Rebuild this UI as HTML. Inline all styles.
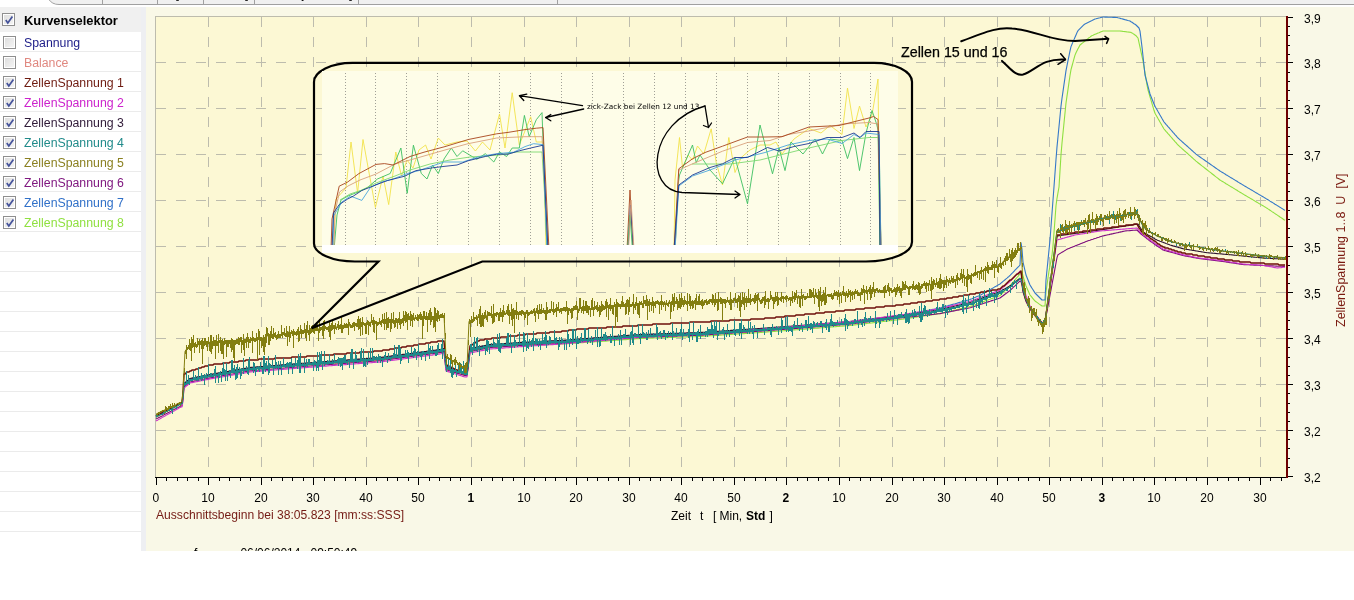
<!DOCTYPE html>
<html><head><meta charset="utf-8"><style>
*{margin:0;padding:0;box-sizing:border-box}
html,body{width:1354px;height:600px;overflow:hidden;background:#fff}
body{position:relative;font-family:"Liberation Sans",Arial,sans-serif;}
.abs{position:absolute}
#tabs{position:absolute;left:0;top:0;width:1354px;height:5px;overflow:hidden}
#tabbg{position:absolute;left:50px;top:0;right:0;height:4px;background:#f0f0f0;border-bottom:1px solid #a0a0a0}
.tsep{position:absolute;top:0;width:1px;height:4px;background:#a0a0a0}
.frag{position:absolute;top:-13px;font-size:13px;line-height:14px;color:#000}
#left{position:absolute;left:0;top:7px;width:141px;height:544px;background:#fff;overflow:hidden}
#hdr{position:absolute;left:0;top:0;width:141px;height:25px;background:#f0f0f0}
#hdr span{position:absolute;left:24px;top:5.5px;font-weight:bold;font-size:12.9px;line-height:15px;color:#000}
#gap{position:absolute;left:141px;top:7px;width:5px;height:544px;background:#eeeff2}
#right{position:absolute;left:146px;top:7px;width:1208px;height:544px;background:#f9f8e7}
.row{position:absolute;left:0;width:141px;height:20px;border-bottom:1px solid #ebebeb;margin-top:-7px}
.row span{position:absolute;left:24px;top:3.5px;font-size:12.3px;line-height:15px;white-space:nowrap}
.cb{position:absolute;left:3px;top:4px;width:13px;height:13px;border:1px solid #8f8f8f;background:linear-gradient(135deg,#dcdcdc,#f6f6f6);box-shadow:inset 0 0 0 1px #fff}
.ck{position:absolute;left:1px;top:1px}
#hdr .cb{left:2px;top:6px}
.xl{position:absolute;top:491px;width:40px;text-align:center;font-size:12px;line-height:14px;color:#000}
.yl{position:absolute;left:1304px;font-size:12px;line-height:15px;color:#000}
#zeit{position:absolute;left:671px;top:509px;font-size:12px;line-height:14px;white-space:pre;color:#000}
#zeit span{position:absolute;top:0}
#aus{position:absolute;left:156px;top:508px;font-size:12.1px;line-height:14px;color:#741a14;white-space:nowrap}
#ytitle{position:absolute;left:1335px;top:327px;transform-origin:0 0;transform:rotate(-90deg);font-size:12.5px;line-height:12px;color:#7a1a10;white-space:pre}
#foot{position:absolute;left:146px;top:540px;width:700px;height:11px;overflow:hidden}
#foot span{position:absolute;top:6px;font-size:12px;line-height:14px;color:#000;white-space:pre}
</style></head><body>
<div id="tabs"><svg class="abs" style="left:0;top:0" width="1354" height="6"><path d="M48.5,-1 Q52,4 59,4 L1354,4 L1354,-1 Z" fill="#f0f0f0"/><path d="M48.5,-1 Q52,4.5 59,4.5 L1354,4.5" fill="none" stroke="#a0a0a0" stroke-width="1"/></svg>
<div class="tsep" style="left:102px"></div><div class="tsep" style="left:157px"></div><div class="tsep" style="left:203px"></div>
<div class="tsep" style="left:254px"></div><div class="tsep" style="left:358px"></div><div class="tsep" style="left:557px"></div>
<span class="frag" style="left:176px">]</span><span class="frag" style="left:245px">]</span><span class="frag" style="left:302px">j</span><span class="frag" style="left:349px">]</span>
</div>
<div id="left"><div id="hdr"><div class="cb"><svg class="ck" width="11" height="11" viewBox="0 0 11 11"><path d="M1.8 5.0 L3.8 7.9 L8.4 1.5" fill="none" stroke="#44529a" stroke-width="1.7"/></svg></div><span>Kurvenselektor</span></div>
<div class="row" style="top:32px"><div class="cb"></div><span style="color:#1c1c88">Spannung</span></div><div class="row" style="top:52px"><div class="cb"></div><span style="color:#e08880">Balance</span></div><div class="row" style="top:72px"><div class="cb"><svg class="ck" width="11" height="11" viewBox="0 0 11 11"><path d="M1.8 5.0 L3.8 7.9 L8.4 1.5" fill="none" stroke="#44529a" stroke-width="1.7"/></svg></div><span style="color:#6e1a10">ZellenSpannung 1</span></div><div class="row" style="top:92px"><div class="cb"><svg class="ck" width="11" height="11" viewBox="0 0 11 11"><path d="M1.8 5.0 L3.8 7.9 L8.4 1.5" fill="none" stroke="#44529a" stroke-width="1.7"/></svg></div><span style="color:#cc22cc">ZellenSpannung 2</span></div><div class="row" style="top:112px"><div class="cb"><svg class="ck" width="11" height="11" viewBox="0 0 11 11"><path d="M1.8 5.0 L3.8 7.9 L8.4 1.5" fill="none" stroke="#44529a" stroke-width="1.7"/></svg></div><span style="color:#301a38">ZellenSpannung 3</span></div><div class="row" style="top:132px"><div class="cb"><svg class="ck" width="11" height="11" viewBox="0 0 11 11"><path d="M1.8 5.0 L3.8 7.9 L8.4 1.5" fill="none" stroke="#44529a" stroke-width="1.7"/></svg></div><span style="color:#208a8a">ZellenSpannung 4</span></div><div class="row" style="top:152px"><div class="cb"><svg class="ck" width="11" height="11" viewBox="0 0 11 11"><path d="M1.8 5.0 L3.8 7.9 L8.4 1.5" fill="none" stroke="#44529a" stroke-width="1.7"/></svg></div><span style="color:#8a8020">ZellenSpannung 5</span></div><div class="row" style="top:172px"><div class="cb"><svg class="ck" width="11" height="11" viewBox="0 0 11 11"><path d="M1.8 5.0 L3.8 7.9 L8.4 1.5" fill="none" stroke="#44529a" stroke-width="1.7"/></svg></div><span style="color:#801880">ZellenSpannung 6</span></div><div class="row" style="top:192px"><div class="cb"><svg class="ck" width="11" height="11" viewBox="0 0 11 11"><path d="M1.8 5.0 L3.8 7.9 L8.4 1.5" fill="none" stroke="#44529a" stroke-width="1.7"/></svg></div><span style="color:#3070c8">ZellenSpannung 7</span></div><div class="row" style="top:212px"><div class="cb"><svg class="ck" width="11" height="11" viewBox="0 0 11 11"><path d="M1.8 5.0 L3.8 7.9 L8.4 1.5" fill="none" stroke="#44529a" stroke-width="1.7"/></svg></div><span style="color:#90e040">ZellenSpannung 8</span></div><div class="row" style="top:232px"></div><div class="row" style="top:252px"></div><div class="row" style="top:272px"></div><div class="row" style="top:292px"></div><div class="row" style="top:312px"></div><div class="row" style="top:332px"></div><div class="row" style="top:352px"></div><div class="row" style="top:372px"></div><div class="row" style="top:392px"></div><div class="row" style="top:412px"></div><div class="row" style="top:432px"></div><div class="row" style="top:452px"></div><div class="row" style="top:472px"></div><div class="row" style="top:492px"></div><div class="row" style="top:512px"></div><div class="row" style="top:532px"></div>
</div>
<div id="gap"></div>
<div id="right"></div>
<svg width="1354" height="600" viewBox="0 0 1354 600" style="position:absolute;left:0;top:0" shape-rendering="crispEdges"><rect x="155" y="16" width="1131" height="461" fill="#fcf8d4"/><line x1="208.5" y1="17" x2="208.5" y2="477" stroke="#bdbcad" stroke-dasharray="10 10"/><line x1="261.5" y1="17" x2="261.5" y2="477" stroke="#bdbcad" stroke-dasharray="10 10"/><line x1="313.5" y1="17" x2="313.5" y2="477" stroke="#bdbcad" stroke-dasharray="10 10"/><line x1="366.5" y1="17" x2="366.5" y2="477" stroke="#bdbcad" stroke-dasharray="10 10"/><line x1="418.5" y1="17" x2="418.5" y2="477" stroke="#bdbcad" stroke-dasharray="10 10"/><line x1="471.5" y1="17" x2="471.5" y2="477" stroke="#bdbcad" stroke-dasharray="10 10"/><line x1="524.5" y1="17" x2="524.5" y2="477" stroke="#bdbcad" stroke-dasharray="10 10"/><line x1="576.5" y1="17" x2="576.5" y2="477" stroke="#bdbcad" stroke-dasharray="10 10"/><line x1="629.5" y1="17" x2="629.5" y2="477" stroke="#bdbcad" stroke-dasharray="10 10"/><line x1="681.5" y1="17" x2="681.5" y2="477" stroke="#bdbcad" stroke-dasharray="10 10"/><line x1="734.5" y1="17" x2="734.5" y2="477" stroke="#bdbcad" stroke-dasharray="10 10"/><line x1="786.5" y1="17" x2="786.5" y2="477" stroke="#bdbcad" stroke-dasharray="10 10"/><line x1="839.5" y1="17" x2="839.5" y2="477" stroke="#bdbcad" stroke-dasharray="10 10"/><line x1="892.5" y1="17" x2="892.5" y2="477" stroke="#bdbcad" stroke-dasharray="10 10"/><line x1="944.5" y1="17" x2="944.5" y2="477" stroke="#bdbcad" stroke-dasharray="10 10"/><line x1="997.5" y1="17" x2="997.5" y2="477" stroke="#bdbcad" stroke-dasharray="10 10"/><line x1="1049.5" y1="17" x2="1049.5" y2="477" stroke="#bdbcad" stroke-dasharray="10 10"/><line x1="1102.5" y1="17" x2="1102.5" y2="477" stroke="#bdbcad" stroke-dasharray="10 10"/><line x1="1154.5" y1="17" x2="1154.5" y2="477" stroke="#bdbcad" stroke-dasharray="10 10"/><line x1="1207.5" y1="17" x2="1207.5" y2="477" stroke="#bdbcad" stroke-dasharray="10 10"/><line x1="1260.5" y1="17" x2="1260.5" y2="477" stroke="#bdbcad" stroke-dasharray="10 10"/><line x1="156" y1="62.5" x2="1286" y2="62.5" stroke="#bdbcad" stroke-dasharray="10 10"/><line x1="156" y1="108.5" x2="1286" y2="108.5" stroke="#bdbcad" stroke-dasharray="10 10"/><line x1="156" y1="154.5" x2="1286" y2="154.5" stroke="#bdbcad" stroke-dasharray="10 10"/><line x1="156" y1="200.5" x2="1286" y2="200.5" stroke="#bdbcad" stroke-dasharray="10 10"/><line x1="156" y1="246.5" x2="1286" y2="246.5" stroke="#bdbcad" stroke-dasharray="10 10"/><line x1="156" y1="292.5" x2="1286" y2="292.5" stroke="#bdbcad" stroke-dasharray="10 10"/><line x1="156" y1="338.5" x2="1286" y2="338.5" stroke="#bdbcad" stroke-dasharray="10 10"/><line x1="156" y1="384.5" x2="1286" y2="384.5" stroke="#bdbcad" stroke-dasharray="10 10"/><line x1="156" y1="430.5" x2="1286" y2="430.5" stroke="#bdbcad" stroke-dasharray="10 10"/><line x1="155" y1="16.5" x2="1286" y2="16.5" stroke="#bdbcad"/><line x1="155.5" y1="16" x2="155.5" y2="477" stroke="#bdbcad"/></svg>
<svg width="1354" height="600" viewBox="0 0 1354 600" style="position:absolute;left:0;top:0" shape-rendering="crispEdges"><line x1="155" y1="477.5" x2="1288" y2="477.5" stroke="#000"/><line x1="156.5" y1="478" x2="156.5" y2="485" stroke="#000"/><line x1="166.5" y1="478" x2="166.5" y2="481" stroke="#000"/><line x1="177.5" y1="478" x2="177.5" y2="481" stroke="#000"/><line x1="187.5" y1="478" x2="187.5" y2="481" stroke="#000"/><line x1="198.5" y1="478" x2="198.5" y2="481" stroke="#000"/><line x1="208.5" y1="478" x2="208.5" y2="485" stroke="#000"/><line x1="219.5" y1="478" x2="219.5" y2="481" stroke="#000"/><line x1="229.5" y1="478" x2="229.5" y2="481" stroke="#000"/><line x1="240.5" y1="478" x2="240.5" y2="481" stroke="#000"/><line x1="250.5" y1="478" x2="250.5" y2="481" stroke="#000"/><line x1="261.5" y1="478" x2="261.5" y2="485" stroke="#000"/><line x1="271.5" y1="478" x2="271.5" y2="481" stroke="#000"/><line x1="282.5" y1="478" x2="282.5" y2="481" stroke="#000"/><line x1="292.5" y1="478" x2="292.5" y2="481" stroke="#000"/><line x1="303.5" y1="478" x2="303.5" y2="481" stroke="#000"/><line x1="313.5" y1="478" x2="313.5" y2="485" stroke="#000"/><line x1="324.5" y1="478" x2="324.5" y2="481" stroke="#000"/><line x1="334.5" y1="478" x2="334.5" y2="481" stroke="#000"/><line x1="345.5" y1="478" x2="345.5" y2="481" stroke="#000"/><line x1="355.5" y1="478" x2="355.5" y2="481" stroke="#000"/><line x1="366.5" y1="478" x2="366.5" y2="485" stroke="#000"/><line x1="376.5" y1="478" x2="376.5" y2="481" stroke="#000"/><line x1="387.5" y1="478" x2="387.5" y2="481" stroke="#000"/><line x1="397.5" y1="478" x2="397.5" y2="481" stroke="#000"/><line x1="408.5" y1="478" x2="408.5" y2="481" stroke="#000"/><line x1="418.5" y1="478" x2="418.5" y2="485" stroke="#000"/><line x1="429.5" y1="478" x2="429.5" y2="481" stroke="#000"/><line x1="439.5" y1="478" x2="439.5" y2="481" stroke="#000"/><line x1="450.5" y1="478" x2="450.5" y2="481" stroke="#000"/><line x1="460.5" y1="478" x2="460.5" y2="481" stroke="#000"/><line x1="471.5" y1="478" x2="471.5" y2="485" stroke="#000"/><line x1="481.5" y1="478" x2="481.5" y2="481" stroke="#000"/><line x1="492.5" y1="478" x2="492.5" y2="481" stroke="#000"/><line x1="502.5" y1="478" x2="502.5" y2="481" stroke="#000"/><line x1="513.5" y1="478" x2="513.5" y2="481" stroke="#000"/><line x1="524.5" y1="478" x2="524.5" y2="485" stroke="#000"/><line x1="534.5" y1="478" x2="534.5" y2="481" stroke="#000"/><line x1="545.5" y1="478" x2="545.5" y2="481" stroke="#000"/><line x1="555.5" y1="478" x2="555.5" y2="481" stroke="#000"/><line x1="566.5" y1="478" x2="566.5" y2="481" stroke="#000"/><line x1="576.5" y1="478" x2="576.5" y2="485" stroke="#000"/><line x1="587.5" y1="478" x2="587.5" y2="481" stroke="#000"/><line x1="597.5" y1="478" x2="597.5" y2="481" stroke="#000"/><line x1="608.5" y1="478" x2="608.5" y2="481" stroke="#000"/><line x1="618.5" y1="478" x2="618.5" y2="481" stroke="#000"/><line x1="629.5" y1="478" x2="629.5" y2="485" stroke="#000"/><line x1="639.5" y1="478" x2="639.5" y2="481" stroke="#000"/><line x1="650.5" y1="478" x2="650.5" y2="481" stroke="#000"/><line x1="660.5" y1="478" x2="660.5" y2="481" stroke="#000"/><line x1="671.5" y1="478" x2="671.5" y2="481" stroke="#000"/><line x1="681.5" y1="478" x2="681.5" y2="485" stroke="#000"/><line x1="692.5" y1="478" x2="692.5" y2="481" stroke="#000"/><line x1="702.5" y1="478" x2="702.5" y2="481" stroke="#000"/><line x1="713.5" y1="478" x2="713.5" y2="481" stroke="#000"/><line x1="723.5" y1="478" x2="723.5" y2="481" stroke="#000"/><line x1="734.5" y1="478" x2="734.5" y2="485" stroke="#000"/><line x1="744.5" y1="478" x2="744.5" y2="481" stroke="#000"/><line x1="755.5" y1="478" x2="755.5" y2="481" stroke="#000"/><line x1="765.5" y1="478" x2="765.5" y2="481" stroke="#000"/><line x1="776.5" y1="478" x2="776.5" y2="481" stroke="#000"/><line x1="786.5" y1="478" x2="786.5" y2="485" stroke="#000"/><line x1="797.5" y1="478" x2="797.5" y2="481" stroke="#000"/><line x1="807.5" y1="478" x2="807.5" y2="481" stroke="#000"/><line x1="818.5" y1="478" x2="818.5" y2="481" stroke="#000"/><line x1="828.5" y1="478" x2="828.5" y2="481" stroke="#000"/><line x1="839.5" y1="478" x2="839.5" y2="485" stroke="#000"/><line x1="849.5" y1="478" x2="849.5" y2="481" stroke="#000"/><line x1="860.5" y1="478" x2="860.5" y2="481" stroke="#000"/><line x1="870.5" y1="478" x2="870.5" y2="481" stroke="#000"/><line x1="881.5" y1="478" x2="881.5" y2="481" stroke="#000"/><line x1="892.5" y1="478" x2="892.5" y2="485" stroke="#000"/><line x1="902.5" y1="478" x2="902.5" y2="481" stroke="#000"/><line x1="913.5" y1="478" x2="913.5" y2="481" stroke="#000"/><line x1="923.5" y1="478" x2="923.5" y2="481" stroke="#000"/><line x1="934.5" y1="478" x2="934.5" y2="481" stroke="#000"/><line x1="944.5" y1="478" x2="944.5" y2="485" stroke="#000"/><line x1="955.5" y1="478" x2="955.5" y2="481" stroke="#000"/><line x1="965.5" y1="478" x2="965.5" y2="481" stroke="#000"/><line x1="976.5" y1="478" x2="976.5" y2="481" stroke="#000"/><line x1="986.5" y1="478" x2="986.5" y2="481" stroke="#000"/><line x1="997.5" y1="478" x2="997.5" y2="485" stroke="#000"/><line x1="1007.5" y1="478" x2="1007.5" y2="481" stroke="#000"/><line x1="1018.5" y1="478" x2="1018.5" y2="481" stroke="#000"/><line x1="1028.5" y1="478" x2="1028.5" y2="481" stroke="#000"/><line x1="1039.5" y1="478" x2="1039.5" y2="481" stroke="#000"/><line x1="1049.5" y1="478" x2="1049.5" y2="485" stroke="#000"/><line x1="1060.5" y1="478" x2="1060.5" y2="481" stroke="#000"/><line x1="1070.5" y1="478" x2="1070.5" y2="481" stroke="#000"/><line x1="1081.5" y1="478" x2="1081.5" y2="481" stroke="#000"/><line x1="1091.5" y1="478" x2="1091.5" y2="481" stroke="#000"/><line x1="1102.5" y1="478" x2="1102.5" y2="485" stroke="#000"/><line x1="1112.5" y1="478" x2="1112.5" y2="481" stroke="#000"/><line x1="1123.5" y1="478" x2="1123.5" y2="481" stroke="#000"/><line x1="1133.5" y1="478" x2="1133.5" y2="481" stroke="#000"/><line x1="1144.5" y1="478" x2="1144.5" y2="481" stroke="#000"/><line x1="1154.5" y1="478" x2="1154.5" y2="485" stroke="#000"/><line x1="1165.5" y1="478" x2="1165.5" y2="481" stroke="#000"/><line x1="1175.5" y1="478" x2="1175.5" y2="481" stroke="#000"/><line x1="1186.5" y1="478" x2="1186.5" y2="481" stroke="#000"/><line x1="1196.5" y1="478" x2="1196.5" y2="481" stroke="#000"/><line x1="1207.5" y1="478" x2="1207.5" y2="485" stroke="#000"/><line x1="1217.5" y1="478" x2="1217.5" y2="481" stroke="#000"/><line x1="1228.5" y1="478" x2="1228.5" y2="481" stroke="#000"/><line x1="1238.5" y1="478" x2="1238.5" y2="481" stroke="#000"/><line x1="1249.5" y1="478" x2="1249.5" y2="481" stroke="#000"/><line x1="1260.5" y1="478" x2="1260.5" y2="485" stroke="#000"/><line x1="1270.5" y1="478" x2="1270.5" y2="481" stroke="#000"/><line x1="1281.5" y1="478" x2="1281.5" y2="481" stroke="#000"/><rect x="1286" y="16" width="2" height="462" fill="#6e0000"/><line x1="1288" y1="17.5" x2="1293" y2="17.5" stroke="#000"/><line x1="1288" y1="26.5" x2="1290" y2="26.5" stroke="#000"/><line x1="1288" y1="35.5" x2="1290" y2="35.5" stroke="#000"/><line x1="1288" y1="45.5" x2="1290" y2="45.5" stroke="#000"/><line x1="1288" y1="54.5" x2="1290" y2="54.5" stroke="#000"/><line x1="1288" y1="62.5" x2="1293" y2="62.5" stroke="#000"/><line x1="1288" y1="72.5" x2="1290" y2="72.5" stroke="#000"/><line x1="1288" y1="81.5" x2="1290" y2="81.5" stroke="#000"/><line x1="1288" y1="90.5" x2="1290" y2="90.5" stroke="#000"/><line x1="1288" y1="100.5" x2="1290" y2="100.5" stroke="#000"/><line x1="1288" y1="108.5" x2="1293" y2="108.5" stroke="#000"/><line x1="1288" y1="118.5" x2="1290" y2="118.5" stroke="#000"/><line x1="1288" y1="127.5" x2="1290" y2="127.5" stroke="#000"/><line x1="1288" y1="136.5" x2="1290" y2="136.5" stroke="#000"/><line x1="1288" y1="146.5" x2="1290" y2="146.5" stroke="#000"/><line x1="1288" y1="154.5" x2="1293" y2="154.5" stroke="#000"/><line x1="1288" y1="164.5" x2="1290" y2="164.5" stroke="#000"/><line x1="1288" y1="173.5" x2="1290" y2="173.5" stroke="#000"/><line x1="1288" y1="182.5" x2="1290" y2="182.5" stroke="#000"/><line x1="1288" y1="191.5" x2="1290" y2="191.5" stroke="#000"/><line x1="1288" y1="200.5" x2="1293" y2="200.5" stroke="#000"/><line x1="1288" y1="210.5" x2="1290" y2="210.5" stroke="#000"/><line x1="1288" y1="219.5" x2="1290" y2="219.5" stroke="#000"/><line x1="1288" y1="228.5" x2="1290" y2="228.5" stroke="#000"/><line x1="1288" y1="237.5" x2="1290" y2="237.5" stroke="#000"/><line x1="1288" y1="246.5" x2="1293" y2="246.5" stroke="#000"/><line x1="1288" y1="256.5" x2="1290" y2="256.5" stroke="#000"/><line x1="1288" y1="265.5" x2="1290" y2="265.5" stroke="#000"/><line x1="1288" y1="274.5" x2="1290" y2="274.5" stroke="#000"/><line x1="1288" y1="283.5" x2="1290" y2="283.5" stroke="#000"/><line x1="1288" y1="292.5" x2="1293" y2="292.5" stroke="#000"/><line x1="1288" y1="302.5" x2="1290" y2="302.5" stroke="#000"/><line x1="1288" y1="311.5" x2="1290" y2="311.5" stroke="#000"/><line x1="1288" y1="320.5" x2="1290" y2="320.5" stroke="#000"/><line x1="1288" y1="329.5" x2="1290" y2="329.5" stroke="#000"/><line x1="1288" y1="338.5" x2="1293" y2="338.5" stroke="#000"/><line x1="1288" y1="347.5" x2="1290" y2="347.5" stroke="#000"/><line x1="1288" y1="357.5" x2="1290" y2="357.5" stroke="#000"/><line x1="1288" y1="366.5" x2="1290" y2="366.5" stroke="#000"/><line x1="1288" y1="375.5" x2="1290" y2="375.5" stroke="#000"/><line x1="1288" y1="384.5" x2="1293" y2="384.5" stroke="#000"/><line x1="1288" y1="393.5" x2="1290" y2="393.5" stroke="#000"/><line x1="1288" y1="403.5" x2="1290" y2="403.5" stroke="#000"/><line x1="1288" y1="412.5" x2="1290" y2="412.5" stroke="#000"/><line x1="1288" y1="421.5" x2="1290" y2="421.5" stroke="#000"/><line x1="1288" y1="430.5" x2="1293" y2="430.5" stroke="#000"/><line x1="1288" y1="439.5" x2="1290" y2="439.5" stroke="#000"/><line x1="1288" y1="448.5" x2="1290" y2="448.5" stroke="#000"/><line x1="1288" y1="458.5" x2="1290" y2="458.5" stroke="#000"/><line x1="1288" y1="467.5" x2="1290" y2="467.5" stroke="#000"/><line x1="1288" y1="476.5" x2="1293" y2="476.5" stroke="#000"/></svg>
<div class="xl" style="left:135.9px;">0</div><div class="xl" style="left:187.9px;">10</div><div class="xl" style="left:240.9px;">20</div><div class="xl" style="left:292.9px;">30</div><div class="xl" style="left:345.9px;">40</div><div class="xl" style="left:397.9px;">50</div><div class="xl" style="left:450.9px; font-weight:bold;">1</div><div class="xl" style="left:503.9px;">10</div><div class="xl" style="left:555.9px;">20</div><div class="xl" style="left:608.9px;">30</div><div class="xl" style="left:660.9px;">40</div><div class="xl" style="left:713.9px;">50</div><div class="xl" style="left:765.9px; font-weight:bold;">2</div><div class="xl" style="left:818.9px;">10</div><div class="xl" style="left:871.9px;">20</div><div class="xl" style="left:923.9px;">30</div><div class="xl" style="left:976.9px;">40</div><div class="xl" style="left:1028.9px;">50</div><div class="xl" style="left:1081.9px; font-weight:bold;">3</div><div class="xl" style="left:1133.9px;">10</div><div class="xl" style="left:1186.9px;">20</div><div class="xl" style="left:1239.9px;">30</div><div class="yl" style="top:11.5px">3,9</div><div class="yl" style="top:56.5px">3,8</div><div class="yl" style="top:102.5px">3,7</div><div class="yl" style="top:148.5px">3,7</div><div class="yl" style="top:194.5px">3,6</div><div class="yl" style="top:240.5px">3,5</div><div class="yl" style="top:286.5px">3,5</div><div class="yl" style="top:332.5px">3,4</div><div class="yl" style="top:378.5px">3,3</div><div class="yl" style="top:424.5px">3,2</div><div class="yl" style="top:470.5px">3,2</div>
<div id="aus">Ausschnittsbeginn bei 38:05.823 [mm:ss:SSS]</div>
<div id="zeit"><span style="left:0">Zeit</span><span style="left:29px">t</span><span style="left:42px">[</span><span style="left:48.5px">Min,</span><span style="left:75px;font-weight:bold">Std</span><span style="left:98.5px">]</span></div>
<div id="ytitle">ZellenSpannung 1..8  U  [V]</div>
<div id="foot"><span style="left:48px">f</span><span style="left:94.4px">06/06/2014</span><span style="left:164.5px">09:50:49</span></div>
<svg width="1354" height="600" viewBox="0 0 1354 600" style="position:absolute;left:0;top:0"><g fill="none" stroke-linejoin="round" stroke-width="1.1"><polyline points="156.0,417.0 157.0,416.5 158.0,416.0 159.0,415.5 160.0,414.9 161.0,414.4 162.0,413.9 163.0,413.4 164.0,412.9 165.0,412.4 166.0,411.8 167.0,411.3 168.0,410.8 169.0,410.3 170.0,409.8 171.0,409.3 172.0,408.7 173.0,408.2 174.0,407.7 175.0,407.2 176.0,406.7 177.0,406.2 178.0,405.7 179.0,405.1 180.0,404.6 181.0,404.1 182.0,404.1 183.0,397.8 184.0,385.1 185.0,384.3 186.0,383.5 187.0,382.6 188.0,381.8 189.0,381.0 190.0,380.1 191.0,380.0 192.0,379.8 193.0,379.6 194.0,379.4 195.0,379.2 196.0,379.0 197.0,378.8 198.0,378.6 199.0,378.4 200.0,378.2 201.0,378.0 202.0,377.8 203.0,377.6 204.0,377.4 205.0,377.2 206.0,377.0 207.0,376.8 208.0,376.6 209.0,376.4 210.0,376.2 211.0,376.1 212.0,375.9 213.0,375.7 214.0,375.6 215.0,375.4 216.0,375.2 217.0,375.0 218.0,374.9 219.0,374.7 220.0,374.5 221.0,374.4 222.0,374.2 223.0,374.0 224.0,373.8 225.0,373.7 226.0,373.5 227.0,373.3 228.0,373.2 229.0,373.0 230.0,372.8 231.0,372.7 232.0,372.5 233.0,372.3 234.0,372.1 235.0,372.0 236.0,371.8 237.0,371.6 238.0,371.5 239.0,371.3 240.0,371.1 241.0,370.9 242.0,370.8 243.0,370.6 244.0,370.4 245.0,370.3 246.0,370.1 247.0,369.9 248.0,369.8 249.0,369.6 250.0,369.4 251.0,369.3 252.0,369.3 253.0,369.2 254.0,369.1 255.0,369.0 256.0,369.0 257.0,368.9 258.0,368.8 259.0,368.7 260.0,368.7 261.0,368.6 262.0,368.5 263.0,368.4 264.0,368.4 265.0,368.3 266.0,368.2 267.0,368.1 268.0,368.0 269.0,368.0 270.0,367.9 271.0,367.8 272.0,367.7 273.0,367.7 274.0,367.6 275.0,367.5 276.0,367.4 277.0,367.4 278.0,367.3 279.0,367.2 280.0,367.1 281.0,367.1 282.0,367.0 283.0,366.9 284.0,366.8 285.0,366.8 286.0,366.7 287.0,366.6 288.0,366.5 289.0,366.5 290.0,366.4 291.0,366.3 292.0,366.2 293.0,366.2 294.0,366.1 295.0,366.0 296.0,365.9 297.0,365.9 298.0,365.8 299.0,365.7 300.0,365.6 301.0,365.6 302.0,365.5 303.0,365.4 304.0,365.3 305.0,365.3 306.0,365.2 307.0,365.1 308.0,365.1 309.0,365.0 310.0,364.9 311.0,364.9 312.0,364.8 313.0,364.7 314.0,364.6 315.0,364.6 316.0,364.5 317.0,364.4 318.0,364.4 319.0,364.3 320.0,364.2 321.0,364.1 322.0,364.1 323.0,364.0 324.0,363.9 325.0,363.9 326.0,363.8 327.0,363.7 328.0,363.6 329.0,363.6 330.0,363.5 331.0,363.4 332.0,363.4 333.0,363.3 334.0,363.2 335.0,363.2 336.0,363.1 337.0,363.0 338.0,362.9 339.0,362.9 340.0,362.8 341.0,362.7 342.0,362.7 343.0,362.6 344.0,362.5 345.0,362.4 346.0,362.4 347.0,362.3 348.0,362.2 349.0,362.2 350.0,362.1 351.0,362.0 352.0,362.0 353.0,361.9 354.0,361.8 355.0,361.7 356.0,361.7 357.0,361.6 358.0,361.5 359.0,361.5 360.0,361.4 361.0,361.3 362.0,361.2 363.0,361.2 364.0,361.1 365.0,361.0 366.0,361.0 367.0,360.9 368.0,360.8 369.0,360.8 370.0,360.7 371.0,360.6 372.0,360.5 373.0,360.5 374.0,360.4 375.0,360.3 376.0,360.3 377.0,360.2 378.0,360.1 379.0,360.0 380.0,360.0 381.0,359.8 382.0,359.7 383.0,359.6 384.0,359.5 385.0,359.3 386.0,359.2 387.0,359.1 388.0,358.9 389.0,358.8 390.0,358.7 391.0,358.6 392.0,358.4 393.0,358.3 394.0,358.2 395.0,358.0 396.0,357.9 397.0,357.8 398.0,357.7 399.0,357.5 400.0,357.4 401.0,357.3 402.0,357.1 403.0,357.0 404.0,356.9 405.0,356.8 406.0,356.6 407.0,356.5 408.0,356.4 409.0,356.2 410.0,356.1 411.0,356.0 412.0,355.8 413.0,355.7 414.0,355.6 415.0,355.5 416.0,355.3 417.0,355.2 418.0,355.1 419.0,354.9 420.0,354.8 421.0,354.7 422.0,354.6 423.0,354.4 424.0,354.3 425.0,354.2 426.0,354.0 427.0,353.9 428.0,353.8 429.0,353.7 430.0,353.5 431.0,353.4 432.0,353.3 433.0,353.1 434.0,353.0 435.0,352.9 436.0,352.8 437.0,352.6 438.0,352.5 439.0,352.4 440.0,352.2 441.0,352.0 442.0,351.7 443.0,351.5 444.0,351.3 445.0,360.3 446.0,369.3 447.0,369.6 448.0,369.9 449.0,370.2 450.0,370.5 451.0,370.9 452.0,371.2 453.0,371.5 454.0,371.8 455.0,372.1 456.0,372.5 457.0,372.8 458.0,373.1 459.0,373.4 460.0,373.7 461.0,374.1 462.0,374.4 463.0,374.7 464.0,375.0 465.0,375.3 466.0,375.4 467.0,375.4 468.0,367.4 469.0,359.4 470.0,351.4 471.0,351.2 472.0,351.0 473.0,350.8 474.0,350.6 475.0,350.4 476.0,350.2 477.0,350.0 478.0,349.8 479.0,349.6 480.0,349.4 481.0,349.2 482.0,349.0 483.0,348.8 484.0,348.6 485.0,348.4 486.0,348.2 487.0,348.0 488.0,347.8 489.0,347.7 490.0,347.5 491.0,347.4 492.0,347.3 493.0,347.3 494.0,347.2 495.0,347.1 496.0,347.1 497.0,347.0 498.0,347.0 499.0,346.9 500.0,346.8 501.0,346.8 502.0,346.7 503.0,346.7 504.0,346.6 505.0,346.6 506.0,346.5 507.0,346.4 508.0,346.4 509.0,346.3 510.0,346.3 511.0,346.2 512.0,346.2 513.0,346.1 514.0,346.0 515.0,346.0 516.0,345.9 517.0,345.9 518.0,345.8 519.0,345.8 520.0,345.7 521.0,345.7 522.0,345.6 523.0,345.6 524.0,345.5 525.0,345.5 526.0,345.5 527.0,345.4 528.0,345.4 529.0,345.3 530.0,345.3 531.0,345.3 532.0,345.2 533.0,345.2 534.0,345.1 535.0,345.1 536.0,345.1 537.0,345.0 538.0,345.0 539.0,344.9 540.0,344.9 541.0,344.9 542.0,344.8 543.0,344.8 544.0,344.7 545.0,344.7 546.0,344.7 547.0,344.6 548.0,344.6 549.0,344.5 550.0,344.5 551.0,344.5 552.0,344.4 553.0,344.4 554.0,344.3 555.0,344.3 556.0,344.3 557.0,344.2 558.0,344.2 559.0,344.1 560.0,344.1 561.0,344.0 562.0,344.0 563.0,343.9 564.0,343.8 565.0,343.8 566.0,343.7 567.0,343.6 568.0,343.6 569.0,343.5 570.0,343.4 571.0,343.4 572.0,343.3 573.0,343.3 574.0,343.2 575.0,343.1 576.0,343.1 577.0,343.0 578.0,342.9 579.0,342.9 580.0,342.8 581.0,342.7 582.0,342.7 583.0,342.6 584.0,342.5 585.0,342.5 586.0,342.4 587.0,342.3 588.0,342.3 589.0,342.2 590.0,342.1 591.0,342.1 592.0,342.0 593.0,342.0 594.0,341.9 595.0,341.8 596.0,341.8 597.0,341.7 598.0,341.6 599.0,341.6 600.0,341.5 601.0,341.4 602.0,341.4 603.0,341.3 604.0,341.2 605.0,341.1 606.0,341.1 607.0,341.0 608.0,340.9 609.0,340.8 610.0,340.8 611.0,340.7 612.0,340.6 613.0,340.5 614.0,340.4 615.0,340.4 616.0,340.3 617.0,340.2 618.0,340.1 619.0,340.1 620.0,340.0 621.0,339.9 622.0,339.9 623.0,339.8 624.0,339.7 625.0,339.6 626.0,339.6 627.0,339.5 628.0,339.4 629.0,339.3 630.0,339.2 631.0,339.2 632.0,339.1 633.0,339.0 634.0,338.9 635.0,338.9 636.0,338.8 637.0,338.7 638.0,338.6 639.0,338.6 640.0,338.5 641.0,338.5 642.0,338.4 643.0,338.4 644.0,338.4 645.0,338.3 646.0,338.3 647.0,338.3 648.0,338.2 649.0,338.2 650.0,338.2 651.0,338.1 652.0,338.1 653.0,338.1 654.0,338.0 655.0,338.0 656.0,338.0 657.0,337.9 658.0,337.9 659.0,337.9 660.0,337.8 661.0,337.8 662.0,337.8 663.0,337.7 664.0,337.7 665.0,337.7 666.0,337.6 667.0,337.6 668.0,337.6 669.0,337.5 670.0,337.5 671.0,337.5 672.0,337.4 673.0,337.4 674.0,337.4 675.0,337.3 676.0,337.3 677.0,337.3 678.0,337.2 679.0,337.2 680.0,337.2 681.0,337.1 682.0,337.1 683.0,337.1 684.0,337.0 685.0,337.0 686.0,337.0 687.0,336.9 688.0,336.9 689.0,336.9 690.0,336.8 691.0,336.8 692.0,336.8 693.0,336.7 694.0,336.7 695.0,336.7 696.0,336.6 697.0,336.6 698.0,336.6 699.0,336.5 700.0,336.5 701.0,336.4 702.0,336.4 703.0,336.3 704.0,336.2 705.0,336.2 706.0,336.1 707.0,336.0 708.0,336.0 709.0,335.9 710.0,335.8 711.0,335.8 712.0,335.7 713.0,335.6 714.0,335.6 715.0,335.5 716.0,335.4 717.0,335.4 718.0,335.3 719.0,335.2 720.0,335.2 721.0,335.1 722.0,335.0 723.0,335.0 724.0,334.9 725.0,334.8 726.0,334.8 727.0,334.7 728.0,334.6 729.0,334.6 730.0,334.5 731.0,334.4 732.0,334.4 733.0,334.3 734.0,334.2 735.0,334.2 736.0,334.1 737.0,334.0 738.0,334.0 739.0,333.9 740.0,333.8 741.0,333.8 742.0,333.7 743.0,333.6 744.0,333.6 745.0,333.5 746.0,333.4 747.0,333.4 748.0,333.3 749.0,333.2 750.0,333.2 751.0,333.1 752.0,333.0 753.0,333.0 754.0,332.9 755.0,332.8 756.0,332.8 757.0,332.7 758.0,332.6 759.0,332.6 760.0,332.5 761.0,332.4 762.0,332.4 763.0,332.3 764.0,332.2 765.0,332.1 766.0,332.1 767.0,332.0 768.0,331.9 769.0,331.8 770.0,331.8 771.0,331.7 772.0,331.6 773.0,331.5 774.0,331.4 775.0,331.4 776.0,331.3 777.0,331.2 778.0,331.1 779.0,331.1 780.0,331.0 781.0,330.9 782.0,330.9 783.0,330.8 784.0,330.7 785.0,330.6 786.0,330.6 787.0,330.5 788.0,330.4 789.0,330.3 790.0,330.2 791.0,330.2 792.0,330.1 793.0,330.0 794.0,329.9 795.0,329.9 796.0,329.8 797.0,329.7 798.0,329.6 799.0,329.6 800.0,329.5 801.0,329.4 802.0,329.3 803.0,329.3 804.0,329.2 805.0,329.1 806.0,329.0 807.0,328.9 808.0,328.9 809.0,328.8 810.0,328.7 811.0,328.6 812.0,328.5 813.0,328.5 814.0,328.4 815.0,328.3 816.0,328.2 817.0,328.1 818.0,328.1 819.0,328.0 820.0,327.9 821.0,327.8 822.0,327.7 823.0,327.7 824.0,327.6 825.0,327.5 826.0,327.4 827.0,327.3 828.0,327.3 829.0,327.2 830.0,327.1 831.0,327.0 832.0,326.9 833.0,326.9 834.0,326.8 835.0,326.7 836.0,326.6 837.0,326.5 838.0,326.5 839.0,326.4 840.0,326.3 841.0,326.2 842.0,326.1 843.0,326.1 844.0,326.0 845.0,325.9 846.0,325.8 847.0,325.7 848.0,325.7 849.0,325.6 850.0,325.5 851.0,325.4 852.0,325.3 853.0,325.1 854.0,325.0 855.0,324.9 856.0,324.8 857.0,324.7 858.0,324.5 859.0,324.4 860.0,324.3 861.0,324.2 862.0,324.1 863.0,323.9 864.0,323.8 865.0,323.7 866.0,323.6 867.0,323.5 868.0,323.3 869.0,323.2 870.0,323.1 871.0,323.0 872.0,322.9 873.0,322.7 874.0,322.6 875.0,322.5 876.0,322.4 877.0,322.3 878.0,322.1 879.0,322.0 880.0,321.9 881.0,321.8 882.0,321.7 883.0,321.5 884.0,321.4 885.0,321.3 886.0,321.2 887.0,321.1 888.0,320.9 889.0,320.8 890.0,320.7 891.0,320.6 892.0,320.5 893.0,320.3 894.0,320.2 895.0,320.1 896.0,320.0 897.0,319.9 898.0,319.7 899.0,319.6 900.0,319.5 901.0,319.4 902.0,319.2 903.0,319.1 904.0,318.9 905.0,318.8 906.0,318.6 907.0,318.4 908.0,318.3 909.0,318.1 910.0,318.0 911.0,317.9 912.0,317.7 913.0,317.6 914.0,317.4 915.0,317.2 916.0,317.1 917.0,316.9 918.0,316.8 919.0,316.6 920.0,316.5 921.0,316.4 922.0,316.2 923.0,316.1 924.0,315.9 925.0,315.8 926.0,315.6 927.0,315.4 928.0,315.3 929.0,315.1 930.0,315.0 931.0,314.9 932.0,314.7 933.0,314.6 934.0,314.4 935.0,314.2 936.0,314.1 937.0,313.9 938.0,313.8 939.0,313.6 940.0,313.5 941.0,313.3 942.0,313.0 943.0,312.8 944.0,312.6 945.0,312.3 946.0,312.1 947.0,311.9 948.0,311.6 949.0,311.4 950.0,311.2 951.0,310.9 952.0,310.7 953.0,310.5 954.0,310.2 955.0,310.0 956.0,309.8 957.0,309.5 958.0,309.3 959.0,309.1 960.0,308.8 961.0,308.6 962.0,308.4 963.0,308.1 964.0,307.9 965.0,307.7 966.0,307.4 967.0,307.2 968.0,307.0 969.0,306.7 970.0,306.5 971.0,306.1 972.0,305.8 973.0,305.4 974.0,305.0 975.0,304.7 976.0,304.3 977.0,303.9 978.0,303.6 979.0,303.2 980.0,302.8 981.0,302.5 982.0,302.1 983.0,301.7 984.0,301.4 985.0,301.0 986.0,300.6 987.0,300.3 988.0,299.9 989.0,299.5 990.0,299.2 991.0,298.8 992.0,298.4 993.0,298.1 994.0,297.7 995.0,297.3 996.0,297.0 997.0,296.6 998.0,296.2 999.0,295.9 1000.0,295.5 1001.0,294.5 1002.0,293.6 1003.0,292.6 1004.0,291.6 1005.0,290.6 1006.0,289.6 1007.0,288.7 1008.0,287.7 1009.0,286.7 1010.0,285.8 1011.0,284.6 1012.0,283.4 1013.0,282.2 1014.0,281.1 1015.0,279.9 1016.0,278.7 1017.0,277.5 1018.0,276.4 1019.0,275.2 1020.0,274.0 1021.0,271.3 1022.0,272.0 1023.0,276.0 1024.0,279.3 1025.0,282.7 1026.0,286.0 1027.0,288.2 1028.0,290.5 1029.0,292.8 1030.0,295.0 1031.0,296.2 1032.0,297.4 1033.0,298.6 1034.0,299.8 1035.0,301.0 1036.0,301.7 1037.0,302.4 1038.0,303.1 1039.0,303.9 1040.0,304.6 1041.0,305.3 1042.0,306.0 1043.0,306.0 1044.0,306.0 1045.0,306.0 1046.0,291.9 1047.0,284.8 1048.0,277.8 1049.0,271.2 1050.0,265.8 1051.0,260.5 1052.0,255.2 1053.0,245.8 1054.0,232.5 1055.0,219.2 1056.0,205.8 1057.0,198.3 1058.0,192.6 1059.0,187.0 1060.0,170.9 1061.0,154.8 1062.0,143.0 1063.0,133.0 1064.0,123.0 1065.0,113.0 1066.0,103.0 1067.0,96.1 1068.0,89.3 1069.0,82.4 1070.0,75.5 1071.0,69.6 1072.0,66.0 1073.0,62.4 1074.0,58.7 1075.0,55.1 1076.0,52.7 1077.0,50.7 1078.0,48.8 1079.0,46.9 1080.0,45.0 1081.0,44.2 1082.0,43.4 1083.0,42.6 1084.0,41.8 1085.0,41.0 1086.0,40.2 1087.0,39.4 1088.0,38.6 1089.0,37.8 1090.0,37.1 1091.0,36.3 1092.0,35.6 1093.0,35.2 1094.0,34.7 1095.0,34.3 1096.0,33.9 1097.0,33.5 1098.0,33.1 1099.0,32.7 1100.0,32.2 1101.0,31.8 1102.0,31.4 1103.0,31.0 1104.0,31.0 1105.0,31.0 1106.0,31.0 1107.0,31.0 1108.0,31.0 1109.0,31.0 1110.0,31.0 1111.0,31.0 1112.0,31.0 1113.0,31.0 1114.0,31.0 1115.0,31.0 1116.0,31.0 1117.0,31.0 1118.0,31.0 1119.0,31.0 1120.0,31.0 1121.0,31.1 1122.0,31.2 1123.0,31.4 1124.0,31.5 1125.0,31.6 1126.0,31.7 1127.0,31.9 1128.0,32.0 1129.0,32.1 1130.0,32.2 1131.0,32.4 1132.0,32.9 1133.0,33.6 1134.0,34.3 1135.0,35.0 1136.0,35.7 1137.0,36.9 1138.0,38.0 1139.0,42.6 1140.0,47.2 1141.0,51.8 1142.0,56.4 1143.0,61.0 1144.0,67.0 1145.0,72.9 1146.0,78.9 1147.0,84.8 1148.0,90.0 1149.0,93.4 1150.0,96.8 1151.0,100.2 1152.0,103.6 1153.0,106.9 1154.0,110.3 1155.0,113.2 1156.0,115.0 1157.0,116.7 1158.0,118.5 1159.0,120.2 1160.0,122.0 1161.0,123.7 1162.0,125.5 1163.0,127.2 1164.0,129.0 1165.0,130.1 1166.0,131.3 1167.0,132.4 1168.0,133.6 1169.0,134.7 1170.0,135.9 1171.0,137.0 1172.0,138.1 1173.0,139.3 1174.0,140.4 1175.0,141.6 1176.0,142.7 1177.0,143.9 1178.0,145.0 1179.0,145.9 1180.0,146.8 1181.0,147.7 1182.0,148.6 1183.0,149.5 1184.0,150.4 1185.0,151.3 1186.0,152.1 1187.0,153.0 1188.0,153.9 1189.0,154.8 1190.0,155.7 1191.0,156.6 1192.0,157.5 1193.0,158.4 1194.0,159.3 1195.0,160.2 1196.0,161.1 1197.0,161.9 1198.0,162.7 1199.0,163.5 1200.0,164.3 1201.0,165.1 1202.0,165.9 1203.0,166.6 1204.0,167.4 1205.0,168.2 1206.0,169.0 1207.0,169.8 1208.0,170.6 1209.0,171.4 1210.0,172.1 1211.0,172.9 1212.0,173.7 1213.0,174.5 1214.0,175.3 1215.0,176.1 1216.0,176.9 1217.0,177.6 1218.0,178.4 1219.0,179.2 1220.0,180.0 1221.0,180.6 1222.0,181.2 1223.0,181.8 1224.0,182.4 1225.0,183.0 1226.0,183.7 1227.0,184.3 1228.0,184.9 1229.0,185.5 1230.0,186.1 1231.0,186.7 1232.0,187.3 1233.0,187.9 1234.0,188.5 1235.0,189.1 1236.0,189.7 1237.0,190.3 1238.0,191.0 1239.0,191.6 1240.0,192.2 1241.0,192.8 1242.0,193.4 1243.0,194.0 1244.0,194.6 1245.0,195.2 1246.0,195.8 1247.0,196.4 1248.0,197.0 1249.0,197.5 1250.0,198.1 1251.0,198.7 1252.0,199.3 1253.0,199.9 1254.0,200.5 1255.0,201.1 1256.0,201.7 1257.0,202.3 1258.0,202.9 1259.0,203.5 1260.0,204.0 1261.0,204.6 1262.0,205.2 1263.0,205.8 1264.0,206.4 1265.0,207.0 1266.0,207.6 1267.0,208.2 1268.0,208.9 1269.0,209.5 1270.0,210.2 1271.0,210.9 1272.0,211.6 1273.0,212.2 1274.0,212.9 1275.0,213.6 1276.0,214.3 1277.0,214.9 1278.0,215.6 1279.0,216.3 1280.0,217.0 1281.0,217.6 1282.0,218.3 1283.0,219.0 1284.0,219.7 1285.0,220.3" stroke="#8ee040"/><polyline points="156.0,416.0 157.0,415.5 158.0,415.0 159.0,414.4 160.0,413.9 161.0,413.4 162.0,412.9 163.0,412.4 164.0,411.8 165.0,411.3 166.0,410.8 167.0,410.3 168.0,409.8 169.0,409.2 170.0,408.7 171.0,408.2 172.0,407.7 173.0,407.2 174.0,406.6 175.0,406.1 176.0,405.6 177.0,405.1 178.0,404.6 179.0,404.0 180.0,403.5 181.0,403.0 182.0,403.0 183.0,396.7 184.0,384.0 185.0,383.2 186.0,382.3 187.0,381.5 188.0,380.7 189.0,379.8 190.0,379.0 191.0,378.8 192.0,378.6 193.0,378.4 194.0,378.2 195.0,378.0 196.0,377.8 197.0,377.6 198.0,377.4 199.0,377.2 200.0,377.0 201.0,376.8 202.0,376.6 203.0,376.4 204.0,376.2 205.0,376.0 206.0,375.8 207.0,375.6 208.0,375.4 209.0,375.2 210.0,375.0 211.0,374.8 212.0,374.6 213.0,374.5 214.0,374.3 215.0,374.1 216.0,373.9 217.0,373.8 218.0,373.6 219.0,373.4 220.0,373.2 221.0,373.1 222.0,372.9 223.0,372.7 224.0,372.6 225.0,372.4 226.0,372.2 227.0,372.0 228.0,371.9 229.0,371.7 230.0,371.5 231.0,371.3 232.0,371.1 233.0,371.0 234.0,370.8 235.0,370.6 236.0,370.4 237.0,370.3 238.0,370.1 239.0,369.9 240.0,369.8 241.0,369.6 242.0,369.4 243.0,369.2 244.0,369.1 245.0,368.9 246.0,368.7 247.0,368.5 248.0,368.4 249.0,368.2 250.0,368.0 251.0,367.9 252.0,367.8 253.0,367.8 254.0,367.7 255.0,367.6 256.0,367.5 257.0,367.4 258.0,367.4 259.0,367.3 260.0,367.2 261.0,367.1 262.0,367.0 263.0,367.0 264.0,366.9 265.0,366.8 266.0,366.7 267.0,366.6 268.0,366.6 269.0,366.5 270.0,366.4 271.0,366.3 272.0,366.2 273.0,366.2 274.0,366.1 275.0,366.0 276.0,365.9 277.0,365.8 278.0,365.8 279.0,365.7 280.0,365.6 281.0,365.5 282.0,365.4 283.0,365.4 284.0,365.3 285.0,365.2 286.0,365.1 287.0,365.0 288.0,365.0 289.0,364.9 290.0,364.8 291.0,364.7 292.0,364.6 293.0,364.6 294.0,364.5 295.0,364.4 296.0,364.3 297.0,364.2 298.0,364.2 299.0,364.1 300.0,364.0 301.0,363.9 302.0,363.9 303.0,363.8 304.0,363.7 305.0,363.6 306.0,363.6 307.0,363.5 308.0,363.4 309.0,363.3 310.0,363.2 311.0,363.2 312.0,363.1 313.0,363.0 314.0,362.9 315.0,362.9 316.0,362.8 317.0,362.7 318.0,362.6 319.0,362.6 320.0,362.5 321.0,362.4 322.0,362.4 323.0,362.3 324.0,362.2 325.0,362.1 326.0,362.1 327.0,362.0 328.0,361.9 329.0,361.8 330.0,361.8 331.0,361.7 332.0,361.6 333.0,361.5 334.0,361.4 335.0,361.4 336.0,361.3 337.0,361.2 338.0,361.1 339.0,361.1 340.0,361.0 341.0,360.9 342.0,360.9 343.0,360.8 344.0,360.7 345.0,360.6 346.0,360.6 347.0,360.5 348.0,360.4 349.0,360.3 350.0,360.2 351.0,360.2 352.0,360.1 353.0,360.0 354.0,359.9 355.0,359.9 356.0,359.8 357.0,359.7 358.0,359.6 359.0,359.6 360.0,359.5 361.0,359.4 362.0,359.4 363.0,359.3 364.0,359.2 365.0,359.1 366.0,359.1 367.0,359.0 368.0,358.9 369.0,358.8 370.0,358.8 371.0,358.7 372.0,358.6 373.0,358.5 374.0,358.4 375.0,358.4 376.0,358.3 377.0,358.2 378.0,358.1 379.0,358.1 380.0,358.0 381.0,357.9 382.0,357.7 383.0,357.6 384.0,357.5 385.0,357.3 386.0,357.2 387.0,357.1 388.0,356.9 389.0,356.8 390.0,356.7 391.0,356.5 392.0,356.4 393.0,356.3 394.0,356.1 395.0,356.0 396.0,355.9 397.0,355.7 398.0,355.6 399.0,355.5 400.0,355.3 401.0,355.2 402.0,355.1 403.0,354.9 404.0,354.8 405.0,354.7 406.0,354.5 407.0,354.4 408.0,354.3 409.0,354.1 410.0,354.0 411.0,353.9 412.0,353.7 413.0,353.6 414.0,353.5 415.0,353.3 416.0,353.2 417.0,353.1 418.0,352.9 419.0,352.8 420.0,352.7 421.0,352.5 422.0,352.4 423.0,352.3 424.0,352.1 425.0,352.0 426.0,351.9 427.0,351.7 428.0,351.6 429.0,351.5 430.0,351.3 431.0,351.2 432.0,351.1 433.0,350.9 434.0,350.8 435.0,350.7 436.0,350.5 437.0,350.4 438.0,350.3 439.0,350.1 440.0,350.0 441.0,349.8 442.0,349.5 443.0,349.2 444.0,349.0 445.0,358.0 446.0,367.0 447.0,367.3 448.0,367.6 449.0,367.9 450.0,368.3 451.0,368.6 452.0,368.9 453.0,369.2 454.0,369.5 455.0,369.8 456.0,370.2 457.0,370.5 458.0,370.8 459.0,371.1 460.0,371.4 461.0,371.7 462.0,372.1 463.0,372.4 464.0,372.7 465.0,373.0 466.0,373.0 467.0,373.0 468.0,365.0 469.0,357.0 470.0,349.0 471.0,348.8 472.0,348.6 473.0,348.4 474.0,348.2 475.0,348.0 476.0,347.8 477.0,347.6 478.0,347.4 479.0,347.2 480.0,347.0 481.0,346.8 482.0,346.6 483.0,346.4 484.0,346.2 485.0,346.0 486.0,345.8 487.0,345.6 488.0,345.4 489.0,345.2 490.0,345.0 491.0,344.9 492.0,344.9 493.0,344.8 494.0,344.7 495.0,344.7 496.0,344.6 497.0,344.5 498.0,344.5 499.0,344.4 500.0,344.3 501.0,344.3 502.0,344.2 503.0,344.1 504.0,344.1 505.0,344.0 506.0,343.9 507.0,343.9 508.0,343.8 509.0,343.7 510.0,343.7 511.0,343.6 512.0,343.5 513.0,343.5 514.0,343.4 515.0,343.3 516.0,343.3 517.0,343.2 518.0,343.1 519.0,343.1 520.0,343.0 521.0,342.9 522.0,342.9 523.0,342.9 524.0,342.8 525.0,342.8 526.0,342.7 527.0,342.6 528.0,342.6 529.0,342.6 530.0,342.5 531.0,342.4 532.0,342.4 533.0,342.4 534.0,342.3 535.0,342.2 536.0,342.2 537.0,342.1 538.0,342.1 539.0,342.1 540.0,342.0 541.0,341.9 542.0,341.9 543.0,341.9 544.0,341.8 545.0,341.8 546.0,341.7 547.0,341.6 548.0,341.6 549.0,341.6 550.0,341.5 551.0,341.4 552.0,341.4 553.0,341.4 554.0,341.3 555.0,341.2 556.0,341.2 557.0,341.1 558.0,341.1 559.0,341.1 560.0,341.0 561.0,340.9 562.0,340.9 563.0,340.8 564.0,340.7 565.0,340.6 566.0,340.6 567.0,340.5 568.0,340.4 569.0,340.3 570.0,340.2 571.0,340.2 572.0,340.1 573.0,340.0 574.0,339.9 575.0,339.9 576.0,339.8 577.0,339.7 578.0,339.6 579.0,339.6 580.0,339.5 581.0,339.4 582.0,339.4 583.0,339.3 584.0,339.2 585.0,339.1 586.0,339.1 587.0,339.0 588.0,338.9 589.0,338.8 590.0,338.8 591.0,338.7 592.0,338.6 593.0,338.5 594.0,338.4 595.0,338.4 596.0,338.3 597.0,338.2 598.0,338.1 599.0,338.1 600.0,338.0 601.0,337.9 602.0,337.9 603.0,337.8 604.0,337.7 605.0,337.6 606.0,337.6 607.0,337.5 608.0,337.4 609.0,337.3 610.0,337.2 611.0,337.2 612.0,337.1 613.0,337.0 614.0,336.9 615.0,336.9 616.0,336.8 617.0,336.7 618.0,336.6 619.0,336.6 620.0,336.5 621.0,336.4 622.0,336.4 623.0,336.3 624.0,336.2 625.0,336.1 626.0,336.1 627.0,336.0 628.0,335.9 629.0,335.8 630.0,335.8 631.0,335.7 632.0,335.6 633.0,335.5 634.0,335.4 635.0,335.4 636.0,335.3 637.0,335.2 638.0,335.1 639.0,335.1 640.0,335.0 641.0,335.0 642.0,334.9 643.0,334.9 644.0,334.9 645.0,334.8 646.0,334.8 647.0,334.8 648.0,334.7 649.0,334.7 650.0,334.7 651.0,334.6 652.0,334.6 653.0,334.6 654.0,334.5 655.0,334.5 656.0,334.5 657.0,334.4 658.0,334.4 659.0,334.4 660.0,334.3 661.0,334.3 662.0,334.3 663.0,334.2 664.0,334.2 665.0,334.2 666.0,334.1 667.0,334.1 668.0,334.1 669.0,334.0 670.0,334.0 671.0,334.0 672.0,333.9 673.0,333.9 674.0,333.9 675.0,333.8 676.0,333.8 677.0,333.8 678.0,333.7 679.0,333.7 680.0,333.7 681.0,333.6 682.0,333.6 683.0,333.6 684.0,333.5 685.0,333.5 686.0,333.5 687.0,333.4 688.0,333.4 689.0,333.4 690.0,333.3 691.0,333.3 692.0,333.3 693.0,333.2 694.0,333.2 695.0,333.2 696.0,333.1 697.0,333.1 698.0,333.1 699.0,333.0 700.0,333.0 701.0,332.9 702.0,332.9 703.0,332.8 704.0,332.7 705.0,332.7 706.0,332.6 707.0,332.5 708.0,332.5 709.0,332.4 710.0,332.3 711.0,332.3 712.0,332.2 713.0,332.1 714.0,332.1 715.0,332.0 716.0,331.9 717.0,331.9 718.0,331.8 719.0,331.7 720.0,331.7 721.0,331.6 722.0,331.5 723.0,331.5 724.0,331.4 725.0,331.3 726.0,331.3 727.0,331.2 728.0,331.1 729.0,331.1 730.0,331.0 731.0,330.9 732.0,330.9 733.0,330.8 734.0,330.7 735.0,330.7 736.0,330.6 737.0,330.5 738.0,330.5 739.0,330.4 740.0,330.3 741.0,330.3 742.0,330.2 743.0,330.1 744.0,330.1 745.0,330.0 746.0,329.9 747.0,329.9 748.0,329.8 749.0,329.7 750.0,329.7 751.0,329.6 752.0,329.5 753.0,329.5 754.0,329.4 755.0,329.3 756.0,329.3 757.0,329.2 758.0,329.1 759.0,329.1 760.0,329.0 761.0,328.9 762.0,328.9 763.0,328.8 764.0,328.7 765.0,328.6 766.0,328.6 767.0,328.5 768.0,328.4 769.0,328.3 770.0,328.2 771.0,328.2 772.0,328.1 773.0,328.0 774.0,327.9 775.0,327.9 776.0,327.8 777.0,327.7 778.0,327.6 779.0,327.6 780.0,327.5 781.0,327.4 782.0,327.4 783.0,327.3 784.0,327.2 785.0,327.1 786.0,327.1 787.0,327.0 788.0,326.9 789.0,326.8 790.0,326.8 791.0,326.7 792.0,326.6 793.0,326.5 794.0,326.4 795.0,326.4 796.0,326.3 797.0,326.2 798.0,326.1 799.0,326.1 800.0,326.0 801.0,325.9 802.0,325.8 803.0,325.8 804.0,325.7 805.0,325.6 806.0,325.5 807.0,325.4 808.0,325.4 809.0,325.3 810.0,325.2 811.0,325.1 812.0,325.0 813.0,325.0 814.0,324.9 815.0,324.8 816.0,324.7 817.0,324.6 818.0,324.6 819.0,324.5 820.0,324.4 821.0,324.3 822.0,324.2 823.0,324.2 824.0,324.1 825.0,324.0 826.0,323.9 827.0,323.8 828.0,323.8 829.0,323.7 830.0,323.6 831.0,323.5 832.0,323.4 833.0,323.4 834.0,323.3 835.0,323.2 836.0,323.1 837.0,323.0 838.0,323.0 839.0,322.9 840.0,322.8 841.0,322.7 842.0,322.6 843.0,322.6 844.0,322.5 845.0,322.4 846.0,322.3 847.0,322.2 848.0,322.2 849.0,322.1 850.0,322.0 851.0,321.9 852.0,321.8 853.0,321.6 854.0,321.5 855.0,321.4 856.0,321.3 857.0,321.2 858.0,321.0 859.0,320.9 860.0,320.8 861.0,320.7 862.0,320.6 863.0,320.4 864.0,320.3 865.0,320.2 866.0,320.1 867.0,320.0 868.0,319.8 869.0,319.7 870.0,319.6 871.0,319.5 872.0,319.4 873.0,319.2 874.0,319.1 875.0,319.0 876.0,318.9 877.0,318.8 878.0,318.6 879.0,318.5 880.0,318.4 881.0,318.3 882.0,318.2 883.0,318.0 884.0,317.9 885.0,317.8 886.0,317.7 887.0,317.6 888.0,317.4 889.0,317.3 890.0,317.2 891.0,317.1 892.0,317.0 893.0,316.8 894.0,316.7 895.0,316.6 896.0,316.5 897.0,316.4 898.0,316.2 899.0,316.1 900.0,316.0 901.0,315.8 902.0,315.6 903.0,315.4 904.0,315.2 905.0,315.0 906.0,314.8 907.0,314.6 908.0,314.4 909.0,314.2 910.0,314.0 911.0,313.8 912.0,313.6 913.0,313.4 914.0,313.2 915.0,313.0 916.0,312.8 917.0,312.6 918.0,312.4 919.0,312.2 920.0,312.0 921.0,311.8 922.0,311.6 923.0,311.4 924.0,311.2 925.0,311.0 926.0,310.8 927.0,310.6 928.0,310.4 929.0,310.2 930.0,310.0 931.0,309.8 932.0,309.6 933.0,309.4 934.0,309.2 935.0,309.0 936.0,308.8 937.0,308.6 938.0,308.4 939.0,308.2 940.0,308.0 941.0,307.7 942.0,307.4 943.0,307.2 944.0,306.9 945.0,306.6 946.0,306.3 947.0,306.0 948.0,305.7 949.0,305.4 950.0,305.2 951.0,304.9 952.0,304.6 953.0,304.3 954.0,304.0 955.0,303.8 956.0,303.5 957.0,303.2 958.0,302.9 959.0,302.6 960.0,302.3 961.0,302.1 962.0,301.8 963.0,301.5 964.0,301.2 965.0,300.9 966.0,300.6 967.0,300.3 968.0,300.1 969.0,299.8 970.0,299.5 971.0,299.1 972.0,298.7 973.0,298.2 974.0,297.8 975.0,297.4 976.0,297.0 977.0,296.6 978.0,296.2 979.0,295.8 980.0,295.3 981.0,294.8 982.0,294.2 983.0,293.6 984.0,293.1 985.0,292.5 986.0,291.9 987.0,291.4 988.0,290.8 989.0,290.2 990.0,289.7 991.0,289.1 992.0,288.5 993.0,288.0 994.0,287.4 995.0,286.8 996.0,286.3 997.0,285.7 998.0,285.1 999.0,284.6 1000.0,284.0 1001.0,283.1 1002.0,282.3 1003.0,281.4 1004.0,280.6 1005.0,279.8 1006.0,278.9 1007.0,278.1 1008.0,277.2 1009.0,276.4 1010.0,275.5 1011.0,274.4 1012.0,273.4 1013.0,272.4 1014.0,271.3 1015.0,270.2 1016.0,269.2 1017.0,268.1 1018.0,267.1 1019.0,266.1 1020.0,265.0 1021.0,242.7 1022.0,249.3 1023.0,262.0 1024.0,266.3 1025.0,270.7 1026.0,275.0 1027.0,277.5 1028.0,280.0 1029.0,282.5 1030.0,285.0 1031.0,286.6 1032.0,288.2 1033.0,289.8 1034.0,291.4 1035.0,293.0 1036.0,294.0 1037.0,295.0 1038.0,296.0 1039.0,297.0 1040.0,298.0 1041.0,299.0 1042.0,300.0 1043.0,300.0 1044.0,300.0 1045.0,300.0 1046.0,280.0 1047.0,270.0 1048.0,260.0 1049.0,250.0 1050.0,240.0 1051.0,226.7 1052.0,213.3 1053.0,200.0 1054.0,186.6 1055.0,173.1 1056.0,159.5 1057.0,146.9 1058.0,136.7 1059.0,126.5 1060.0,116.3 1061.0,106.1 1062.0,98.2 1063.0,91.3 1064.0,84.4 1065.0,77.6 1066.0,70.7 1067.0,65.7 1068.0,60.7 1069.0,55.8 1070.0,50.8 1071.0,46.6 1072.0,44.3 1073.0,41.9 1074.0,39.6 1075.0,37.3 1076.0,35.0 1077.0,32.6 1078.0,30.7 1079.0,29.7 1080.0,28.7 1081.0,27.7 1082.0,26.7 1083.0,25.7 1084.0,24.7 1085.0,23.9 1086.0,23.4 1087.0,22.9 1088.0,22.4 1089.0,21.9 1090.0,21.4 1091.0,20.9 1092.0,20.5 1093.0,20.0 1094.0,19.5 1095.0,19.0 1096.0,18.8 1097.0,18.5 1098.0,18.2 1099.0,18.0 1100.0,17.8 1101.0,17.5 1102.0,17.2 1103.0,17.0 1104.0,17.0 1105.0,17.1 1106.0,17.1 1107.0,17.1 1108.0,17.2 1109.0,17.2 1110.0,17.2 1111.0,17.3 1112.0,17.3 1113.0,17.4 1114.0,17.4 1115.0,17.4 1116.0,17.5 1117.0,17.5 1118.0,17.8 1119.0,18.0 1120.0,18.3 1121.0,18.6 1122.0,18.8 1123.0,19.1 1124.0,19.4 1125.0,19.7 1126.0,19.9 1127.0,20.2 1128.0,20.5 1129.0,20.7 1130.0,21.0 1131.0,21.7 1132.0,22.3 1133.0,23.0 1134.0,23.7 1135.0,24.3 1136.0,25.0 1137.0,26.0 1138.0,27.0 1139.0,28.0 1140.0,31.1 1141.0,39.0 1142.0,47.0 1143.0,56.3 1144.0,65.7 1145.0,75.0 1146.0,78.8 1147.0,82.6 1148.0,86.4 1149.0,90.2 1150.0,94.0 1151.0,96.5 1152.0,99.0 1153.0,101.5 1154.0,104.0 1155.0,106.2 1156.0,108.0 1157.0,109.7 1158.0,111.5 1159.0,113.2 1160.0,115.0 1161.0,116.7 1162.0,118.5 1163.0,120.2 1164.0,122.0 1165.0,123.1 1166.0,124.3 1167.0,125.4 1168.0,126.6 1169.0,127.7 1170.0,128.9 1171.0,130.0 1172.0,131.1 1173.0,132.3 1174.0,133.4 1175.0,134.6 1176.0,135.7 1177.0,136.9 1178.0,138.0 1179.0,138.9 1180.0,139.8 1181.0,140.7 1182.0,141.6 1183.0,142.5 1184.0,143.4 1185.0,144.3 1186.0,145.1 1187.0,146.0 1188.0,146.9 1189.0,147.8 1190.0,148.7 1191.0,149.6 1192.0,150.5 1193.0,151.4 1194.0,152.3 1195.0,153.2 1196.0,154.1 1197.0,154.9 1198.0,155.6 1199.0,156.3 1200.0,157.0 1201.0,157.7 1202.0,158.4 1203.0,159.1 1204.0,159.8 1205.0,160.5 1206.0,161.2 1207.0,161.9 1208.0,162.6 1209.0,163.3 1210.0,164.0 1211.0,164.7 1212.0,165.4 1213.0,166.1 1214.0,166.8 1215.0,167.5 1216.0,168.2 1217.0,168.9 1218.0,169.6 1219.0,170.3 1220.0,171.0 1221.0,171.6 1222.0,172.2 1223.0,172.8 1224.0,173.4 1225.0,174.0 1226.0,174.7 1227.0,175.3 1228.0,175.9 1229.0,176.5 1230.0,177.1 1231.0,177.7 1232.0,178.3 1233.0,178.9 1234.0,179.5 1235.0,180.1 1236.0,180.7 1237.0,181.3 1238.0,182.0 1239.0,182.6 1240.0,183.2 1241.0,183.8 1242.0,184.4 1243.0,185.0 1244.0,185.6 1245.0,186.2 1246.0,186.8 1247.0,187.4 1248.0,188.0 1249.0,188.5 1250.0,189.1 1251.0,189.7 1252.0,190.3 1253.0,190.9 1254.0,191.5 1255.0,192.1 1256.0,192.7 1257.0,193.3 1258.0,193.9 1259.0,194.5 1260.0,195.0 1261.0,195.6 1262.0,196.2 1263.0,196.8 1264.0,197.4 1265.0,198.0 1266.0,198.6 1267.0,199.2 1268.0,199.8 1269.0,200.4 1270.0,201.1 1271.0,201.7 1272.0,202.3 1273.0,202.9 1274.0,203.5 1275.0,204.2 1276.0,204.8 1277.0,205.4 1278.0,206.0 1279.0,206.6 1280.0,207.3 1281.0,207.9 1282.0,208.5 1283.0,209.1 1284.0,209.8 1285.0,210.4" stroke="#3478c8"/><polyline points="156.0,419.0 157.0,418.5 158.0,418.0 159.0,417.4 160.0,416.9 161.0,416.4 162.0,415.9 163.0,415.4 164.0,414.8 165.0,414.3 166.0,413.8 167.0,413.3 168.0,412.7 169.0,412.2 170.0,411.7 171.0,411.2 172.0,410.7 173.0,410.1 174.0,409.6 175.0,409.1 176.0,408.6 177.0,408.1 178.0,407.5 179.0,407.0 180.0,406.5 181.0,406.0 182.0,406.0 183.0,399.6 184.0,387.0 185.0,386.1 186.0,385.3 187.0,384.5 188.0,383.6 189.0,382.8 190.0,382.0 191.0,381.8 192.0,381.6 193.0,381.4 194.0,381.1 195.0,380.9 196.0,380.7 197.0,380.5 198.0,380.3 199.0,380.1 200.0,379.9 201.0,379.7 202.0,379.5 203.0,379.3 204.0,379.1 205.0,378.9 206.0,378.7 207.0,378.5 208.0,378.3 209.0,378.1 210.0,377.9 211.0,377.8 212.0,377.6 213.0,377.4 214.0,377.2 215.0,377.0 216.0,376.9 217.0,376.7 218.0,376.5 219.0,376.3 220.0,376.2 221.0,376.0 222.0,375.8 223.0,375.6 224.0,375.5 225.0,375.3 226.0,375.1 227.0,374.9 228.0,374.8 229.0,374.6 230.0,374.4 231.0,374.2 232.0,374.0 233.0,373.9 234.0,373.7 235.0,373.5 236.0,373.3 237.0,373.2 238.0,373.0 239.0,372.8 240.0,372.6 241.0,372.5 242.0,372.3 243.0,372.1 244.0,371.9 245.0,371.8 246.0,371.6 247.0,371.4 248.0,371.2 249.0,371.1 250.0,370.9 251.0,370.8 252.0,370.7 253.0,370.6 254.0,370.5 255.0,370.5 256.0,370.4 257.0,370.3 258.0,370.2 259.0,370.1 260.0,370.1 261.0,370.0 262.0,369.9 263.0,369.8 264.0,369.7 265.0,369.7 266.0,369.6 267.0,369.5 268.0,369.4 269.0,369.3 270.0,369.2 271.0,369.2 272.0,369.1 273.0,369.0 274.0,368.9 275.0,368.8 276.0,368.8 277.0,368.7 278.0,368.6 279.0,368.5 280.0,368.4 281.0,368.4 282.0,368.3 283.0,368.2 284.0,368.1 285.0,368.0 286.0,367.9 287.0,367.9 288.0,367.8 289.0,367.7 290.0,367.6 291.0,367.5 292.0,367.5 293.0,367.4 294.0,367.3 295.0,367.2 296.0,367.1 297.0,367.1 298.0,367.0 299.0,366.9 300.0,366.8 301.0,366.7 302.0,366.7 303.0,366.6 304.0,366.5 305.0,366.4 306.0,366.3 307.0,366.3 308.0,366.2 309.0,366.1 310.0,366.0 311.0,366.0 312.0,365.9 313.0,365.8 314.0,365.7 315.0,365.7 316.0,365.6 317.0,365.5 318.0,365.4 319.0,365.4 320.0,365.3 321.0,365.2 322.0,365.1 323.0,365.1 324.0,365.0 325.0,364.9 326.0,364.8 327.0,364.7 328.0,364.7 329.0,364.6 330.0,364.5 331.0,364.4 332.0,364.4 333.0,364.3 334.0,364.2 335.0,364.1 336.0,364.1 337.0,364.0 338.0,363.9 339.0,363.8 340.0,363.8 341.0,363.7 342.0,363.6 343.0,363.5 344.0,363.4 345.0,363.4 346.0,363.3 347.0,363.2 348.0,363.1 349.0,363.1 350.0,363.0 351.0,362.9 352.0,362.8 353.0,362.8 354.0,362.7 355.0,362.6 356.0,362.5 357.0,362.5 358.0,362.4 359.0,362.3 360.0,362.2 361.0,362.1 362.0,362.1 363.0,362.0 364.0,361.9 365.0,361.8 366.0,361.8 367.0,361.7 368.0,361.6 369.0,361.5 370.0,361.5 371.0,361.4 372.0,361.3 373.0,361.2 374.0,361.2 375.0,361.1 376.0,361.0 377.0,360.9 378.0,360.9 379.0,360.8 380.0,360.7 381.0,360.6 382.0,360.4 383.0,360.3 384.0,360.2 385.0,360.0 386.0,359.9 387.0,359.8 388.0,359.6 389.0,359.5 390.0,359.4 391.0,359.2 392.0,359.1 393.0,358.9 394.0,358.8 395.0,358.7 396.0,358.5 397.0,358.4 398.0,358.3 399.0,358.1 400.0,358.0 401.0,357.9 402.0,357.7 403.0,357.6 404.0,357.5 405.0,357.3 406.0,357.2 407.0,357.1 408.0,356.9 409.0,356.8 410.0,356.7 411.0,356.5 412.0,356.4 413.0,356.3 414.0,356.1 415.0,356.0 416.0,355.9 417.0,355.7 418.0,355.6 419.0,355.4 420.0,355.3 421.0,355.2 422.0,355.0 423.0,354.9 424.0,354.8 425.0,354.6 426.0,354.5 427.0,354.4 428.0,354.2 429.0,354.1 430.0,354.0 431.0,353.8 432.0,353.7 433.0,353.6 434.0,353.4 435.0,353.3 436.0,353.2 437.0,353.0 438.0,352.9 439.0,352.8 440.0,352.6 441.0,352.4 442.0,352.1 443.0,351.9 444.0,351.6 445.0,360.6 446.0,369.6 447.0,369.9 448.0,370.2 449.0,370.6 450.0,370.9 451.0,371.2 452.0,371.5 453.0,371.8 454.0,372.1 455.0,372.4 456.0,372.8 457.0,373.1 458.0,373.4 459.0,373.7 460.0,374.0 461.0,374.3 462.0,374.6 463.0,375.0 464.0,375.3 465.0,375.6 466.0,375.6 467.0,375.6 468.0,367.6 469.0,359.6 470.0,351.6 471.0,351.4 472.0,351.2 473.0,351.0 474.0,350.8 475.0,350.6 476.0,350.4 477.0,350.2 478.0,350.0 479.0,349.8 480.0,349.6 481.0,349.4 482.0,349.2 483.0,349.0 484.0,348.8 485.0,348.6 486.0,348.4 487.0,348.2 488.0,348.0 489.0,347.8 490.0,347.6 491.0,347.5 492.0,347.4 493.0,347.3 494.0,347.3 495.0,347.2 496.0,347.1 497.0,347.1 498.0,347.0 499.0,346.9 500.0,346.9 501.0,346.8 502.0,346.7 503.0,346.7 504.0,346.6 505.0,346.5 506.0,346.5 507.0,346.4 508.0,346.3 509.0,346.3 510.0,346.2 511.0,346.1 512.0,346.1 513.0,346.0 514.0,345.9 515.0,345.9 516.0,345.8 517.0,345.7 518.0,345.6 519.0,345.6 520.0,345.5 521.0,345.5 522.0,345.4 523.0,345.4 524.0,345.3 525.0,345.3 526.0,345.2 527.0,345.2 528.0,345.1 529.0,345.0 530.0,345.0 531.0,344.9 532.0,344.9 533.0,344.8 534.0,344.8 535.0,344.7 536.0,344.7 537.0,344.6 538.0,344.6 539.0,344.5 540.0,344.5 541.0,344.4 542.0,344.4 543.0,344.3 544.0,344.3 545.0,344.2 546.0,344.2 547.0,344.1 548.0,344.1 549.0,344.0 550.0,344.0 551.0,343.9 552.0,343.9 553.0,343.8 554.0,343.8 555.0,343.7 556.0,343.7 557.0,343.6 558.0,343.6 559.0,343.5 560.0,343.5 561.0,343.4 562.0,343.3 563.0,343.2 564.0,343.2 565.0,343.1 566.0,343.0 567.0,342.9 568.0,342.8 569.0,342.8 570.0,342.7 571.0,342.6 572.0,342.5 573.0,342.5 574.0,342.4 575.0,342.3 576.0,342.2 577.0,342.2 578.0,342.1 579.0,342.0 580.0,341.9 581.0,341.9 582.0,341.8 583.0,341.7 584.0,341.6 585.0,341.5 586.0,341.5 587.0,341.4 588.0,341.3 589.0,341.2 590.0,341.2 591.0,341.1 592.0,341.0 593.0,340.9 594.0,340.9 595.0,340.8 596.0,340.7 597.0,340.6 598.0,340.6 599.0,340.5 600.0,340.4 601.0,340.3 602.0,340.3 603.0,340.2 604.0,340.1 605.0,340.0 606.0,339.9 607.0,339.9 608.0,339.8 609.0,339.7 610.0,339.6 611.0,339.6 612.0,339.5 613.0,339.4 614.0,339.3 615.0,339.3 616.0,339.2 617.0,339.1 618.0,339.0 619.0,339.0 620.0,338.9 621.0,338.8 622.0,338.7 623.0,338.6 624.0,338.6 625.0,338.5 626.0,338.4 627.0,338.3 628.0,338.3 629.0,338.2 630.0,338.1 631.0,338.0 632.0,338.0 633.0,337.9 634.0,337.8 635.0,337.7 636.0,337.7 637.0,337.6 638.0,337.5 639.0,337.4 640.0,337.3 641.0,337.3 642.0,337.3 643.0,337.2 644.0,337.2 645.0,337.2 646.0,337.1 647.0,337.1 648.0,337.1 649.0,337.0 650.0,337.0 651.0,337.0 652.0,336.9 653.0,336.9 654.0,336.9 655.0,336.8 656.0,336.8 657.0,336.8 658.0,336.7 659.0,336.7 660.0,336.7 661.0,336.6 662.0,336.6 663.0,336.6 664.0,336.5 665.0,336.5 666.0,336.4 667.0,336.4 668.0,336.4 669.0,336.3 670.0,336.3 671.0,336.3 672.0,336.2 673.0,336.2 674.0,336.2 675.0,336.1 676.0,336.1 677.0,336.1 678.0,336.0 679.0,336.0 680.0,336.0 681.0,335.9 682.0,335.9 683.0,335.9 684.0,335.8 685.0,335.8 686.0,335.8 687.0,335.7 688.0,335.7 689.0,335.7 690.0,335.6 691.0,335.6 692.0,335.5 693.0,335.5 694.0,335.5 695.0,335.4 696.0,335.4 697.0,335.4 698.0,335.3 699.0,335.3 700.0,335.3 701.0,335.2 702.0,335.1 703.0,335.1 704.0,335.0 705.0,334.9 706.0,334.9 707.0,334.8 708.0,334.7 709.0,334.7 710.0,334.6 711.0,334.5 712.0,334.5 713.0,334.4 714.0,334.3 715.0,334.2 716.0,334.2 717.0,334.1 718.0,334.0 719.0,334.0 720.0,333.9 721.0,333.8 722.0,333.8 723.0,333.7 724.0,333.6 725.0,333.6 726.0,333.5 727.0,333.4 728.0,333.4 729.0,333.3 730.0,333.2 731.0,333.2 732.0,333.1 733.0,333.0 734.0,333.0 735.0,332.9 736.0,332.8 737.0,332.8 738.0,332.7 739.0,332.6 740.0,332.5 741.0,332.5 742.0,332.4 743.0,332.3 744.0,332.3 745.0,332.2 746.0,332.1 747.0,332.1 748.0,332.0 749.0,331.9 750.0,331.9 751.0,331.8 752.0,331.7 753.0,331.7 754.0,331.6 755.0,331.5 756.0,331.5 757.0,331.4 758.0,331.3 759.0,331.3 760.0,331.2 761.0,331.1 762.0,331.0 763.0,331.0 764.0,330.9 765.0,330.8 766.0,330.7 767.0,330.7 768.0,330.6 769.0,330.5 770.0,330.4 771.0,330.3 772.0,330.3 773.0,330.2 774.0,330.1 775.0,330.0 776.0,330.0 777.0,329.9 778.0,329.8 779.0,329.7 780.0,329.7 781.0,329.6 782.0,329.5 783.0,329.4 784.0,329.4 785.0,329.3 786.0,329.2 787.0,329.1 788.0,329.1 789.0,329.0 790.0,328.9 791.0,328.8 792.0,328.7 793.0,328.7 794.0,328.6 795.0,328.5 796.0,328.4 797.0,328.4 798.0,328.3 799.0,328.2 800.0,328.1 801.0,328.1 802.0,328.0 803.0,327.9 804.0,327.8 805.0,327.7 806.0,327.6 807.0,327.6 808.0,327.5 809.0,327.4 810.0,327.3 811.0,327.2 812.0,327.2 813.0,327.1 814.0,327.0 815.0,326.9 816.0,326.8 817.0,326.8 818.0,326.7 819.0,326.6 820.0,326.5 821.0,326.4 822.0,326.3 823.0,326.3 824.0,326.2 825.0,326.1 826.0,326.0 827.0,325.9 828.0,325.9 829.0,325.8 830.0,325.7 831.0,325.6 832.0,325.5 833.0,325.5 834.0,325.4 835.0,325.3 836.0,325.2 837.0,325.1 838.0,325.0 839.0,325.0 840.0,324.9 841.0,324.8 842.0,324.7 843.0,324.6 844.0,324.6 845.0,324.5 846.0,324.4 847.0,324.3 848.0,324.2 849.0,324.1 850.0,324.1 851.0,323.9 852.0,323.8 853.0,323.7 854.0,323.6 855.0,323.5 856.0,323.3 857.0,323.2 858.0,323.1 859.0,323.0 860.0,322.9 861.0,322.7 862.0,322.6 863.0,322.5 864.0,322.4 865.0,322.2 866.0,322.1 867.0,322.0 868.0,321.9 869.0,321.8 870.0,321.6 871.0,321.5 872.0,321.4 873.0,321.3 874.0,321.2 875.0,321.0 876.0,320.9 877.0,320.8 878.0,320.7 879.0,320.5 880.0,320.4 881.0,320.3 882.0,320.2 883.0,320.1 884.0,319.9 885.0,319.8 886.0,319.7 887.0,319.6 888.0,319.5 889.0,319.3 890.0,319.2 891.0,319.1 892.0,319.0 893.0,318.8 894.0,318.7 895.0,318.6 896.0,318.5 897.0,318.4 898.0,318.2 899.0,318.1 900.0,318.0 901.0,317.9 902.0,317.8 903.0,317.7 904.0,317.6 905.0,317.4 906.0,317.3 907.0,317.2 908.0,317.1 909.0,317.0 910.0,316.9 911.0,316.8 912.0,316.7 913.0,316.6 914.0,316.5 915.0,316.4 916.0,316.2 917.0,316.1 918.0,316.0 919.0,315.9 920.0,315.8 921.0,315.7 922.0,315.6 923.0,315.5 924.0,315.4 925.0,315.2 926.0,315.1 927.0,315.0 928.0,314.9 929.0,314.8 930.0,314.7 931.0,314.6 932.0,314.5 933.0,314.4 934.0,314.3 935.0,314.1 936.0,314.0 937.0,313.9 938.0,313.8 939.0,313.7 940.0,313.6 941.0,313.4 942.0,313.2 943.0,313.0 944.0,312.8 945.0,312.6 946.0,312.4 947.0,312.2 948.0,312.1 949.0,311.9 950.0,311.7 951.0,311.5 952.0,311.3 953.0,311.1 954.0,310.9 955.0,310.7 956.0,310.5 957.0,310.3 958.0,310.1 959.0,309.9 960.0,309.7 961.0,309.5 962.0,309.3 963.0,309.2 964.0,309.0 965.0,308.8 966.0,308.6 967.0,308.4 968.0,308.2 969.0,308.0 970.0,307.8 971.0,307.5 972.0,307.1 973.0,306.8 974.0,306.5 975.0,306.2 976.0,305.8 977.0,305.5 978.0,305.2 979.0,304.9 980.0,304.5 981.0,304.2 982.0,303.9 983.0,303.6 984.0,303.2 985.0,302.9 986.0,302.6 987.0,302.2 988.0,301.9 989.0,301.6 990.0,301.3 991.0,300.9 992.0,300.6 993.0,300.3 994.0,300.0 995.0,299.6 996.0,299.3 997.0,299.0 998.0,298.7 999.0,298.3 1000.0,298.0 1001.0,297.2 1002.0,296.5 1003.0,295.8 1004.0,295.0 1005.0,294.2 1006.0,293.5 1007.0,292.8 1008.0,292.0 1009.0,291.2 1010.0,290.5 1011.0,289.6 1012.0,288.6 1013.0,287.7 1014.0,286.7 1015.0,285.8 1016.0,284.8 1017.0,283.8 1018.0,282.9 1019.0,281.9 1020.0,281.0 1021.0,281.6 1022.0,285.2 1023.0,291.8 1024.0,295.0 1025.0,298.3 1026.0,301.5 1027.0,303.4 1028.0,305.4 1029.0,307.3 1030.0,309.2 1031.0,310.5 1032.0,311.8 1033.0,313.2 1034.0,314.5 1035.0,315.8 1036.0,316.9 1037.0,317.9 1038.0,319.0 1039.0,320.1 1040.0,321.1 1041.0,322.2 1042.0,323.2 1043.0,322.8 1044.0,322.4 1045.0,322.0 1046.0,316.6 1047.0,311.3 1048.0,305.9 1049.0,300.6 1050.0,295.2 1051.0,289.8 1052.0,284.5 1053.0,279.1 1054.0,273.8 1055.0,268.4 1056.0,263.0 1057.0,257.7 1058.0,254.7 1059.0,254.1 1060.0,253.5 1061.0,252.9 1062.0,252.3 1063.0,251.7 1064.0,251.1 1065.0,250.5 1066.0,249.9 1067.0,249.3 1068.0,248.8 1069.0,248.4 1070.0,248.0 1071.0,247.6 1072.0,247.2 1073.0,246.8 1074.0,246.4 1075.0,246.0 1076.0,245.6 1077.0,245.2 1078.0,244.8 1079.0,244.4 1080.0,244.0 1081.0,243.6 1082.0,243.2 1083.0,242.8 1084.0,242.4 1085.0,242.0 1086.0,241.6 1087.0,241.2 1088.0,240.8 1089.0,240.5 1090.0,240.2 1091.0,239.8 1092.0,239.5 1093.0,239.2 1094.0,238.8 1095.0,238.5 1096.0,238.2 1097.0,237.8 1098.0,237.5 1099.0,237.2 1100.0,236.8 1101.0,236.5 1102.0,236.2 1103.0,235.9 1104.0,235.7 1105.0,235.4 1106.0,235.2 1107.0,235.0 1108.0,234.8 1109.0,234.6 1110.0,234.3 1111.0,234.1 1112.0,233.9 1113.0,233.7 1114.0,233.4 1115.0,233.2 1116.0,233.0 1117.0,232.8 1118.0,232.6 1119.0,232.3 1120.0,232.1 1121.0,231.9 1122.0,231.7 1123.0,231.4 1124.0,231.2 1125.0,231.0 1126.0,230.9 1127.0,230.8 1128.0,230.8 1129.0,230.7 1130.0,230.6 1131.0,230.5 1132.0,230.4 1133.0,230.3 1134.0,230.2 1135.0,230.2 1136.0,230.1 1137.0,230.0 1138.0,231.0 1139.0,232.0 1140.0,233.0 1141.0,234.0 1142.0,234.8 1143.0,235.6 1144.0,236.3 1145.0,237.1 1146.0,237.9 1147.0,238.7 1148.0,239.4 1149.0,240.2 1150.0,241.0 1151.0,241.7 1152.0,242.4 1153.0,243.1 1154.0,243.8 1155.0,244.5 1156.0,245.2 1157.0,245.8 1158.0,246.5 1159.0,247.2 1160.0,247.9 1161.0,248.6 1162.0,249.3 1163.0,250.0 1164.0,250.3 1165.0,250.6 1166.0,250.8 1167.0,251.1 1168.0,251.4 1169.0,251.7 1170.0,251.9 1171.0,252.2 1172.0,252.5 1173.0,252.8 1174.0,253.0 1175.0,253.3 1176.0,253.6 1177.0,253.8 1178.0,254.1 1179.0,254.4 1180.0,254.7 1181.0,254.9 1182.0,255.2 1183.0,255.5 1184.0,255.7 1185.0,255.9 1186.0,256.1 1187.0,256.2 1188.0,256.4 1189.0,256.6 1190.0,256.8 1191.0,257.0 1192.0,257.2 1193.0,257.4 1194.0,257.6 1195.0,257.8 1196.0,257.9 1197.0,258.1 1198.0,258.3 1199.0,258.5 1200.0,258.6 1201.0,258.8 1202.0,258.9 1203.0,259.0 1204.0,259.1 1205.0,259.2 1206.0,259.4 1207.0,259.5 1208.0,259.6 1209.0,259.8 1210.0,259.9 1211.0,260.0 1212.0,260.1 1213.0,260.2 1214.0,260.4 1215.0,260.5 1216.0,260.6 1217.0,260.8 1218.0,260.9 1219.0,261.0 1220.0,261.1 1221.0,261.2 1222.0,261.4 1223.0,261.5 1224.0,261.6 1225.0,261.8 1226.0,261.9 1227.0,262.1 1228.0,262.2 1229.0,262.4 1230.0,262.6 1231.0,262.7 1232.0,262.9 1233.0,263.0 1234.0,263.1 1235.0,263.3 1236.0,263.4 1237.0,263.6 1238.0,263.8 1239.0,263.9 1240.0,264.1 1241.0,264.2 1242.0,264.4 1243.0,264.5 1244.0,264.6 1245.0,264.6 1246.0,264.6 1247.0,264.7 1248.0,264.8 1249.0,264.8 1250.0,264.9 1251.0,264.9 1252.0,264.9 1253.0,265.0 1254.0,265.1 1255.0,265.1 1256.0,265.1 1257.0,265.2 1258.0,265.2 1259.0,265.3 1260.0,265.4 1261.0,265.4 1262.0,265.4 1263.0,265.5 1264.0,265.5 1265.0,265.6 1266.0,265.6 1267.0,265.7 1268.0,265.7 1269.0,265.8 1270.0,265.8 1271.0,265.8 1272.0,265.9 1273.0,265.9 1274.0,266.0 1275.0,266.0 1276.0,266.1 1277.0,266.1 1278.0,266.2 1279.0,266.2 1280.0,266.2 1281.0,266.3 1282.0,266.3 1283.0,266.4 1284.0,266.4 1285.0,266.5" stroke="#7c0c7c"/><polyline points="156.0,417.0 157.0,416.4 158.0,415.9 159.0,415.3 160.0,414.7 161.0,414.1 162.0,413.6 163.0,413.0 164.0,412.4 165.0,411.8 166.0,411.3 167.0,410.7 168.0,410.1 169.0,409.5 170.0,409.0 171.0,408.4 172.0,407.8 173.0,407.2 174.0,406.7 175.0,406.1 176.0,405.5 177.0,405.0 178.0,404.4 179.0,403.8 180.0,403.2 181.0,402.7 182.0,402.6 183.0,396.2 184.0,383.5 185.0,382.7 186.0,381.8 187.0,381.0 188.0,380.2 189.0,379.3 190.0,378.5 191.0,378.3 192.0,378.1 193.0,377.9 194.0,377.7 195.0,377.5 196.0,377.3 197.0,377.1 198.0,376.9 199.0,376.7 200.0,376.5 201.0,376.3 202.0,376.1 203.0,375.9 204.0,375.7 205.0,375.5 206.0,375.3 207.0,375.1 208.0,374.9 209.0,374.7 210.0,374.5 211.0,374.3 212.0,374.1 213.0,374.0 214.0,373.8 215.0,373.6 216.0,373.4 217.0,373.3 218.0,373.1 219.0,372.9 220.0,372.8 221.0,372.6 222.0,372.4 223.0,372.2 224.0,372.1 225.0,371.9 226.0,371.7 227.0,371.5 228.0,371.4 229.0,371.2 230.0,371.0 231.0,370.8 232.0,370.6 233.0,370.5 234.0,370.3 235.0,370.1 236.0,369.9 237.0,369.8 238.0,369.6 239.0,369.4 240.0,369.2 241.0,369.1 242.0,368.9 243.0,368.7 244.0,368.6 245.0,368.4 246.0,368.2 247.0,368.0 248.0,367.9 249.0,367.7 250.0,367.5 251.0,367.4 252.0,367.3 253.0,367.3 254.0,367.2 255.0,367.1 256.0,367.0 257.0,366.9 258.0,366.9 259.0,366.8 260.0,366.7 261.0,366.6 262.0,366.5 263.0,366.5 264.0,366.4 265.0,366.3 266.0,366.2 267.0,366.1 268.0,366.1 269.0,366.0 270.0,365.9 271.0,365.8 272.0,365.7 273.0,365.7 274.0,365.6 275.0,365.5 276.0,365.4 277.0,365.3 278.0,365.3 279.0,365.2 280.0,365.1 281.0,365.0 282.0,364.9 283.0,364.9 284.0,364.8 285.0,364.7 286.0,364.6 287.0,364.5 288.0,364.5 289.0,364.4 290.0,364.3 291.0,364.2 292.0,364.1 293.0,364.1 294.0,364.0 295.0,363.9 296.0,363.8 297.0,363.7 298.0,363.7 299.0,363.6 300.0,363.5 301.0,363.4 302.0,363.4 303.0,363.3 304.0,363.2 305.0,363.1 306.0,363.1 307.0,363.0 308.0,362.9 309.0,362.8 310.0,362.8 311.0,362.7 312.0,362.6 313.0,362.5 314.0,362.4 315.0,362.4 316.0,362.3 317.0,362.2 318.0,362.1 319.0,362.1 320.0,362.0 321.0,361.9 322.0,361.9 323.0,361.8 324.0,361.7 325.0,361.6 326.0,361.6 327.0,361.5 328.0,361.4 329.0,361.3 330.0,361.2 331.0,361.2 332.0,361.1 333.0,361.0 334.0,360.9 335.0,360.9 336.0,360.8 337.0,360.7 338.0,360.6 339.0,360.6 340.0,360.5 341.0,360.4 342.0,360.4 343.0,360.3 344.0,360.2 345.0,360.1 346.0,360.1 347.0,360.0 348.0,359.9 349.0,359.8 350.0,359.8 351.0,359.7 352.0,359.6 353.0,359.5 354.0,359.4 355.0,359.4 356.0,359.3 357.0,359.2 358.0,359.1 359.0,359.1 360.0,359.0 361.0,358.9 362.0,358.9 363.0,358.8 364.0,358.7 365.0,358.6 366.0,358.6 367.0,358.5 368.0,358.4 369.0,358.3 370.0,358.2 371.0,358.2 372.0,358.1 373.0,358.0 374.0,357.9 375.0,357.9 376.0,357.8 377.0,357.7 378.0,357.6 379.0,357.6 380.0,357.5 381.0,357.4 382.0,357.2 383.0,357.1 384.0,357.0 385.0,356.8 386.0,356.7 387.0,356.6 388.0,356.4 389.0,356.3 390.0,356.2 391.0,356.0 392.0,355.9 393.0,355.8 394.0,355.6 395.0,355.5 396.0,355.4 397.0,355.2 398.0,355.1 399.0,355.0 400.0,354.8 401.0,354.7 402.0,354.6 403.0,354.4 404.0,354.3 405.0,354.2 406.0,354.0 407.0,353.9 408.0,353.8 409.0,353.6 410.0,353.5 411.0,353.4 412.0,353.2 413.0,353.1 414.0,353.0 415.0,352.8 416.0,352.7 417.0,352.6 418.0,352.4 419.0,352.3 420.0,352.2 421.0,352.0 422.0,351.9 423.0,351.8 424.0,351.6 425.0,351.5 426.0,351.4 427.0,351.2 428.0,351.1 429.0,351.0 430.0,350.8 431.0,350.7 432.0,350.6 433.0,350.4 434.0,350.3 435.0,350.2 436.0,350.0 437.0,349.9 438.0,349.8 439.0,349.6 440.0,349.5 441.0,349.2 442.0,349.0 443.0,348.8 444.0,348.5 445.0,357.5 446.0,366.5 447.0,366.8 448.0,367.1 449.0,367.4 450.0,367.8 451.0,368.1 452.0,368.4 453.0,368.7 454.0,369.0 455.0,369.3 456.0,369.7 457.0,370.0 458.0,370.3 459.0,370.6 460.0,370.9 461.0,371.2 462.0,371.6 463.0,371.9 464.0,372.2 465.0,372.5 466.0,372.5 467.0,372.5 468.0,364.5 469.0,356.5 470.0,348.5 471.0,348.3 472.0,348.1 473.0,347.9 474.0,347.7 475.0,347.5 476.0,347.3 477.0,347.1 478.0,346.9 479.0,346.7 480.0,346.5 481.0,346.3 482.0,346.1 483.0,345.9 484.0,345.7 485.0,345.5 486.0,345.3 487.0,345.1 488.0,344.9 489.0,344.7 490.0,344.5 491.0,344.4 492.0,344.4 493.0,344.3 494.0,344.2 495.0,344.2 496.0,344.1 497.0,344.0 498.0,344.0 499.0,343.9 500.0,343.8 501.0,343.8 502.0,343.7 503.0,343.6 504.0,343.6 505.0,343.5 506.0,343.4 507.0,343.4 508.0,343.3 509.0,343.2 510.0,343.2 511.0,343.1 512.0,343.0 513.0,343.0 514.0,342.9 515.0,342.8 516.0,342.8 517.0,342.7 518.0,342.6 519.0,342.6 520.0,342.5 521.0,342.4 522.0,342.4 523.0,342.4 524.0,342.3 525.0,342.2 526.0,342.2 527.0,342.1 528.0,342.1 529.0,342.1 530.0,342.0 531.0,341.9 532.0,341.9 533.0,341.9 534.0,341.8 535.0,341.8 536.0,341.7 537.0,341.6 538.0,341.6 539.0,341.6 540.0,341.5 541.0,341.4 542.0,341.4 543.0,341.4 544.0,341.3 545.0,341.2 546.0,341.2 547.0,341.1 548.0,341.1 549.0,341.1 550.0,341.0 551.0,340.9 552.0,340.9 553.0,340.9 554.0,340.8 555.0,340.8 556.0,340.7 557.0,340.6 558.0,340.6 559.0,340.6 560.0,340.5 561.0,340.4 562.0,340.4 563.0,340.3 564.0,340.2 565.0,340.1 566.0,340.1 567.0,340.0 568.0,339.9 569.0,339.8 570.0,339.8 571.0,339.7 572.0,339.6 573.0,339.5 574.0,339.4 575.0,339.4 576.0,339.3 577.0,339.2 578.0,339.1 579.0,339.1 580.0,339.0 581.0,338.9 582.0,338.9 583.0,338.8 584.0,338.7 585.0,338.6 586.0,338.6 587.0,338.5 588.0,338.4 589.0,338.3 590.0,338.2 591.0,338.2 592.0,338.1 593.0,338.0 594.0,337.9 595.0,337.9 596.0,337.8 597.0,337.7 598.0,337.6 599.0,337.6 600.0,337.5 601.0,337.4 602.0,337.4 603.0,337.3 604.0,337.2 605.0,337.1 606.0,337.1 607.0,337.0 608.0,336.9 609.0,336.8 610.0,336.8 611.0,336.7 612.0,336.6 613.0,336.5 614.0,336.4 615.0,336.4 616.0,336.3 617.0,336.2 618.0,336.1 619.0,336.1 620.0,336.0 621.0,335.9 622.0,335.9 623.0,335.8 624.0,335.7 625.0,335.6 626.0,335.6 627.0,335.5 628.0,335.4 629.0,335.3 630.0,335.2 631.0,335.2 632.0,335.1 633.0,335.0 634.0,334.9 635.0,334.9 636.0,334.8 637.0,334.7 638.0,334.6 639.0,334.6 640.0,334.5 641.0,334.5 642.0,334.4 643.0,334.4 644.0,334.4 645.0,334.3 646.0,334.3 647.0,334.3 648.0,334.2 649.0,334.2 650.0,334.2 651.0,334.1 652.0,334.1 653.0,334.1 654.0,334.0 655.0,334.0 656.0,334.0 657.0,333.9 658.0,333.9 659.0,333.9 660.0,333.8 661.0,333.8 662.0,333.8 663.0,333.7 664.0,333.7 665.0,333.7 666.0,333.6 667.0,333.6 668.0,333.6 669.0,333.5 670.0,333.5 671.0,333.5 672.0,333.4 673.0,333.4 674.0,333.4 675.0,333.3 676.0,333.3 677.0,333.3 678.0,333.2 679.0,333.2 680.0,333.2 681.0,333.1 682.0,333.1 683.0,333.1 684.0,333.0 685.0,333.0 686.0,333.0 687.0,332.9 688.0,332.9 689.0,332.9 690.0,332.8 691.0,332.8 692.0,332.8 693.0,332.7 694.0,332.7 695.0,332.7 696.0,332.6 697.0,332.6 698.0,332.6 699.0,332.5 700.0,332.5 701.0,332.4 702.0,332.4 703.0,332.3 704.0,332.2 705.0,332.2 706.0,332.1 707.0,332.0 708.0,332.0 709.0,331.9 710.0,331.8 711.0,331.8 712.0,331.7 713.0,331.6 714.0,331.6 715.0,331.5 716.0,331.4 717.0,331.4 718.0,331.3 719.0,331.2 720.0,331.2 721.0,331.1 722.0,331.0 723.0,331.0 724.0,330.9 725.0,330.8 726.0,330.8 727.0,330.7 728.0,330.6 729.0,330.6 730.0,330.5 731.0,330.4 732.0,330.4 733.0,330.3 734.0,330.2 735.0,330.2 736.0,330.1 737.0,330.0 738.0,330.0 739.0,329.9 740.0,329.8 741.0,329.8 742.0,329.7 743.0,329.6 744.0,329.6 745.0,329.5 746.0,329.4 747.0,329.4 748.0,329.3 749.0,329.2 750.0,329.2 751.0,329.1 752.0,329.0 753.0,329.0 754.0,328.9 755.0,328.8 756.0,328.8 757.0,328.7 758.0,328.6 759.0,328.6 760.0,328.5 761.0,328.4 762.0,328.4 763.0,328.3 764.0,328.2 765.0,328.1 766.0,328.1 767.0,328.0 768.0,327.9 769.0,327.8 770.0,327.8 771.0,327.7 772.0,327.6 773.0,327.5 774.0,327.4 775.0,327.4 776.0,327.3 777.0,327.2 778.0,327.1 779.0,327.1 780.0,327.0 781.0,326.9 782.0,326.9 783.0,326.8 784.0,326.7 785.0,326.6 786.0,326.6 787.0,326.5 788.0,326.4 789.0,326.3 790.0,326.2 791.0,326.2 792.0,326.1 793.0,326.0 794.0,325.9 795.0,325.9 796.0,325.8 797.0,325.7 798.0,325.6 799.0,325.6 800.0,325.5 801.0,325.4 802.0,325.3 803.0,325.3 804.0,325.2 805.0,325.1 806.0,325.0 807.0,324.9 808.0,324.9 809.0,324.8 810.0,324.7 811.0,324.6 812.0,324.5 813.0,324.5 814.0,324.4 815.0,324.3 816.0,324.2 817.0,324.1 818.0,324.1 819.0,324.0 820.0,323.9 821.0,323.8 822.0,323.7 823.0,323.7 824.0,323.6 825.0,323.5 826.0,323.4 827.0,323.3 828.0,323.3 829.0,323.2 830.0,323.1 831.0,323.0 832.0,322.9 833.0,322.9 834.0,322.8 835.0,322.7 836.0,322.6 837.0,322.5 838.0,322.5 839.0,322.4 840.0,322.3 841.0,322.2 842.0,322.1 843.0,322.1 844.0,322.0 845.0,321.9 846.0,321.8 847.0,321.7 848.0,321.7 849.0,321.6 850.0,321.5 851.0,321.4 852.0,321.3 853.0,321.1 854.0,321.0 855.0,320.9 856.0,320.8 857.0,320.7 858.0,320.5 859.0,320.4 860.0,320.3 861.0,320.2 862.0,320.1 863.0,319.9 864.0,319.8 865.0,319.7 866.0,319.6 867.0,319.5 868.0,319.3 869.0,319.2 870.0,319.1 871.0,319.0 872.0,318.9 873.0,318.7 874.0,318.6 875.0,318.5 876.0,318.4 877.0,318.3 878.0,318.1 879.0,318.0 880.0,317.9 881.0,317.8 882.0,317.7 883.0,317.5 884.0,317.4 885.0,317.3 886.0,317.2 887.0,317.1 888.0,316.9 889.0,316.8 890.0,316.7 891.0,316.6 892.0,316.5 893.0,316.3 894.0,316.2 895.0,316.1 896.0,316.0 897.0,315.9 898.0,315.7 899.0,315.6 900.0,315.5 901.0,315.4 902.0,315.2 903.0,315.1 904.0,314.9 905.0,314.8 906.0,314.6 907.0,314.4 908.0,314.3 909.0,314.1 910.0,314.0 911.0,313.9 912.0,313.7 913.0,313.6 914.0,313.4 915.0,313.2 916.0,313.1 917.0,312.9 918.0,312.8 919.0,312.6 920.0,312.5 921.0,312.4 922.0,312.2 923.0,312.1 924.0,311.9 925.0,311.8 926.0,311.6 927.0,311.4 928.0,311.3 929.0,311.1 930.0,311.0 931.0,310.9 932.0,310.7 933.0,310.6 934.0,310.4 935.0,310.2 936.0,310.1 937.0,309.9 938.0,309.8 939.0,309.6 940.0,309.5 941.0,309.3 942.0,309.0 943.0,308.8 944.0,308.6 945.0,308.3 946.0,308.1 947.0,307.9 948.0,307.6 949.0,307.4 950.0,307.2 951.0,306.9 952.0,306.7 953.0,306.5 954.0,306.2 955.0,306.0 956.0,305.8 957.0,305.5 958.0,305.3 959.0,305.1 960.0,304.8 961.0,304.6 962.0,304.4 963.0,304.1 964.0,303.9 965.0,303.7 966.0,303.4 967.0,303.2 968.0,303.0 969.0,302.7 970.0,302.5 971.0,302.1 972.0,301.8 973.0,301.4 974.0,301.0 975.0,300.7 976.0,300.3 977.0,299.9 978.0,299.6 979.0,299.2 980.0,298.8 981.0,298.5 982.0,298.1 983.0,297.7 984.0,297.4 985.0,297.0 986.0,296.6 987.0,296.3 988.0,295.9 989.0,295.5 990.0,295.2 991.0,294.8 992.0,294.4 993.0,294.1 994.0,293.7 995.0,293.3 996.0,293.0 997.0,292.6 998.0,292.2 999.0,291.9 1000.0,291.5 1001.0,290.9 1002.0,290.4 1003.0,289.8 1004.0,289.2 1005.0,288.7 1006.0,288.1 1007.0,287.5 1008.0,287.0 1009.0,286.4 1010.0,285.8 1011.0,285.1 1012.0,284.3 1013.0,283.5 1014.0,282.8 1015.0,282.0 1016.0,281.2 1017.0,280.5 1018.0,279.7 1019.0,278.9 1020.0,278.2 1021.0,278.9 1022.0,282.6 1023.0,289.3 1024.0,292.6 1025.0,296.0 1026.0,299.4 1027.0,301.4 1028.0,303.4 1029.0,305.5 1030.0,307.5 1031.0,308.9 1032.0,310.4 1033.0,311.8 1034.0,313.2 1035.0,314.7 1036.0,315.8 1037.0,317.0 1038.0,318.2 1039.0,319.4 1040.0,320.5 1041.0,321.7 1042.0,322.9 1043.0,322.6 1044.0,322.3 1045.0,322.0 1046.0,314.8 1047.0,307.7 1048.0,300.5 1049.0,293.3 1050.0,286.2 1051.0,279.0 1052.0,271.8 1053.0,264.7 1054.0,257.5 1055.0,250.3 1056.0,243.2 1057.0,236.0 1058.0,235.9 1059.0,235.7 1060.0,235.6 1061.0,235.4 1062.0,235.3 1063.0,235.2 1064.0,235.0 1065.0,234.9 1066.0,234.7 1067.0,234.6 1068.0,234.5 1069.0,234.3 1070.0,234.2 1071.0,234.0 1072.0,233.9 1073.0,233.8 1074.0,233.6 1075.0,233.5 1076.0,233.3 1077.0,233.2 1078.0,233.1 1079.0,232.9 1080.0,232.8 1081.0,232.7 1082.0,232.5 1083.0,232.4 1084.0,232.2 1085.0,232.1 1086.0,232.0 1087.0,231.8 1088.0,231.7 1089.0,231.5 1090.0,231.4 1091.0,231.3 1092.0,231.1 1093.0,231.0 1094.0,230.8 1095.0,230.7 1096.0,230.6 1097.0,230.4 1098.0,230.3 1099.0,230.1 1100.0,230.0 1101.0,229.8 1102.0,229.7 1103.0,229.5 1104.0,229.4 1105.0,229.2 1106.0,229.1 1107.0,228.9 1108.0,228.7 1109.0,228.6 1110.0,228.4 1111.0,228.3 1112.0,228.1 1113.0,227.9 1114.0,227.8 1115.0,227.6 1116.0,227.5 1117.0,227.3 1118.0,227.2 1119.0,227.0 1120.0,226.8 1121.0,226.7 1122.0,226.5 1123.0,226.4 1124.0,226.2 1125.0,226.1 1126.0,225.9 1127.0,225.7 1128.0,225.6 1129.0,225.4 1130.0,225.3 1131.0,225.1 1132.0,224.9 1133.0,224.8 1134.0,224.6 1135.0,224.5 1136.0,224.3 1137.0,224.2 1138.0,224.0 1139.0,225.6 1140.0,227.2 1141.0,228.8 1142.0,230.4 1143.0,232.0 1144.0,232.6 1145.0,233.1 1146.0,233.7 1147.0,234.3 1148.0,234.9 1149.0,235.4 1150.0,236.0 1151.0,236.6 1152.0,237.1 1153.0,237.7 1154.0,238.3 1155.0,238.9 1156.0,239.4 1157.0,240.0 1158.0,240.4 1159.0,240.8 1160.0,241.2 1161.0,241.5 1162.0,241.9 1163.0,242.3 1164.0,242.7 1165.0,243.1 1166.0,243.5 1167.0,243.8 1168.0,244.2 1169.0,244.6 1170.0,245.0 1171.0,245.3 1172.0,245.6 1173.0,245.9 1174.0,246.1 1175.0,246.4 1176.0,246.7 1177.0,247.0 1178.0,247.3 1179.0,247.6 1180.0,247.8 1181.0,248.1 1182.0,248.4 1183.0,248.7 1184.0,248.9 1185.0,249.0 1186.0,249.2 1187.0,249.4 1188.0,249.5 1189.0,249.7 1190.0,249.9 1191.0,250.0 1192.0,250.2 1193.0,250.4 1194.0,250.5 1195.0,250.7 1196.0,250.9 1197.0,251.0 1198.0,251.2 1199.0,251.4 1200.0,251.5 1201.0,251.7 1202.0,251.9 1203.0,252.0 1204.0,252.2 1205.0,252.4 1206.0,252.5 1207.0,252.7 1208.0,252.8 1209.0,252.9 1210.0,253.0 1211.0,253.0 1212.0,253.1 1213.0,253.2 1214.0,253.3 1215.0,253.4 1216.0,253.5 1217.0,253.6 1218.0,253.7 1219.0,253.7 1220.0,253.8 1221.0,253.9 1222.0,254.0 1223.0,254.1 1224.0,254.2 1225.0,254.3 1226.0,254.4 1227.0,254.4 1228.0,254.5 1229.0,254.6 1230.0,254.7 1231.0,254.8 1232.0,254.9 1233.0,255.0 1234.0,255.1 1235.0,255.2 1236.0,255.3 1237.0,255.4 1238.0,255.5 1239.0,255.6 1240.0,255.7 1241.0,255.8 1242.0,255.9 1243.0,256.0 1244.0,256.1 1245.0,256.2 1246.0,256.3 1247.0,256.4 1248.0,256.5 1249.0,256.6 1250.0,256.7 1251.0,256.8 1252.0,256.9 1253.0,257.0 1254.0,257.1 1255.0,257.2 1256.0,257.3 1257.0,257.4 1258.0,257.5 1259.0,257.6 1260.0,257.7 1261.0,257.8 1262.0,257.9 1263.0,258.0 1264.0,258.1 1265.0,258.1 1266.0,258.2 1267.0,258.2 1268.0,258.3 1269.0,258.3 1270.0,258.4 1271.0,258.5 1272.0,258.5 1273.0,258.6 1274.0,258.6 1275.0,258.7 1276.0,258.7 1277.0,258.8 1278.0,258.8 1279.0,258.9 1280.0,259.0 1281.0,259.0 1282.0,259.1 1283.0,259.1 1284.0,259.2 1285.0,259.2" stroke="#2c1230"/><polyline points="156.0,421.0 157.0,420.4 158.0,419.9 159.0,419.3 160.0,418.8 161.0,418.2 162.0,417.6 163.0,417.1 164.0,416.5 165.0,416.0 166.0,415.4 167.0,414.8 168.0,414.3 169.0,413.7 170.0,413.2 171.0,412.6 172.0,412.0 173.0,411.5 174.0,410.9 175.0,410.4 176.0,409.8 177.0,409.2 178.0,408.7 179.0,408.1 180.0,407.6 181.0,407.0 182.0,407.0 183.0,400.7 184.0,388.0 185.0,387.2 186.0,386.3 187.0,385.5 188.0,384.7 189.0,383.8 190.0,383.0 191.0,382.8 192.0,382.6 193.0,382.4 194.0,382.2 195.0,382.0 196.0,381.8 197.0,381.6 198.0,381.4 199.0,381.2 200.0,381.0 201.0,380.8 202.0,380.6 203.0,380.4 204.0,380.2 205.0,380.0 206.0,379.8 207.0,379.6 208.0,379.4 209.0,379.2 210.0,379.0 211.0,378.8 212.0,378.6 213.0,378.5 214.0,378.3 215.0,378.1 216.0,377.9 217.0,377.8 218.0,377.6 219.0,377.4 220.0,377.2 221.0,377.1 222.0,376.9 223.0,376.7 224.0,376.6 225.0,376.4 226.0,376.2 227.0,376.0 228.0,375.9 229.0,375.7 230.0,375.5 231.0,375.3 232.0,375.1 233.0,375.0 234.0,374.8 235.0,374.6 236.0,374.4 237.0,374.3 238.0,374.1 239.0,373.9 240.0,373.8 241.0,373.6 242.0,373.4 243.0,373.2 244.0,373.1 245.0,372.9 246.0,372.7 247.0,372.5 248.0,372.4 249.0,372.2 250.0,372.0 251.0,371.9 252.0,371.8 253.0,371.8 254.0,371.7 255.0,371.6 256.0,371.5 257.0,371.4 258.0,371.4 259.0,371.3 260.0,371.2 261.0,371.1 262.0,371.0 263.0,371.0 264.0,370.9 265.0,370.8 266.0,370.7 267.0,370.6 268.0,370.6 269.0,370.5 270.0,370.4 271.0,370.3 272.0,370.2 273.0,370.2 274.0,370.1 275.0,370.0 276.0,369.9 277.0,369.8 278.0,369.8 279.0,369.7 280.0,369.6 281.0,369.5 282.0,369.4 283.0,369.4 284.0,369.3 285.0,369.2 286.0,369.1 287.0,369.0 288.0,369.0 289.0,368.9 290.0,368.8 291.0,368.7 292.0,368.6 293.0,368.6 294.0,368.5 295.0,368.4 296.0,368.3 297.0,368.2 298.0,368.2 299.0,368.1 300.0,368.0 301.0,367.9 302.0,367.9 303.0,367.8 304.0,367.7 305.0,367.6 306.0,367.6 307.0,367.5 308.0,367.4 309.0,367.3 310.0,367.2 311.0,367.2 312.0,367.1 313.0,367.0 314.0,366.9 315.0,366.9 316.0,366.8 317.0,366.7 318.0,366.6 319.0,366.6 320.0,366.5 321.0,366.4 322.0,366.4 323.0,366.3 324.0,366.2 325.0,366.1 326.0,366.1 327.0,366.0 328.0,365.9 329.0,365.8 330.0,365.8 331.0,365.7 332.0,365.6 333.0,365.5 334.0,365.4 335.0,365.4 336.0,365.3 337.0,365.2 338.0,365.1 339.0,365.1 340.0,365.0 341.0,364.9 342.0,364.9 343.0,364.8 344.0,364.7 345.0,364.6 346.0,364.6 347.0,364.5 348.0,364.4 349.0,364.3 350.0,364.2 351.0,364.2 352.0,364.1 353.0,364.0 354.0,363.9 355.0,363.9 356.0,363.8 357.0,363.7 358.0,363.6 359.0,363.6 360.0,363.5 361.0,363.4 362.0,363.4 363.0,363.3 364.0,363.2 365.0,363.1 366.0,363.1 367.0,363.0 368.0,362.9 369.0,362.8 370.0,362.8 371.0,362.7 372.0,362.6 373.0,362.5 374.0,362.4 375.0,362.4 376.0,362.3 377.0,362.2 378.0,362.1 379.0,362.1 380.0,362.0 381.0,361.9 382.0,361.7 383.0,361.6 384.0,361.5 385.0,361.3 386.0,361.2 387.0,361.1 388.0,360.9 389.0,360.8 390.0,360.7 391.0,360.5 392.0,360.4 393.0,360.3 394.0,360.1 395.0,360.0 396.0,359.9 397.0,359.7 398.0,359.6 399.0,359.5 400.0,359.3 401.0,359.2 402.0,359.1 403.0,358.9 404.0,358.8 405.0,358.7 406.0,358.5 407.0,358.4 408.0,358.3 409.0,358.1 410.0,358.0 411.0,357.9 412.0,357.7 413.0,357.6 414.0,357.5 415.0,357.3 416.0,357.2 417.0,357.1 418.0,356.9 419.0,356.8 420.0,356.7 421.0,356.5 422.0,356.4 423.0,356.3 424.0,356.1 425.0,356.0 426.0,355.9 427.0,355.7 428.0,355.6 429.0,355.5 430.0,355.3 431.0,355.2 432.0,355.1 433.0,354.9 434.0,354.8 435.0,354.7 436.0,354.5 437.0,354.4 438.0,354.3 439.0,354.1 440.0,354.0 441.0,353.8 442.0,353.5 443.0,353.2 444.0,353.0 445.0,362.0 446.0,371.0 447.0,371.3 448.0,371.6 449.0,371.9 450.0,372.3 451.0,372.6 452.0,372.9 453.0,373.2 454.0,373.5 455.0,373.8 456.0,374.2 457.0,374.5 458.0,374.8 459.0,375.1 460.0,375.4 461.0,375.7 462.0,376.1 463.0,376.4 464.0,376.7 465.0,377.0 466.0,377.0 467.0,377.0 468.0,369.0 469.0,361.0 470.0,353.0 471.0,352.8 472.0,352.6 473.0,352.4 474.0,352.2 475.0,352.0 476.0,351.8 477.0,351.6 478.0,351.4 479.0,351.2 480.0,351.0 481.0,350.8 482.0,350.6 483.0,350.4 484.0,350.2 485.0,350.0 486.0,349.8 487.0,349.6 488.0,349.4 489.0,349.2 490.0,349.0 491.0,348.9 492.0,348.9 493.0,348.8 494.0,348.7 495.0,348.7 496.0,348.6 497.0,348.5 498.0,348.5 499.0,348.4 500.0,348.3 501.0,348.3 502.0,348.2 503.0,348.1 504.0,348.0 505.0,347.9 506.0,347.8 507.0,347.8 508.0,347.7 509.0,347.6 510.0,347.5 511.0,347.4 512.0,347.4 513.0,347.3 514.0,347.2 515.0,347.1 516.0,347.0 517.0,346.9 518.0,346.9 519.0,346.8 520.0,346.7 521.0,346.6 522.0,346.6 523.0,346.5 524.0,346.4 525.0,346.4 526.0,346.3 527.0,346.2 528.0,346.2 529.0,346.1 530.0,346.1 531.0,346.0 532.0,345.9 533.0,345.9 534.0,345.8 535.0,345.7 536.0,345.7 537.0,345.6 538.0,345.5 539.0,345.5 540.0,345.4 541.0,345.3 542.0,345.3 543.0,345.2 544.0,345.1 545.0,345.1 546.0,345.0 547.0,344.9 548.0,344.9 549.0,344.8 550.0,344.8 551.0,344.7 552.0,344.6 553.0,344.6 554.0,344.5 555.0,344.4 556.0,344.4 557.0,344.3 558.0,344.2 559.0,344.2 560.0,344.1 561.0,344.0 562.0,343.9 563.0,343.8 564.0,343.7 565.0,343.6 566.0,343.6 567.0,343.5 568.0,343.4 569.0,343.3 570.0,343.2 571.0,343.1 572.0,343.0 573.0,342.9 574.0,342.8 575.0,342.8 576.0,342.7 577.0,342.6 578.0,342.5 579.0,342.4 580.0,342.3 581.0,342.2 582.0,342.1 583.0,342.0 584.0,341.9 585.0,341.9 586.0,341.8 587.0,341.7 588.0,341.6 589.0,341.5 590.0,341.4 591.0,341.3 592.0,341.2 593.0,341.1 594.0,341.0 595.0,340.9 596.0,340.9 597.0,340.8 598.0,340.7 599.0,340.6 600.0,340.5 601.0,340.4 602.0,340.3 603.0,340.2 604.0,340.1 605.0,340.1 606.0,340.0 607.0,339.9 608.0,339.8 609.0,339.7 610.0,339.6 611.0,339.5 612.0,339.4 613.0,339.3 614.0,339.2 615.0,339.1 616.0,339.1 617.0,339.0 618.0,338.9 619.0,338.8 620.0,338.7 621.0,338.6 622.0,338.5 623.0,338.4 624.0,338.3 625.0,338.2 626.0,338.2 627.0,338.1 628.0,338.0 629.0,337.9 630.0,337.8 631.0,337.7 632.0,337.6 633.0,337.5 634.0,337.4 635.0,337.4 636.0,337.3 637.0,337.2 638.0,337.1 639.0,337.0 640.0,336.9 641.0,336.9 642.0,336.8 643.0,336.8 644.0,336.7 645.0,336.7 646.0,336.6 647.0,336.6 648.0,336.5 649.0,336.5 650.0,336.4 651.0,336.4 652.0,336.3 653.0,336.3 654.0,336.2 655.0,336.2 656.0,336.1 657.0,336.1 658.0,336.0 659.0,336.0 660.0,335.9 661.0,335.9 662.0,335.8 663.0,335.8 664.0,335.7 665.0,335.7 666.0,335.6 667.0,335.6 668.0,335.5 669.0,335.5 670.0,335.4 671.0,335.4 672.0,335.4 673.0,335.3 674.0,335.3 675.0,335.2 676.0,335.2 677.0,335.1 678.0,335.1 679.0,335.0 680.0,335.0 681.0,334.9 682.0,334.9 683.0,334.8 684.0,334.8 685.0,334.7 686.0,334.7 687.0,334.6 688.0,334.6 689.0,334.5 690.0,334.5 691.0,334.4 692.0,334.4 693.0,334.3 694.0,334.3 695.0,334.2 696.0,334.2 697.0,334.1 698.0,334.1 699.0,334.0 700.0,334.0 701.0,333.9 702.0,333.8 703.0,333.8 704.0,333.7 705.0,333.6 706.0,333.5 707.0,333.5 708.0,333.4 709.0,333.3 710.0,333.2 711.0,333.2 712.0,333.1 713.0,333.0 714.0,332.9 715.0,332.9 716.0,332.8 717.0,332.7 718.0,332.6 719.0,332.5 720.0,332.5 721.0,332.4 722.0,332.3 723.0,332.2 724.0,332.2 725.0,332.1 726.0,332.0 727.0,331.9 728.0,331.9 729.0,331.8 730.0,331.7 731.0,331.6 732.0,331.5 733.0,331.5 734.0,331.4 735.0,331.3 736.0,331.2 737.0,331.2 738.0,331.1 739.0,331.0 740.0,330.9 741.0,330.9 742.0,330.8 743.0,330.7 744.0,330.6 745.0,330.6 746.0,330.5 747.0,330.4 748.0,330.3 749.0,330.2 750.0,330.2 751.0,330.1 752.0,330.0 753.0,329.9 754.0,329.9 755.0,329.8 756.0,329.7 757.0,329.6 758.0,329.6 759.0,329.5 760.0,329.4 761.0,329.3 762.0,329.2 763.0,329.1 764.0,329.1 765.0,329.0 766.0,328.9 767.0,328.8 768.0,328.7 769.0,328.6 770.0,328.6 771.0,328.5 772.0,328.4 773.0,328.3 774.0,328.2 775.0,328.1 776.0,328.0 777.0,328.0 778.0,327.9 779.0,327.8 780.0,327.7 781.0,327.6 782.0,327.5 783.0,327.4 784.0,327.4 785.0,327.3 786.0,327.2 787.0,327.1 788.0,327.0 789.0,326.9 790.0,326.9 791.0,326.8 792.0,326.7 793.0,326.6 794.0,326.5 795.0,326.4 796.0,326.3 797.0,326.3 798.0,326.2 799.0,326.1 800.0,326.0 801.0,325.9 802.0,325.8 803.0,325.7 804.0,325.6 805.0,325.6 806.0,325.5 807.0,325.4 808.0,325.3 809.0,325.2 810.0,325.1 811.0,325.0 812.0,324.9 813.0,324.8 814.0,324.7 815.0,324.7 816.0,324.6 817.0,324.5 818.0,324.4 819.0,324.3 820.0,324.2 821.0,324.1 822.0,324.0 823.0,323.9 824.0,323.8 825.0,323.8 826.0,323.7 827.0,323.6 828.0,323.5 829.0,323.4 830.0,323.3 831.0,323.2 832.0,323.1 833.0,323.0 834.0,322.9 835.0,322.8 836.0,322.8 837.0,322.7 838.0,322.6 839.0,322.5 840.0,322.4 841.0,322.3 842.0,322.2 843.0,322.1 844.0,322.0 845.0,321.9 846.0,321.9 847.0,321.8 848.0,321.7 849.0,321.6 850.0,321.5 851.0,321.4 852.0,321.2 853.0,321.1 854.0,321.0 855.0,320.8 856.0,320.7 857.0,320.6 858.0,320.5 859.0,320.3 860.0,320.2 861.0,320.1 862.0,319.9 863.0,319.8 864.0,319.7 865.0,319.6 866.0,319.4 867.0,319.3 868.0,319.2 869.0,319.0 870.0,318.9 871.0,318.8 872.0,318.6 873.0,318.5 874.0,318.4 875.0,318.2 876.0,318.1 877.0,318.0 878.0,317.9 879.0,317.7 880.0,317.6 881.0,317.5 882.0,317.3 883.0,317.2 884.0,317.1 885.0,316.9 886.0,316.8 887.0,316.7 888.0,316.6 889.0,316.4 890.0,316.3 891.0,316.2 892.0,316.0 893.0,315.9 894.0,315.8 895.0,315.7 896.0,315.5 897.0,315.4 898.0,315.3 899.0,315.1 900.0,315.0 901.0,314.8 902.0,314.7 903.0,314.5 904.0,314.4 905.0,314.2 906.0,314.0 907.0,313.9 908.0,313.7 909.0,313.6 910.0,313.4 911.0,313.2 912.0,313.1 913.0,312.9 914.0,312.8 915.0,312.6 916.0,312.4 917.0,312.3 918.0,312.1 919.0,312.0 920.0,311.8 921.0,311.6 922.0,311.5 923.0,311.3 924.0,311.2 925.0,311.0 926.0,310.8 927.0,310.7 928.0,310.5 929.0,310.4 930.0,310.2 931.0,310.0 932.0,309.9 933.0,309.7 934.0,309.6 935.0,309.4 936.0,309.2 937.0,309.1 938.0,308.9 939.0,308.8 940.0,308.6 941.0,308.4 942.0,308.1 943.0,307.9 944.0,307.6 945.0,307.4 946.0,307.1 947.0,306.9 948.0,306.7 949.0,306.4 950.0,306.2 951.0,305.9 952.0,305.7 953.0,305.4 954.0,305.2 955.0,304.9 956.0,304.7 957.0,304.5 958.0,304.2 959.0,304.0 960.0,303.7 961.0,303.5 962.0,303.2 963.0,303.0 964.0,302.8 965.0,302.5 966.0,302.3 967.0,302.0 968.0,301.8 969.0,301.5 970.0,301.3 971.0,300.9 972.0,300.5 973.0,300.2 974.0,299.8 975.0,299.4 976.0,299.0 977.0,298.7 978.0,298.3 979.0,297.9 980.0,297.5 981.0,297.2 982.0,296.8 983.0,296.4 984.0,296.0 985.0,295.6 986.0,295.3 987.0,294.9 988.0,294.5 989.0,294.1 990.0,293.8 991.0,293.4 992.0,293.0 993.0,292.6 994.0,292.3 995.0,291.9 996.0,291.5 997.0,291.1 998.0,290.8 999.0,290.4 1000.0,290.0 1001.0,289.1 1002.0,288.3 1003.0,287.4 1004.0,286.6 1005.0,285.8 1006.0,284.9 1007.0,284.1 1008.0,283.2 1009.0,282.4 1010.0,281.5 1011.0,280.4 1012.0,279.4 1013.0,278.4 1014.0,277.3 1015.0,276.2 1016.0,275.2 1017.0,274.1 1018.0,273.1 1019.0,272.1 1020.0,271.0 1021.0,272.3 1022.0,276.5 1023.0,283.8 1024.0,287.7 1025.0,291.7 1026.0,295.6 1027.0,298.2 1028.0,300.8 1029.0,303.4 1030.0,306.0 1031.0,307.5 1032.0,309.1 1033.0,310.6 1034.0,312.1 1035.0,313.7 1036.0,314.9 1037.0,316.2 1038.0,317.5 1039.0,318.8 1040.0,320.0 1041.0,321.3 1042.0,322.6 1043.0,322.4 1044.0,322.2 1045.0,322.0 1046.0,315.2 1047.0,308.3 1048.0,301.5 1049.0,294.7 1050.0,287.8 1051.0,281.0 1052.0,274.2 1053.0,267.3 1054.0,260.5 1055.0,253.7 1056.0,246.8 1057.0,240.0 1058.0,239.7 1059.0,239.4 1060.0,239.2 1061.0,238.9 1062.0,238.6 1063.0,238.3 1064.0,238.1 1065.0,237.8 1066.0,237.5 1067.0,237.2 1068.0,236.9 1069.0,236.7 1070.0,236.4 1071.0,236.1 1072.0,235.8 1073.0,235.6 1074.0,235.3 1075.0,235.0 1076.0,234.8 1077.0,234.7 1078.0,234.5 1079.0,234.4 1080.0,234.2 1081.0,234.0 1082.0,233.9 1083.0,233.7 1084.0,233.6 1085.0,233.4 1086.0,233.2 1087.0,233.1 1088.0,232.9 1089.0,232.8 1090.0,232.6 1091.0,232.4 1092.0,232.3 1093.0,232.1 1094.0,232.0 1095.0,231.8 1096.0,231.6 1097.0,231.5 1098.0,231.3 1099.0,231.2 1100.0,231.0 1101.0,230.9 1102.0,230.8 1103.0,230.8 1104.0,230.7 1105.0,230.6 1106.0,230.5 1107.0,230.4 1108.0,230.4 1109.0,230.3 1110.0,230.2 1111.0,230.1 1112.0,230.0 1113.0,229.9 1114.0,229.9 1115.0,229.8 1116.0,229.7 1117.0,229.6 1118.0,229.5 1119.0,229.5 1120.0,229.4 1121.0,229.3 1122.0,229.2 1123.0,229.1 1124.0,229.1 1125.0,229.0 1126.0,228.9 1127.0,228.8 1128.0,228.7 1129.0,228.6 1130.0,228.6 1131.0,228.5 1132.0,228.4 1133.0,228.3 1134.0,228.2 1135.0,228.2 1136.0,228.1 1137.0,228.0 1138.0,229.2 1139.0,230.5 1140.0,231.8 1141.0,233.0 1142.0,233.8 1143.0,234.6 1144.0,235.3 1145.0,236.1 1146.0,236.9 1147.0,237.7 1148.0,238.4 1149.0,239.2 1150.0,240.0 1151.0,240.7 1152.0,241.4 1153.0,242.1 1154.0,242.8 1155.0,243.5 1156.0,244.2 1157.0,244.8 1158.0,245.5 1159.0,246.2 1160.0,246.9 1161.0,247.6 1162.0,248.3 1163.0,249.0 1164.0,249.3 1165.0,249.6 1166.0,249.9 1167.0,250.1 1168.0,250.4 1169.0,250.7 1170.0,251.0 1171.0,251.3 1172.0,251.6 1173.0,251.8 1174.0,252.1 1175.0,252.4 1176.0,252.7 1177.0,253.0 1178.0,253.3 1179.0,253.6 1180.0,253.8 1181.0,254.1 1182.0,254.4 1183.0,254.7 1184.0,254.9 1185.0,255.1 1186.0,255.3 1187.0,255.5 1188.0,255.7 1189.0,255.9 1190.0,256.1 1191.0,256.4 1192.0,256.6 1193.0,256.8 1194.0,257.0 1195.0,257.2 1196.0,257.4 1197.0,257.6 1198.0,257.8 1199.0,258.0 1200.0,258.1 1201.0,258.2 1202.0,258.3 1203.0,258.4 1204.0,258.6 1205.0,258.7 1206.0,258.8 1207.0,258.9 1208.0,259.0 1209.0,259.1 1210.0,259.2 1211.0,259.4 1212.0,259.5 1213.0,259.6 1214.0,259.7 1215.0,259.8 1216.0,259.9 1217.0,260.0 1218.0,260.1 1219.0,260.2 1220.0,260.4 1221.0,260.5 1222.0,260.6 1223.0,260.7 1224.0,260.9 1225.0,261.0 1226.0,261.2 1227.0,261.4 1228.0,261.5 1229.0,261.7 1230.0,261.9 1231.0,262.0 1232.0,262.2 1233.0,262.4 1234.0,262.5 1235.0,262.7 1236.0,262.8 1237.0,263.0 1238.0,263.2 1239.0,263.3 1240.0,263.5 1241.0,263.7 1242.0,263.8 1243.0,264.0 1244.0,264.1 1245.0,264.1 1246.0,264.2 1247.0,264.3 1248.0,264.3 1249.0,264.4 1250.0,264.5 1251.0,264.5 1252.0,264.6 1253.0,264.6 1254.0,264.7 1255.0,264.8 1256.0,264.8 1257.0,264.9 1258.0,265.0 1259.0,265.0 1260.0,265.1 1261.0,265.2 1262.0,265.2 1263.0,265.3 1264.0,265.5 1265.0,265.7 1266.0,265.9 1267.0,266.1 1268.0,266.3 1269.0,266.5 1270.0,266.6 1271.0,266.8 1272.0,267.0 1273.0,267.2 1274.0,267.4 1275.0,267.6 1276.0,267.8 1277.0,268.0 1278.0,267.9 1279.0,267.8 1280.0,267.7 1281.0,267.6 1282.0,267.4 1283.0,267.3 1284.0,267.2 1285.0,267.1" stroke="#cc33cc"/><polyline points="156.0,416.0 157.0,415.0 158.0,415.0 159.0,414.0 160.0,414.0 161.0,413.0 162.0,413.0 163.0,412.0 164.0,412.0 165.0,411.0 166.0,411.0 167.0,410.0 168.0,410.0 169.0,409.0 170.0,409.0 171.0,408.0 172.0,408.0 173.0,407.0 174.0,407.0 175.0,406.0 176.0,406.0 177.0,405.0 178.0,405.0 179.0,404.0 180.0,404.0 181.0,403.0 182.0,403.0 183.0,393.0 184.0,374.0 185.0,374.0 186.0,373.0 187.0,372.0 188.0,372.0 189.0,372.0 190.0,371.0 191.0,371.0 192.0,370.0 193.0,370.0 194.0,370.0 195.0,370.0 196.0,369.0 197.0,369.0 198.0,369.0 199.0,368.0 200.0,368.0 201.0,368.0 202.0,367.0 203.0,367.0 204.0,367.0 205.0,366.0 206.0,366.0 207.0,366.0 208.0,366.0 209.0,365.0 210.0,365.0 211.0,365.0 212.0,365.0 213.0,365.0 214.0,364.0 215.0,364.0 216.0,364.0 217.0,364.0 218.0,364.0 219.0,364.0 220.0,364.0 221.0,364.0 222.0,364.0 223.0,363.0 224.0,363.0 225.0,363.0 226.0,363.0 227.0,363.0 228.0,363.0 229.0,363.0 230.0,362.0 231.0,362.0 232.0,362.0 233.0,362.0 234.0,362.0 235.0,362.0 236.0,362.0 237.0,362.0 238.0,362.0 239.0,361.0 240.0,361.0 241.0,361.0 242.0,361.0 243.0,361.0 244.0,361.0 245.0,361.0 246.0,360.0 247.0,360.0 248.0,360.0 249.0,360.0 250.0,360.0 251.0,360.0 252.0,360.0 253.0,360.0 254.0,360.0 255.0,360.0 256.0,360.0 257.0,360.0 258.0,360.0 259.0,359.0 260.0,359.0 261.0,359.0 262.0,359.0 263.0,359.0 264.0,359.0 265.0,359.0 266.0,359.0 267.0,359.0 268.0,359.0 269.0,359.0 270.0,359.0 271.0,359.0 272.0,359.0 273.0,359.0 274.0,359.0 275.0,358.0 276.0,358.0 277.0,358.0 278.0,358.0 279.0,358.0 280.0,358.0 281.0,358.0 282.0,358.0 283.0,358.0 284.0,358.0 285.0,358.0 286.0,358.0 287.0,358.0 288.0,358.0 289.0,358.0 290.0,358.0 291.0,358.0 292.0,357.0 293.0,357.0 294.0,357.0 295.0,357.0 296.0,357.0 297.0,357.0 298.0,357.0 299.0,357.0 300.0,357.0 301.0,357.0 302.0,357.0 303.0,357.0 304.0,357.0 305.0,357.0 306.0,357.0 307.0,356.0 308.0,356.0 309.0,356.0 310.0,356.0 311.0,356.0 312.0,356.0 313.0,356.0 314.0,356.0 315.0,356.0 316.0,356.0 317.0,356.0 318.0,356.0 319.0,356.0 320.0,356.0 321.0,355.0 322.0,355.0 323.0,355.0 324.0,355.0 325.0,355.0 326.0,355.0 327.0,355.0 328.0,355.0 329.0,355.0 330.0,355.0 331.0,355.0 332.0,355.0 333.0,355.0 334.0,354.0 335.0,354.0 336.0,354.0 337.0,354.0 338.0,354.0 339.0,354.0 340.0,354.0 341.0,354.0 342.0,354.0 343.0,354.0 344.0,354.0 345.0,354.0 346.0,354.0 347.0,353.0 348.0,353.0 349.0,353.0 350.0,353.0 351.0,353.0 352.0,353.0 353.0,353.0 354.0,353.0 355.0,353.0 356.0,353.0 357.0,353.0 358.0,353.0 359.0,353.0 360.0,352.0 361.0,352.0 362.0,352.0 363.0,352.0 364.0,352.0 365.0,352.0 366.0,352.0 367.0,352.0 368.0,352.0 369.0,352.0 370.0,352.0 371.0,352.0 372.0,352.0 373.0,352.0 374.0,351.0 375.0,351.0 376.0,351.0 377.0,351.0 378.0,351.0 379.0,351.0 380.0,351.0 381.0,351.0 382.0,351.0 383.0,350.0 384.0,350.0 385.0,350.0 386.0,350.0 387.0,350.0 388.0,350.0 389.0,350.0 390.0,349.0 391.0,349.0 392.0,349.0 393.0,349.0 394.0,349.0 395.0,348.0 396.0,348.0 397.0,348.0 398.0,348.0 399.0,348.0 400.0,348.0 401.0,348.0 402.0,347.0 403.0,347.0 404.0,347.0 405.0,347.0 406.0,347.0 407.0,346.0 408.0,346.0 409.0,346.0 410.0,346.0 411.0,346.0 412.0,346.0 413.0,346.0 414.0,345.0 415.0,345.0 416.0,345.0 417.0,345.0 418.0,345.0 419.0,344.0 420.0,344.0 421.0,344.0 422.0,344.0 423.0,344.0 424.0,344.0 425.0,344.0 426.0,343.0 427.0,343.0 428.0,343.0 429.0,343.0 430.0,343.0 431.0,342.0 432.0,342.0 433.0,342.0 434.0,342.0 435.0,342.0 436.0,342.0 437.0,342.0 438.0,341.0 439.0,341.0 440.0,341.0 441.0,341.0 442.0,341.0 443.0,341.0 444.0,341.0 445.0,353.0 446.0,365.0 447.0,365.0 448.0,366.0 449.0,366.0 450.0,367.0 451.0,367.0 452.0,368.0 453.0,368.0 454.0,369.0 455.0,369.0 456.0,370.0 457.0,370.0 458.0,371.0 459.0,371.0 460.0,372.0 461.0,372.0 462.0,373.0 463.0,373.0 464.0,374.0 465.0,374.0 466.0,374.0 467.0,374.0 468.0,365.0 469.0,355.0 470.0,346.0 471.0,345.0 472.0,345.0 473.0,344.0 474.0,344.0 475.0,343.0 476.0,342.0 477.0,342.0 478.0,341.0 479.0,341.0 480.0,340.0 481.0,340.0 482.0,340.0 483.0,340.0 484.0,340.0 485.0,339.0 486.0,339.0 487.0,339.0 488.0,339.0 489.0,339.0 490.0,339.0 491.0,339.0 492.0,338.0 493.0,338.0 494.0,338.0 495.0,338.0 496.0,338.0 497.0,338.0 498.0,338.0 499.0,338.0 500.0,338.0 501.0,337.0 502.0,337.0 503.0,337.0 504.0,337.0 505.0,337.0 506.0,337.0 507.0,337.0 508.0,337.0 509.0,336.0 510.0,336.0 511.0,336.0 512.0,336.0 513.0,336.0 514.0,336.0 515.0,336.0 516.0,336.0 517.0,336.0 518.0,335.0 519.0,335.0 520.0,335.0 521.0,335.0 522.0,335.0 523.0,335.0 524.0,335.0 525.0,335.0 526.0,334.0 527.0,334.0 528.0,334.0 529.0,334.0 530.0,334.0 531.0,334.0 532.0,334.0 533.0,334.0 534.0,334.0 535.0,334.0 536.0,334.0 537.0,333.0 538.0,333.0 539.0,333.0 540.0,333.0 541.0,333.0 542.0,333.0 543.0,333.0 544.0,333.0 545.0,333.0 546.0,333.0 547.0,333.0 548.0,333.0 549.0,333.0 550.0,332.0 551.0,332.0 552.0,332.0 553.0,332.0 554.0,332.0 555.0,332.0 556.0,332.0 557.0,332.0 558.0,332.0 559.0,332.0 560.0,332.0 561.0,332.0 562.0,331.0 563.0,331.0 564.0,331.0 565.0,331.0 566.0,331.0 567.0,331.0 568.0,331.0 569.0,330.0 570.0,330.0 571.0,330.0 572.0,330.0 573.0,330.0 574.0,330.0 575.0,330.0 576.0,330.0 577.0,329.0 578.0,329.0 579.0,329.0 580.0,329.0 581.0,329.0 582.0,329.0 583.0,329.0 584.0,329.0 585.0,329.0 586.0,329.0 587.0,329.0 588.0,329.0 589.0,328.0 590.0,328.0 591.0,328.0 592.0,328.0 593.0,328.0 594.0,328.0 595.0,328.0 596.0,328.0 597.0,328.0 598.0,328.0 599.0,328.0 600.0,328.0 601.0,328.0 602.0,328.0 603.0,328.0 604.0,328.0 605.0,328.0 606.0,328.0 607.0,327.0 608.0,327.0 609.0,327.0 610.0,327.0 611.0,327.0 612.0,327.0 613.0,327.0 614.0,327.0 615.0,327.0 616.0,327.0 617.0,327.0 618.0,327.0 619.0,327.0 620.0,327.0 621.0,327.0 622.0,327.0 623.0,326.0 624.0,326.0 625.0,326.0 626.0,326.0 627.0,326.0 628.0,326.0 629.0,326.0 630.0,326.0 631.0,326.0 632.0,326.0 633.0,326.0 634.0,326.0 635.0,326.0 636.0,326.0 637.0,326.0 638.0,325.0 639.0,325.0 640.0,325.0 641.0,325.0 642.0,325.0 643.0,325.0 644.0,325.0 645.0,325.0 646.0,325.0 647.0,325.0 648.0,325.0 649.0,325.0 650.0,325.0 651.0,325.0 652.0,325.0 653.0,324.0 654.0,324.0 655.0,324.0 656.0,324.0 657.0,324.0 658.0,324.0 659.0,324.0 660.0,324.0 661.0,324.0 662.0,324.0 663.0,324.0 664.0,324.0 665.0,324.0 666.0,324.0 667.0,324.0 668.0,324.0 669.0,324.0 670.0,324.0 671.0,323.0 672.0,323.0 673.0,323.0 674.0,323.0 675.0,323.0 676.0,323.0 677.0,323.0 678.0,323.0 679.0,323.0 680.0,323.0 681.0,323.0 682.0,323.0 683.0,323.0 684.0,323.0 685.0,323.0 686.0,323.0 687.0,323.0 688.0,323.0 689.0,323.0 690.0,322.0 691.0,322.0 692.0,322.0 693.0,322.0 694.0,322.0 695.0,322.0 696.0,322.0 697.0,322.0 698.0,322.0 699.0,322.0 700.0,322.0 701.0,322.0 702.0,322.0 703.0,322.0 704.0,322.0 705.0,322.0 706.0,322.0 707.0,322.0 708.0,322.0 709.0,322.0 710.0,322.0 711.0,321.0 712.0,321.0 713.0,321.0 714.0,321.0 715.0,321.0 716.0,321.0 717.0,321.0 718.0,321.0 719.0,321.0 720.0,321.0 721.0,321.0 722.0,321.0 723.0,321.0 724.0,321.0 725.0,321.0 726.0,321.0 727.0,321.0 728.0,321.0 729.0,321.0 730.0,320.0 731.0,320.0 732.0,320.0 733.0,320.0 734.0,320.0 735.0,320.0 736.0,320.0 737.0,320.0 738.0,320.0 739.0,320.0 740.0,320.0 741.0,320.0 742.0,320.0 743.0,320.0 744.0,320.0 745.0,320.0 746.0,320.0 747.0,320.0 748.0,320.0 749.0,320.0 750.0,320.0 751.0,319.0 752.0,319.0 753.0,319.0 754.0,319.0 755.0,319.0 756.0,319.0 757.0,319.0 758.0,319.0 759.0,319.0 760.0,319.0 761.0,319.0 762.0,319.0 763.0,319.0 764.0,319.0 765.0,318.0 766.0,318.0 767.0,318.0 768.0,318.0 769.0,318.0 770.0,318.0 771.0,318.0 772.0,318.0 773.0,318.0 774.0,318.0 775.0,318.0 776.0,317.0 777.0,317.0 778.0,317.0 779.0,317.0 780.0,317.0 781.0,317.0 782.0,317.0 783.0,317.0 784.0,317.0 785.0,316.0 786.0,316.0 787.0,316.0 788.0,316.0 789.0,316.0 790.0,316.0 791.0,316.0 792.0,316.0 793.0,316.0 794.0,316.0 795.0,316.0 796.0,315.0 797.0,315.0 798.0,315.0 799.0,315.0 800.0,315.0 801.0,315.0 802.0,315.0 803.0,315.0 804.0,315.0 805.0,314.0 806.0,314.0 807.0,314.0 808.0,314.0 809.0,314.0 810.0,314.0 811.0,314.0 812.0,314.0 813.0,314.0 814.0,314.0 815.0,314.0 816.0,313.0 817.0,313.0 818.0,313.0 819.0,313.0 820.0,313.0 821.0,313.0 822.0,313.0 823.0,313.0 824.0,313.0 825.0,312.0 826.0,312.0 827.0,312.0 828.0,312.0 829.0,312.0 830.0,312.0 831.0,312.0 832.0,312.0 833.0,312.0 834.0,312.0 835.0,312.0 836.0,311.0 837.0,311.0 838.0,311.0 839.0,311.0 840.0,311.0 841.0,311.0 842.0,311.0 843.0,311.0 844.0,311.0 845.0,310.0 846.0,310.0 847.0,310.0 848.0,310.0 849.0,310.0 850.0,310.0 851.0,310.0 852.0,310.0 853.0,310.0 854.0,310.0 855.0,310.0 856.0,309.0 857.0,309.0 858.0,309.0 859.0,309.0 860.0,309.0 861.0,309.0 862.0,309.0 863.0,309.0 864.0,309.0 865.0,308.0 866.0,308.0 867.0,308.0 868.0,308.0 869.0,308.0 870.0,308.0 871.0,308.0 872.0,308.0 873.0,308.0 874.0,308.0 875.0,308.0 876.0,307.0 877.0,307.0 878.0,307.0 879.0,307.0 880.0,307.0 881.0,307.0 882.0,307.0 883.0,307.0 884.0,307.0 885.0,306.0 886.0,306.0 887.0,306.0 888.0,306.0 889.0,306.0 890.0,306.0 891.0,306.0 892.0,306.0 893.0,306.0 894.0,306.0 895.0,306.0 896.0,305.0 897.0,305.0 898.0,305.0 899.0,305.0 900.0,305.0 901.0,305.0 902.0,305.0 903.0,305.0 904.0,304.0 905.0,304.0 906.0,304.0 907.0,304.0 908.0,304.0 909.0,304.0 910.0,304.0 911.0,303.0 912.0,303.0 913.0,303.0 914.0,303.0 915.0,303.0 916.0,303.0 917.0,303.0 918.0,302.0 919.0,302.0 920.0,302.0 921.0,302.0 922.0,302.0 923.0,302.0 924.0,302.0 925.0,302.0 926.0,301.0 927.0,301.0 928.0,301.0 929.0,301.0 930.0,301.0 931.0,301.0 932.0,301.0 933.0,300.0 934.0,300.0 935.0,300.0 936.0,300.0 937.0,300.0 938.0,300.0 939.0,300.0 940.0,299.0 941.0,299.0 942.0,299.0 943.0,299.0 944.0,299.0 945.0,299.0 946.0,299.0 947.0,298.0 948.0,298.0 949.0,298.0 950.0,298.0 951.0,298.0 952.0,298.0 953.0,297.0 954.0,297.0 955.0,297.0 956.0,297.0 957.0,297.0 958.0,297.0 959.0,296.0 960.0,296.0 961.0,296.0 962.0,296.0 963.0,296.0 964.0,295.0 965.0,295.0 966.0,295.0 967.0,295.0 968.0,295.0 969.0,295.0 970.0,294.0 971.0,294.0 972.0,294.0 973.0,294.0 974.0,294.0 975.0,294.0 976.0,293.0 977.0,293.0 978.0,293.0 979.0,293.0 980.0,293.0 981.0,292.0 982.0,292.0 983.0,292.0 984.0,292.0 985.0,292.0 986.0,292.0 987.0,291.0 988.0,291.0 989.0,291.0 990.0,291.0 991.0,291.0 992.0,290.0 993.0,290.0 994.0,290.0 995.0,290.0 996.0,290.0 997.0,290.0 998.0,289.0 999.0,289.0 1000.0,289.0 1001.0,288.0 1002.0,287.0 1003.0,286.0 1004.0,286.0 1005.0,285.0 1006.0,284.0 1007.0,283.0 1008.0,282.0 1009.0,281.0 1010.0,280.0 1011.0,280.0 1012.0,279.0 1013.0,278.0 1014.0,277.0 1015.0,276.0 1016.0,275.0 1017.0,274.0 1018.0,274.0 1019.0,273.0 1020.0,272.0 1021.0,271.0 1022.0,280.0 1023.0,290.0 1024.0,293.0 1025.0,297.0 1026.0,300.0 1027.0,302.0 1028.0,304.0 1029.0,306.0 1030.0,308.0 1031.0,309.0 1032.0,311.0 1033.0,312.0 1034.0,314.0 1035.0,315.0 1036.0,316.0 1037.0,317.0 1038.0,318.0 1039.0,320.0 1040.0,321.0 1041.0,322.0 1042.0,323.0 1043.0,323.0 1044.0,322.0 1045.0,322.0 1046.0,315.0 1047.0,308.0 1048.0,300.0 1049.0,293.0 1050.0,286.0 1051.0,278.0 1052.0,271.0 1053.0,264.0 1054.0,257.0 1055.0,250.0 1056.0,242.0 1057.0,235.0 1058.0,235.0 1059.0,235.0 1060.0,235.0 1061.0,234.0 1062.0,234.0 1063.0,234.0 1064.0,234.0 1065.0,234.0 1066.0,234.0 1067.0,234.0 1068.0,233.0 1069.0,233.0 1070.0,233.0 1071.0,233.0 1072.0,233.0 1073.0,233.0 1074.0,233.0 1075.0,232.0 1076.0,232.0 1077.0,232.0 1078.0,232.0 1079.0,232.0 1080.0,232.0 1081.0,232.0 1082.0,232.0 1083.0,231.0 1084.0,231.0 1085.0,231.0 1086.0,231.0 1087.0,231.0 1088.0,231.0 1089.0,231.0 1090.0,230.0 1091.0,230.0 1092.0,230.0 1093.0,230.0 1094.0,230.0 1095.0,230.0 1096.0,230.0 1097.0,229.0 1098.0,229.0 1099.0,229.0 1100.0,229.0 1101.0,229.0 1102.0,229.0 1103.0,229.0 1104.0,228.0 1105.0,228.0 1106.0,228.0 1107.0,228.0 1108.0,228.0 1109.0,228.0 1110.0,228.0 1111.0,228.0 1112.0,227.0 1113.0,227.0 1114.0,227.0 1115.0,227.0 1116.0,227.0 1117.0,227.0 1118.0,227.0 1119.0,226.0 1120.0,226.0 1121.0,226.0 1122.0,226.0 1123.0,226.0 1124.0,226.0 1125.0,226.0 1126.0,225.0 1127.0,225.0 1128.0,225.0 1129.0,225.0 1130.0,225.0 1131.0,225.0 1132.0,225.0 1133.0,225.0 1134.0,224.0 1135.0,224.0 1136.0,224.0 1137.0,224.0 1138.0,226.0 1139.0,228.0 1140.0,229.0 1141.0,231.0 1142.0,232.0 1143.0,233.0 1144.0,233.0 1145.0,234.0 1146.0,235.0 1147.0,236.0 1148.0,236.0 1149.0,237.0 1150.0,238.0 1151.0,239.0 1152.0,239.0 1153.0,240.0 1154.0,241.0 1155.0,241.0 1156.0,242.0 1157.0,243.0 1158.0,244.0 1159.0,244.0 1160.0,245.0 1161.0,246.0 1162.0,246.0 1163.0,247.0 1164.0,247.0 1165.0,248.0 1166.0,248.0 1167.0,248.0 1168.0,248.0 1169.0,249.0 1170.0,249.0 1171.0,249.0 1172.0,250.0 1173.0,250.0 1174.0,250.0 1175.0,251.0 1176.0,251.0 1177.0,251.0 1178.0,252.0 1179.0,252.0 1180.0,252.0 1181.0,252.0 1182.0,253.0 1183.0,253.0 1184.0,253.0 1185.0,253.0 1186.0,254.0 1187.0,254.0 1188.0,254.0 1189.0,254.0 1190.0,254.0 1191.0,254.0 1192.0,254.0 1193.0,255.0 1194.0,255.0 1195.0,255.0 1196.0,255.0 1197.0,255.0 1198.0,256.0 1199.0,256.0 1200.0,256.0 1201.0,256.0 1202.0,256.0 1203.0,256.0 1204.0,256.0 1205.0,257.0 1206.0,257.0 1207.0,257.0 1208.0,257.0 1209.0,257.0 1210.0,257.0 1211.0,258.0 1212.0,258.0 1213.0,258.0 1214.0,258.0 1215.0,258.0 1216.0,258.0 1217.0,258.0 1218.0,259.0 1219.0,259.0 1220.0,259.0 1221.0,259.0 1222.0,259.0 1223.0,259.0 1224.0,259.0 1225.0,260.0 1226.0,260.0 1227.0,260.0 1228.0,260.0 1229.0,260.0 1230.0,260.0 1231.0,260.0 1232.0,260.0 1233.0,261.0 1234.0,261.0 1235.0,261.0 1236.0,261.0 1237.0,261.0 1238.0,261.0 1239.0,261.0 1240.0,262.0 1241.0,262.0 1242.0,262.0 1243.0,262.0 1244.0,262.0 1245.0,262.0 1246.0,262.0 1247.0,262.0 1248.0,262.0 1249.0,262.0 1250.0,262.0 1251.0,263.0 1252.0,263.0 1253.0,263.0 1254.0,263.0 1255.0,263.0 1256.0,263.0 1257.0,263.0 1258.0,263.0 1259.0,263.0 1260.0,263.0 1261.0,263.0 1262.0,263.0 1263.0,263.0 1264.0,263.0 1265.0,264.0 1266.0,264.0 1267.0,264.0 1268.0,264.0 1269.0,264.0 1270.0,264.0 1271.0,264.0 1272.0,264.0 1273.0,264.0 1274.0,264.0 1275.0,264.0 1276.0,264.0 1277.0,264.0 1278.0,264.0 1279.0,265.0 1280.0,265.0 1281.0,265.0 1282.0,265.0 1283.0,265.0 1284.0,265.0 1285.0,265.0" stroke="#6c0e0a" stroke-width="1.5"/></g><g fill="none" stroke-width="1" shape-rendering="crispEdges"><path d="M156.5 415.4V417.4M157.5 414.6V416.7M158.5 415.5V416.2M159.5 415.2V415.6M160.5 414.7V415.1M161.5 413.9V414.6M162.5 413.6V414.6M163.5 412.3V413.6M164.5 411.0V413.0M165.5 409.5V413.4M166.5 411.4V412.0M167.5 411.1V411.5M168.5 410.5V411.0M169.5 408.6V411.0M170.5 409.5V409.9M171.5 408.9V410.7M172.5 408.5V413.5M173.5 405.0V408.4M174.5 406.6V407.8M175.5 406.9V407.3M176.5 406.4V409.3M177.5 405.3V406.3M178.5 404.0V405.8M179.5 404.8V405.4M180.5 402.9V404.7M181.5 403.7V404.4M182.5 402.1V404.2M183.5 396.7V397.9M184.5 381.6V385.6M185.5 383.2V385.2M186.5 371.3V385.1M187.5 381.5V383.5M188.5 375.2V384.0M189.5 379.0V385.2M190.5 379.0V381.0M191.5 378.8V380.8M192.5 378.6V380.6M193.5 371.3V380.4M194.5 377.3V380.2M195.5 375.3V380.0M196.5 377.8V381.3M197.5 377.2V379.6M198.5 366.7V381.2M199.5 377.2V379.2M200.5 375.5V379.0M201.5 372.5V381.3M202.5 374.5V378.6M203.5 375.6V378.4M204.5 373.7V385.2M205.5 375.1V378.0M206.5 372.9V377.8M207.5 375.6V377.6M208.5 364.4V377.4M209.5 375.2V377.2M210.5 373.4V377.0M211.5 373.4V376.8M212.5 374.6V376.6M213.5 374.1V376.5M214.5 368.9V376.3M215.5 365.5V382.7M216.5 373.9V375.9M217.5 373.8V375.8M218.5 372.5V382.6M219.5 372.0V377.5M220.5 371.2V375.2M221.5 373.1V382.1M222.5 367.6V374.9M223.5 361.7V374.7M224.5 368.7V374.6M225.5 370.0V381.4M226.5 362.5V374.2M227.5 372.0V381.0M228.5 371.9V373.9M229.5 369.8V373.7M230.5 371.5V378.1M231.5 360.3V373.3M232.5 360.1V373.1M233.5 367.9V373.0M234.5 364.9V372.8M235.5 370.6V379.6M236.5 367.0V379.4M237.5 364.2V377.6M238.5 370.1V373.2M239.5 367.1V371.9M240.5 368.5V378.8M241.5 368.2V376.2M242.5 369.4V371.4M243.5 358.2V374.1M244.5 369.1V371.1M245.5 368.9V370.9M246.5 365.5V370.7M247.5 368.5V373.7M248.5 359.8V374.6M249.5 357.4V370.2M250.5 368.0V370.0M251.5 367.9V369.9M252.5 367.8V369.8M253.5 361.7V373.2M254.5 362.9V369.7M255.5 367.6V375.7M256.5 367.4V372.2M257.5 366.7V369.4M258.5 365.6V369.7M259.5 366.8V371.7M260.5 361.5V369.2M261.5 367.1V369.1M262.5 367.0V373.7M263.5 356.4V373.7M264.5 355.9V368.9M265.5 363.0V371.6M266.5 361.4V368.7M267.5 366.4V368.6M268.5 355.6V374.6M269.5 363.2V372.5M270.5 363.7V368.4M271.5 366.3V368.3M272.5 359.5V368.2M273.5 366.1V374.9M274.5 366.1V368.1M275.5 355.0V368.6M276.5 361.5V367.9M277.5 365.8V367.8M278.5 361.1V374.8M279.5 365.7V367.7M280.5 361.3V367.6M281.5 365.5V374.5M282.5 365.4V367.4M283.5 358.4V367.4M284.5 363.7V367.3M285.5 365.2V368.1M286.5 362.5V367.1M287.5 362.1V367.0M288.5 362.5V374.0M289.5 362.1V366.9M290.5 361.7V367.2M291.5 358.2V366.7M292.5 364.6V373.6M293.5 362.5V366.6M294.5 364.5V366.5M295.5 357.8V366.4M296.5 363.4V366.3M297.5 360.2V368.6M298.5 353.9V366.2M299.5 356.9V373.1M300.5 353.4V373.0M301.5 363.9V365.9M302.5 363.3V365.9M303.5 363.8V365.8M304.5 357.6V372.7M305.5 363.6V365.6M306.5 359.0V365.6M307.5 363.0V366.7M308.5 358.7V365.4M309.5 358.7V365.3M310.5 363.2V365.2M311.5 363.2V365.2M312.5 361.9V365.1M313.5 362.4V370.7M314.5 359.7V364.9M315.5 361.2V364.9M316.5 362.8V371.2M317.5 351.9V368.0M318.5 360.4V371.3M319.5 351.6V364.6M320.5 354.1V364.5M321.5 351.4V364.4M322.5 361.3V370.3M323.5 362.3V364.3M324.5 351.2V365.9M325.5 362.1V364.1M326.5 362.1V364.1M327.5 359.6V364.6M328.5 361.2V363.9M329.5 353.9V363.8M330.5 361.8V363.8M331.5 361.7V363.7M332.5 358.6V363.6M333.5 361.5V363.5M334.5 354.0V363.4M335.5 361.4V363.4M336.5 361.3V363.3M337.5 359.4V363.2M338.5 357.4V366.1M339.5 358.3V363.1M340.5 358.4V366.5M341.5 357.7V365.9M342.5 358.3V369.9M343.5 357.2V362.8M344.5 355.2V362.7M345.5 354.6V362.6M346.5 360.6V362.6M347.5 360.5V364.6M348.5 360.4V362.4M349.5 360.3V367.8M350.5 353.2V362.2M351.5 349.2V362.2M352.5 349.1V362.1M353.5 359.0V369.0M354.5 359.1V361.9M355.5 350.7V361.9M356.5 354.9V361.8M357.5 359.7V362.5M358.5 359.6V361.6M359.5 359.5V361.9M360.5 350.5V361.9M361.5 348.4V361.4M362.5 359.4V361.4M363.5 348.6V367.3M364.5 359.2V366.4M365.5 358.4V367.0M366.5 359.1V361.1M367.5 358.8V364.8M368.5 352.2V360.9M369.5 358.8V360.8M370.5 348.0V360.8M371.5 358.7V361.3M372.5 347.6V360.6M373.5 356.1V360.5M374.5 355.7V360.4M375.5 358.4V360.4M376.5 355.8V360.3M377.5 357.3V363.2M378.5 354.0V360.1M379.5 355.9V360.1M380.5 355.7V362.7M381.5 357.9V359.9M382.5 357.7V366.7M383.5 357.6V359.6M384.5 355.4V359.5M385.5 351.6V359.3M386.5 357.2V359.2M387.5 357.1V362.9M388.5 353.3V358.9M389.5 356.8V358.8M390.5 356.7V360.5M391.5 356.5V359.1M392.5 356.4V358.4M393.5 352.7V358.3M394.5 345.1V358.1M395.5 354.0V358.0M396.5 347.1V357.9M397.5 355.7V358.4M398.5 344.6V357.6M399.5 344.5V357.5M400.5 348.3V364.3M401.5 354.7V360.7M402.5 355.1V357.1M403.5 354.9V356.9M404.5 354.8V356.8M405.5 349.8V356.7M406.5 352.6V356.5M407.5 350.4V358.2M408.5 351.6V363.3M409.5 353.0V356.3M410.5 353.5V356.0M411.5 347.3V355.9M412.5 353.7V355.7M413.5 351.2V358.1M414.5 348.0V355.5M415.5 348.9V355.3M416.5 353.2V359.5M417.5 351.3V355.1M418.5 343.6V354.9M419.5 352.8V355.8M420.5 352.7V357.3M421.5 352.5V360.2M422.5 350.7V355.6M423.5 350.5V354.3M424.5 351.8V354.8M425.5 352.0V361.0M426.5 351.9V353.9M427.5 351.2V353.7M428.5 343.6V353.6M429.5 348.0V358.6M430.5 345.5V353.3M431.5 351.2V353.2M432.5 346.2V353.8M433.5 350.9V352.9M434.5 350.8V352.8M435.5 350.7V356.4M436.5 350.5V356.0M437.5 344.8V355.3M438.5 342.9V352.3M439.5 350.1V352.1M440.5 349.2V352.0M441.5 343.8V351.8M442.5 338.5V358.5M443.5 349.2V351.2M444.5 349.0V351.0M445.5 358.0V360.0M446.5 356.1V371.9M447.5 366.9V369.3M448.5 357.3V369.6M449.5 366.3V369.9M450.5 357.3V372.7M451.5 368.6V377.0M452.5 363.5V377.9M453.5 369.2V375.0M454.5 369.5V371.5M455.5 363.0V371.8M456.5 369.8V376.9M457.5 370.5V372.5M458.5 364.1V372.8M459.5 362.8V373.1M460.5 363.1V373.4M461.5 363.7V373.7M462.5 371.3V374.1M463.5 361.4V374.4M464.5 372.5V374.7M465.5 373.0V375.0M466.5 370.9V375.0M467.5 371.8V375.0M468.5 364.3V367.0M469.5 357.0V359.0M470.5 343.8V351.9M471.5 343.8V352.3M472.5 346.5V354.7M473.5 341.8V350.4M474.5 337.2V350.2M475.5 348.0V350.8M476.5 338.2V349.8M477.5 336.6V351.6M478.5 347.4V349.4M479.5 344.7V356.2M480.5 346.6V349.0M481.5 346.8V349.9M482.5 346.6V348.9M483.5 345.0V348.4M484.5 346.2V348.2M485.5 346.0V354.7M486.5 339.8V351.2M487.5 340.4V351.9M488.5 341.2V347.4M489.5 345.2V354.2M490.5 345.0V347.0M491.5 342.5V346.9M492.5 344.9V346.9M493.5 337.6V346.8M494.5 342.4V346.7M495.5 343.4V346.7M496.5 343.9V346.6M497.5 333.5V346.5M498.5 340.0V350.6M499.5 333.4V352.3M500.5 343.4V353.3M501.5 344.3V348.4M502.5 343.3V346.2M503.5 343.4V346.1M504.5 344.1V346.1M505.5 343.5V346.0M506.5 337.6V345.9M507.5 332.9V345.9M508.5 332.8V345.8M509.5 343.7V345.7M510.5 334.3V345.7M511.5 343.6V352.6M512.5 342.5V345.5M513.5 342.3V346.2M514.5 335.1V348.4M515.5 340.0V345.7M516.5 343.3V345.3M517.5 342.4V347.2M518.5 342.5V345.1M519.5 332.1V345.1M520.5 343.0V345.0M521.5 342.9V344.9M522.5 340.6V346.2M523.5 331.9V351.9M524.5 332.9V345.5M525.5 340.1V345.3M526.5 342.7V350.8M527.5 333.1V348.2M528.5 342.6V348.5M529.5 338.5V344.6M530.5 342.4V344.5M531.5 340.1V347.2M532.5 337.5V344.4M533.5 331.4V351.4M534.5 342.3V344.3M535.5 338.2V344.2M536.5 338.6V344.9M537.5 339.4V344.1M538.5 341.0V347.3M539.5 339.3V344.1M540.5 340.8V350.2M541.5 340.7V343.9M542.5 333.5V343.9M543.5 340.2V343.9M544.5 336.9V343.8M545.5 330.8V343.8M546.5 334.9V347.9M547.5 341.6V343.6M548.5 341.0V345.3M549.5 335.6V343.6M550.5 336.9V343.5M551.5 341.4V343.4M552.5 340.7V343.4M553.5 340.9V343.4M554.5 330.3V343.3M555.5 338.4V343.9M556.5 337.2V343.2M557.5 340.6V343.1M558.5 341.1V349.5M559.5 337.0V347.2M560.5 341.0V343.0M561.5 337.1V344.1M562.5 338.6V342.9M563.5 340.8V342.8M564.5 340.7V349.7M565.5 340.6V342.6M566.5 340.2V349.6M567.5 330.3V342.5M568.5 333.8V342.7M569.5 338.9V346.9M570.5 337.5V342.2M571.5 340.2V342.2M572.5 329.1V345.2M573.5 329.0V342.0M574.5 339.9V341.9M575.5 328.9V341.9M576.5 339.0V348.8M577.5 335.8V343.8M578.5 339.2V344.0M579.5 339.6V343.3M580.5 337.4V342.9M581.5 333.3V341.4M582.5 339.4V341.8M583.5 339.3V341.3M584.5 328.2V341.2M585.5 328.1V341.1M586.5 339.1V341.1M587.5 338.9V343.8M588.5 328.7V342.3M589.5 338.1V340.8M590.5 338.6V342.8M591.5 335.5V340.7M592.5 338.6V345.3M593.5 338.5V340.5M594.5 337.8V340.4M595.5 330.3V340.4M596.5 338.3V340.3M597.5 327.2V346.6M598.5 338.1V340.1M599.5 336.6V347.1M600.5 338.0V346.1M601.5 328.3V339.9M602.5 337.9V339.9M603.5 334.4V339.8M604.5 333.5V339.7M605.5 331.8V340.7M606.5 334.7V339.6M607.5 337.5V340.0M608.5 337.4V339.4M609.5 337.3V339.3M610.5 333.5V343.3M611.5 337.2V342.8M612.5 326.1V339.1M613.5 336.0V339.0M614.5 336.9V345.9M615.5 336.9V338.9M616.5 336.8V340.3M617.5 336.7V338.7M618.5 334.3V338.6M619.5 336.6V345.4M620.5 329.5V338.5M621.5 336.4V345.4M622.5 336.4V338.4M623.5 334.0V338.3M624.5 333.5V338.2M625.5 329.3V338.1M626.5 336.1V338.1M627.5 336.0V338.0M628.5 335.7V337.9M629.5 335.0V337.9M630.5 331.6V344.8M631.5 331.0V337.7M632.5 324.6V342.5M633.5 335.5V344.5M634.5 332.7V337.4M635.5 332.8V337.4M636.5 335.3V337.3M637.5 333.8V337.2M638.5 324.1V337.1M639.5 335.1V338.9M640.5 333.0V343.8M641.5 335.0V337.7M642.5 323.9V336.9M643.5 332.0V336.9M644.5 332.9V336.9M645.5 333.6V336.8M646.5 332.4V340.0M647.5 334.8V339.8M648.5 330.2V336.7M649.5 334.7V336.7M650.5 328.2V336.8M651.5 334.6V336.6M652.5 334.6V336.6M653.5 333.4V336.6M654.5 334.5V336.5M655.5 334.5V336.5M656.5 323.5V336.8M657.5 327.0V340.1M658.5 334.4V336.4M659.5 332.2V336.4M660.5 330.5V336.7M661.5 334.3V338.7M662.5 334.3V336.3M663.5 329.5V336.2M664.5 330.4V336.2M665.5 334.2V339.6M666.5 332.5V336.5M667.5 333.8V337.8M668.5 331.4V336.1M669.5 334.0V336.0M670.5 332.1V336.0M671.5 334.0V336.4M672.5 322.9V340.4M673.5 331.2V335.9M674.5 332.5V336.4M675.5 333.8V335.8M676.5 328.4V336.6M677.5 333.8V335.8M678.5 333.7V335.7M679.5 332.3V335.7M680.5 329.1V335.7M681.5 324.0V335.6M682.5 333.0V339.5M683.5 329.2V335.6M684.5 333.5V335.5M685.5 333.5V335.5M686.5 333.3V336.3M687.5 333.3V335.4M688.5 329.0V338.1M689.5 322.4V342.2M690.5 333.3V335.3M691.5 333.3V335.3M692.5 333.3V339.7M693.5 322.2V335.2M694.5 333.2V335.2M695.5 332.1V335.2M696.5 332.0V341.9M697.5 331.3V342.1M698.5 328.7V335.7M699.5 332.9V335.6M700.5 324.7V338.9M701.5 332.9V334.9M702.5 332.9V334.9M703.5 331.8V334.8M704.5 332.7V334.7M705.5 330.7V336.6M706.5 330.8V335.0M707.5 326.7V336.5M708.5 328.8V334.5M709.5 329.2V334.4M710.5 329.2V334.3M711.5 322.3V334.3M712.5 324.7V334.2M713.5 328.7V338.3M714.5 321.1V334.1M715.5 326.4V334.0M716.5 320.9V334.0M717.5 331.9V340.2M718.5 331.8V335.5M719.5 322.3V333.7M720.5 331.4V333.7M721.5 331.1V333.6M722.5 329.1V333.5M723.5 326.9V333.5M724.5 331.4V340.0M725.5 329.7V333.3M726.5 331.3V337.3M727.5 324.3V333.2M728.5 330.6V333.6M729.5 329.8V337.1M730.5 331.0V333.0M731.5 330.9V332.9M732.5 330.9V333.4M733.5 328.6V332.8M734.5 319.7V334.8M735.5 330.7V335.7M736.5 328.5V332.6M737.5 329.3V332.5M738.5 329.0V332.5M739.5 322.8V336.0M740.5 322.6V332.3M741.5 319.3V339.2M742.5 330.2V332.3M743.5 324.8V332.1M744.5 326.6V332.1M745.5 330.0V332.0M746.5 329.3V331.9M747.5 329.9V334.0M748.5 321.4V331.8M749.5 327.5V334.4M750.5 321.8V331.7M751.5 329.6V332.0M752.5 325.5V333.5M753.5 329.5V338.5M754.5 324.5V331.4M755.5 329.3V331.3M756.5 329.3V331.3M757.5 329.2V338.2M758.5 329.0V331.1M759.5 329.1V331.1M760.5 329.0V331.0M761.5 328.9V330.9M762.5 328.9V330.9M763.5 323.5V330.8M764.5 327.7V335.0M765.5 328.6V330.6M766.5 328.6V330.6M767.5 327.3V330.5M768.5 328.4V330.4M769.5 328.3V330.4M770.5 327.2V335.1M771.5 328.2V337.2M772.5 324.2V330.1M773.5 327.0V330.0M774.5 327.9V329.9M775.5 327.9V329.9M776.5 325.7V329.8M777.5 326.8V329.7M778.5 327.6V335.0M779.5 327.1V329.6M780.5 327.3V329.5M781.5 317.8V332.8M782.5 320.4V329.4M783.5 326.8V329.3M784.5 327.2V329.2M785.5 317.1V329.1M786.5 326.3V332.0M787.5 316.4V329.0M788.5 326.1V332.2M789.5 326.8V330.5M790.5 326.0V330.8M791.5 326.7V332.2M792.5 326.6V335.6M793.5 324.4V328.5M794.5 321.1V328.4M795.5 326.3V328.4M796.5 326.3V328.3M797.5 318.3V328.2M798.5 326.0V328.1M799.5 326.0V330.8M800.5 326.0V328.6M801.5 322.5V327.9M802.5 325.8V331.6M803.5 325.7V327.8M804.5 325.7V327.7M805.5 319.8V327.6M806.5 319.7V327.5M807.5 325.4V331.0M808.5 316.2V327.4M809.5 323.9V327.3M810.5 323.4V329.7M811.5 322.5V328.6M812.5 323.9V332.8M813.5 321.3V327.0M814.5 322.0V326.9M815.5 324.8V326.8M816.5 322.8V326.7M817.5 321.8V326.6M818.5 324.6V326.9M819.5 324.5V326.5M820.5 320.9V326.4M821.5 321.1V326.3M822.5 324.2V333.2M823.5 324.2V326.2M824.5 324.1V327.4M825.5 322.3V327.7M826.5 319.1V330.4M827.5 323.8V325.8M828.5 323.8V331.5M829.5 323.2V331.6M830.5 319.0V325.6M831.5 314.1V325.5M832.5 320.9V325.4M833.5 321.5V326.7M834.5 322.0V325.3M835.5 322.6V326.4M836.5 322.5V325.1M837.5 319.6V325.0M838.5 323.0V325.0M839.5 322.9V324.9M840.5 322.8V324.8M841.5 319.2V324.7M842.5 322.6V324.6M843.5 322.6V324.6M844.5 317.9V324.5M845.5 313.8V331.4M846.5 319.4V324.3M847.5 319.9V329.2M848.5 320.8V326.1M849.5 322.1V324.1M850.5 322.0V324.0M851.5 320.9V323.9M852.5 321.8V326.4M853.5 321.6V323.6M854.5 318.7V323.5M855.5 319.3V323.4M856.5 321.3V323.3M857.5 310.8V323.2M858.5 321.0V327.9M859.5 320.9V322.9M860.5 319.1V322.8M861.5 320.7V324.8M862.5 318.8V327.3M863.5 320.0V322.4M864.5 317.1V326.0M865.5 311.9V322.2M866.5 318.2V322.1M867.5 320.0V322.0M868.5 318.4V321.8M869.5 318.4V322.5M870.5 315.6V321.6M871.5 319.5V321.5M872.5 318.1V322.0M873.5 318.2V321.9M874.5 318.8V321.1M875.5 311.4V328.0M876.5 318.7V323.7M877.5 318.8V320.8M878.5 318.6V321.8M879.5 318.5V327.5M880.5 318.4V324.2M881.5 318.3V320.3M882.5 318.2V320.9M883.5 318.0V321.1M884.5 317.9V319.9M885.5 317.8V319.8M886.5 317.7V322.3M887.5 313.2V320.2M888.5 317.4V319.4M889.5 317.3V320.5M890.5 310.5V319.2M891.5 317.1V319.1M892.5 317.0V319.0M893.5 316.8V323.6M894.5 310.1V318.7M895.5 314.7V318.6M896.5 316.2V318.5M897.5 315.0V325.4M898.5 313.6V318.2M899.5 314.0V318.1M900.5 314.0V318.0M901.5 311.6V317.9M902.5 315.1V317.7M903.5 315.6V317.6M904.5 314.3V317.4M905.5 312.2V323.2M906.5 308.9V322.8M907.5 314.3V322.0M908.5 314.4V323.8M909.5 313.4V323.1M910.5 314.3V316.5M911.5 313.1V316.4M912.5 309.6V316.2M913.5 313.4V319.2M914.5 308.9V315.9M915.5 310.7V315.8M916.5 312.7V315.6M917.5 311.7V315.4M918.5 313.3V315.3M919.5 305.9V318.1M920.5 313.0V322.0M921.5 303.2V321.9M922.5 312.7V319.5M923.5 307.7V315.8M924.5 304.9V314.4M925.5 306.4V315.6M926.5 310.4V314.1M927.5 311.3V317.2M928.5 311.2V313.8M929.5 309.3V316.3M930.5 311.5V313.5M931.5 311.4V314.4M932.5 311.2V313.2M933.5 311.1V313.1M934.5 309.9V314.0M935.5 310.8V312.8M936.5 306.8V312.6M937.5 302.3V312.4M938.5 308.5V312.3M939.5 307.3V312.1M940.5 308.4V312.0M941.5 308.2V311.8M942.5 304.0V312.7M943.5 304.1V311.3M944.5 309.1V311.1M945.5 305.3V317.8M946.5 308.2V311.5M947.5 308.4V314.5M948.5 308.1V310.1M949.5 307.4V312.2M950.5 307.7V309.7M951.5 307.4V311.3M952.5 306.9V309.2M953.5 307.0V309.0M954.5 306.7V308.7M955.5 306.5V308.5M956.5 306.3V308.3M957.5 306.0V308.0M958.5 305.8V307.8M959.5 304.8V307.6M960.5 304.0V307.3M961.5 305.0V307.1M962.5 299.8V311.6M963.5 294.6V313.6M964.5 301.8V306.4M965.5 298.2V306.2M966.5 303.2V312.9M967.5 303.7V307.4M968.5 295.1V305.9M969.5 303.2V305.2M970.5 303.0V305.0M971.5 302.6V304.6M972.5 301.2V305.0M973.5 296.4V310.9M974.5 301.5V303.5M975.5 299.4V303.2M976.5 300.8V307.7M977.5 300.4V302.4M978.5 299.8V307.9M979.5 292.6V308.5M980.5 296.3V304.1M981.5 298.7V302.4M982.5 295.5V303.5M983.5 298.0V300.2M984.5 289.6V299.9M985.5 296.1V299.5M986.5 297.1V306.1M987.5 296.8V298.8M988.5 293.8V298.4M989.5 288.0V298.0M990.5 293.2V297.7M991.5 291.1V297.3M992.5 292.7V296.9M993.5 294.6V296.6M994.5 294.2V303.2M995.5 293.8V296.8M996.5 291.1V300.1M997.5 293.1V296.8M998.5 292.0V294.7M999.5 292.4V294.4M1000.5 290.7V294.0M1001.5 289.7V294.5M1002.5 289.0V292.7M1003.5 290.5V291.6M1004.5 290.2V291.0M1005.5 289.1V290.4M1006.5 287.3V291.0M1007.5 287.8V290.7M1008.5 287.5V289.4M1009.5 286.3V288.3M1010.5 286.0V292.8M1011.5 284.0V287.2M1012.5 281.5V286.6M1013.5 283.8V285.0M1014.5 279.6V284.2M1015.5 280.6V283.4M1016.5 281.6V288.6M1017.5 281.0V281.8M1018.5 280.2V281.0M1019.5 277.5V280.2M1020.5 278.0V279.4M1021.5 279.2V280.1M1022.5 282.9V283.7M1023.5 289.6V290.4M1024.5 290.5V295.6M1025.5 295.9V297.1M1026.5 299.3V300.4M1027.5 301.1V302.4M1028.5 301.1V307.1M1029.5 305.6V306.4M1030.5 307.6V308.4M1031.5 308.1V312.1M1032.5 309.6V311.2M1033.5 311.7V312.6M1034.5 312.3V314.0M1035.5 313.5V315.8M1036.5 313.5V316.5M1037.5 316.4V317.7M1038.5 317.9V318.8M1039.5 318.6V320.0M1040.5 320.2V321.1M1041.5 321.5V322.3M1042.5 322.5V324.1M1043.5 319.5V323.9M1044.5 321.0V323.0M1045.5 321.6V322.9M1046.5 313.4V315.7M1047.5 305.9V307.2M1048.5 296.9V299.6M1049.5 290.9V292.1M1050.5 283.3V285.0M1051.5 276.1V276.9M1052.5 268.5V269.3M1053.5 259.4V268.2M1054.5 253.3V254.2M1055.5 244.5V246.6M1056.5 235.7V239.0M1057.5 229.4V231.6M1058.5 229.5V231.2M1059.5 229.9V230.9M1060.5 224.0V230.7M1061.5 224.9V231.1M1062.5 228.2V230.1M1063.5 226.9V229.8M1064.5 225.9V230.5M1065.5 226.6V229.3M1066.5 228.0V229.0M1067.5 225.9V229.5M1068.5 225.2V228.4M1069.5 225.7V228.2M1070.5 226.7V227.9M1071.5 226.5V228.5M1072.5 226.0V227.3M1073.5 225.2V227.0M1074.5 225.5V230.8M1075.5 223.3V226.5M1076.5 225.2V226.2M1077.5 224.9V229.5M1078.5 224.6V228.5M1079.5 222.1V230.0M1080.5 223.4V225.1M1081.5 220.4V224.8M1082.5 223.5V224.5M1083.5 223.2V224.4M1084.5 219.6V224.0M1085.5 222.3V223.7M1086.5 222.3V224.3M1087.5 221.8V223.1M1088.5 217.1V222.8M1089.5 221.0V222.6M1090.5 219.6V222.3M1091.5 220.2V222.6M1092.5 220.7V221.7M1093.5 220.5V221.5M1094.5 219.6V223.2M1095.5 219.8V223.3M1096.5 217.6V224.7M1097.5 219.3V220.3M1098.5 218.4V222.0M1099.5 215.6V219.8M1100.5 218.0V225.0M1101.5 218.2V219.3M1102.5 218.2V220.2M1103.5 218.0V219.0M1104.5 217.7V218.9M1105.5 216.7V218.7M1106.5 215.8V220.4M1107.5 217.4V218.4M1108.5 217.1V218.2M1109.5 217.0V224.3M1110.5 214.7V219.1M1111.5 216.7V217.7M1112.5 214.3V217.6M1113.5 210.6V217.4M1114.5 214.2V217.2M1115.5 215.9V220.0M1116.5 215.9V218.1M1117.5 215.7V216.7M1118.5 215.1V217.1M1119.5 212.2V217.9M1120.5 214.3V221.0M1121.5 215.0V216.1M1122.5 214.9V216.6M1123.5 214.3V223.3M1124.5 213.5V215.6M1125.5 214.2V215.4M1126.5 214.3V215.3M1127.5 214.1V215.2M1128.5 214.0V215.0M1129.5 212.1V214.8M1130.5 210.1V215.5M1131.5 211.9V220.4M1132.5 213.3V214.9M1133.5 213.1V214.1M1134.5 212.8V214.0M1135.5 209.9V213.8M1136.5 209.6V213.7M1137.5 209.0V214.2M1138.5 214.8V215.8M1139.5 216.2V218.3M1140.5 218.2V220.3M1141.5 221.6V222.7M1142.5 221.6V224.9M1143.5 225.8V227.2M1144.5 224.0V228.0M1145.5 226.2V228.7M1146.5 228.5V229.5M1147.5 228.9V230.8M1148.5 229.7V231.0M1149.5 227.9V231.7M1150.5 231.8V232.2M1151.5 232.1V233.2M1152.5 232.2V233.3M1153.5 233.5V233.9M1154.5 234.1V235.2M1155.5 234.5V235.2M1156.5 235.1V235.6M1157.5 235.8V236.2M1158.5 236.2V237.3M1159.5 236.0V237.1M1160.5 236.9V237.4M1161.5 237.3V238.2M1162.5 237.1V238.2M1163.5 237.8V238.6M1164.5 238.4V239.1M1165.5 239.0V239.5M1166.5 239.5V239.9M1167.5 239.9V240.4M1168.5 240.0V240.7M1169.5 240.3V241.1M1170.5 239.7V241.5M1171.5 241.4V242.5M1172.5 241.5V242.0M1173.5 241.7V242.3M1174.5 241.8V243.2M1175.5 242.0V243.1M1176.5 242.7V246.0M1177.5 242.7V243.3M1178.5 243.2V243.6M1179.5 242.7V243.9M1180.5 243.7V244.3M1181.5 243.4V244.7M1182.5 244.1V244.6M1183.5 244.5V245.4M1184.5 244.6V245.0M1185.5 244.5V246.0M1186.5 244.7V245.4M1187.5 244.6V245.6M1188.5 245.1V245.6M1189.5 242.2V246.1M1190.5 245.0V245.9M1191.5 245.6V246.0M1192.5 245.5V246.4M1193.5 245.7V246.3M1194.5 246.1V246.5M1195.5 246.2V247.2M1196.5 245.8V246.8M1197.5 246.5V246.9M1198.5 246.7V247.5M1199.5 245.5V247.3M1200.5 246.5V247.5M1201.5 246.9V248.0M1202.5 247.5V247.9M1203.5 246.7V248.5M1204.5 247.6V248.3M1205.5 247.9V248.5M1206.5 248.2V248.7M1207.5 248.4V248.9M1208.5 248.3V249.1M1209.5 248.7V249.3M1210.5 249.1V249.7M1211.5 249.2V250.0M1212.5 249.0V249.8M1213.5 248.9V250.7M1214.5 249.5V250.5M1215.5 249.7V250.1M1216.5 249.7V250.3M1217.5 249.7V250.4M1218.5 249.8V250.5M1219.5 250.2V250.6M1220.5 250.2V250.8M1221.5 250.5V250.9M1222.5 249.5V251.0M1223.5 250.7V251.1M1224.5 250.7V251.3M1225.5 249.2V251.4M1226.5 250.7V251.5M1227.5 251.1V251.6M1228.5 251.3V252.2M1229.5 251.1V251.9M1230.5 251.2V252.2M1231.5 251.5V252.1M1232.5 251.6V252.3M1233.5 251.8V252.9M1234.5 251.9V252.5M1235.5 252.2V252.8M1236.5 252.1V252.8M1237.5 252.5V252.9M1238.5 252.6V253.0M1239.5 252.8V253.3M1240.5 252.8V253.3M1241.5 252.1V253.4M1242.5 252.8V253.5M1243.5 253.3V253.7M1244.5 253.3V253.8M1245.5 253.5V253.9M1246.5 253.6V254.9M1247.5 253.8V255.3M1248.5 253.9V254.3M1249.5 253.7V254.5M1250.5 253.9V254.8M1251.5 254.2V258.1M1252.5 254.4V254.8M1253.5 254.4V254.9M1254.5 254.6V255.1M1255.5 254.6V255.2M1256.5 254.8V255.3M1257.5 255.0V255.4M1258.5 255.2V255.7M1259.5 254.5V255.8M1260.5 255.3V256.8M1261.5 255.4V256.9M1262.5 255.6V256.1M1263.5 255.8V256.2M1264.5 255.9V256.3M1265.5 255.7V256.4M1266.5 255.8V259.1M1267.5 256.1V256.5M1268.5 256.2V256.6M1269.5 255.3V256.7M1270.5 256.2V258.2M1271.5 256.0V256.9M1272.5 256.4V257.0M1273.5 256.7V257.1M1274.5 256.3V257.4M1275.5 256.8V257.2M1276.5 256.8V257.5M1277.5 257.0V257.4M1278.5 257.1V257.7M1279.5 257.0V258.1M1280.5 257.1V257.7M1281.5 257.0V257.8M1282.5 257.4V257.9M1283.5 257.5V258.1M1284.5 257.6V258.0M1285.5 257.6V258.1" stroke="#1f8a8a"/><path d="M156.5 413.7V414.8M157.5 412.7V416.6M158.5 412.1V413.7M159.5 412.0V414.5M160.5 411.4V412.7M161.5 410.7V412.2M162.5 410.4V411.6M163.5 410.1V411.4M164.5 409.5V413.8M165.5 405.8V412.7M166.5 406.9V409.8M167.5 408.5V411.6M168.5 405.9V410.3M169.5 406.4V408.6M170.5 404.1V408.1M171.5 406.2V408.1M172.5 403.1V408.9M173.5 404.9V406.5M174.5 403.1V407.8M175.5 404.7V406.2M176.5 403.8V405.2M177.5 402.7V404.3M178.5 403.0V404.6M179.5 402.2V403.6M180.5 401.7V406.0M181.5 401.1V402.3M182.5 400.1V403.1M183.5 388.7V393.8M184.5 367.9V372.9M185.5 350.3V353.6M186.5 344.5V359.3M187.5 347.3V350.4M188.5 345.0V348.7M189.5 339.1V349.7M190.5 343.0V350.6M191.5 337.0V360.7M192.5 339.4V347.5M193.5 335.3V346.5M194.5 342.8V352.9M195.5 342.2V346.6M196.5 343.8V348.4M197.5 338.2V347.0M198.5 341.2V345.3M199.5 339.2V353.2M200.5 341.0V345.2M201.5 340.2V349.1M202.5 337.6V364.3M203.5 341.0V349.4M204.5 337.5V346.1M205.5 338.4V345.2M206.5 340.7V347.1M207.5 340.9V351.3M208.5 336.7V344.1M209.5 342.4V351.3M210.5 334.5V351.8M211.5 334.5V354.1M212.5 341.4V349.1M213.5 337.2V345.6M214.5 340.1V345.6M215.5 340.0V358.6M216.5 335.3V345.9M217.5 341.0V345.8M218.5 333.9V352.5M219.5 339.6V343.3M220.5 336.6V350.6M221.5 340.1V353.9M222.5 338.6V353.6M223.5 340.6V359.3M224.5 337.7V345.1M225.5 339.6V344.0M226.5 339.8V356.7M227.5 340.4V347.0M228.5 340.0V346.7M229.5 339.5V344.0M230.5 339.6V348.4M231.5 337.5V351.7M232.5 338.9V350.4M233.5 340.2V358.3M234.5 339.5V361.4M235.5 340.2V345.0M236.5 338.8V343.8M237.5 339.1V344.0M238.5 337.1V345.4M239.5 337.6V344.9M240.5 337.4V342.3M241.5 337.2V353.3M242.5 339.8V345.2M243.5 333.5V349.6M244.5 339.4V355.6M245.5 338.5V342.8M246.5 336.5V347.8M247.5 333.1V341.7M248.5 337.0V347.7M249.5 339.0V343.0M250.5 337.4V342.8M251.5 338.1V341.4M252.5 331.0V352.6M253.5 337.1V340.8M254.5 338.4V341.9M255.5 337.6V342.1M256.5 332.9V341.4M257.5 337.3V360.4M258.5 329.1V339.7M259.5 330.5V354.8M260.5 336.8V340.9M261.5 336.8V348.3M262.5 337.8V346.1M263.5 334.6V352.0M264.5 336.6V355.0M265.5 334.0V347.0M266.5 327.1V342.8M267.5 327.7V336.3M268.5 332.9V344.9M269.5 334.0V345.1M270.5 330.7V340.6M271.5 326.1V338.1M272.5 334.0V339.3M273.5 327.7V338.8M274.5 332.7V336.5M275.5 332.0V338.0M276.5 334.6V340.0M277.5 333.5V338.5M278.5 331.0V338.3M279.5 334.4V337.9M280.5 334.0V338.2M281.5 325.2V336.3M282.5 332.0V337.9M283.5 331.5V335.4M284.5 328.3V335.7M285.5 333.1V336.6M286.5 326.0V336.9M287.5 331.0V346.2M288.5 332.3V336.8M289.5 326.4V341.6M290.5 331.6V337.6M291.5 330.3V334.3M292.5 331.0V335.5M293.5 329.4V347.5M294.5 331.2V335.3M295.5 331.7V334.7M296.5 331.2V335.9M297.5 329.2V335.4M298.5 326.6V341.8M299.5 330.6V341.0M300.5 324.5V333.7M301.5 329.0V338.4M302.5 330.3V333.6M303.5 330.2V334.2M304.5 323.4V333.4M305.5 329.0V337.7M306.5 324.7V341.3M307.5 320.9V332.7M308.5 330.4V335.0M309.5 325.0V340.9M310.5 328.3V334.2M311.5 326.0V332.5M312.5 324.5V331.6M313.5 327.7V333.4M314.5 325.4V334.2M315.5 327.0V331.0M316.5 322.0V330.7M317.5 324.0V331.2M318.5 328.5V340.9M319.5 319.1V333.0M320.5 327.1V330.8M321.5 326.7V330.0M322.5 325.5V336.2M323.5 321.3V339.3M324.5 319.9V330.7M325.5 326.0V329.3M326.5 326.6V330.4M327.5 326.9V330.2M328.5 326.4V331.7M329.5 321.2V337.3M330.5 325.1V340.3M331.5 322.9V330.5M332.5 320.3V330.2M333.5 325.2V329.4M334.5 325.0V334.3M335.5 322.7V329.4M336.5 327.1V330.2M337.5 324.3V328.2M338.5 320.9V329.9M339.5 324.8V329.0M340.5 324.2V329.0M341.5 317.3V332.8M342.5 324.5V332.5M343.5 325.4V329.0M344.5 323.2V328.1M345.5 324.3V328.0M346.5 323.0V328.1M347.5 323.5V327.5M348.5 319.1V334.6M349.5 321.8V325.4M350.5 324.1V328.1M351.5 324.6V328.0M352.5 322.6V328.4M353.5 321.8V327.0M354.5 322.3V331.2M355.5 322.8V326.3M356.5 323.0V326.8M357.5 318.5V327.1M358.5 316.0V329.8M359.5 319.3V329.3M360.5 318.2V336.3M361.5 322.2V326.8M362.5 317.0V334.6M363.5 322.4V325.4M364.5 322.7V325.8M365.5 322.8V333.8M366.5 321.8V334.4M367.5 320.4V324.6M368.5 320.5V334.7M369.5 321.5V325.5M370.5 322.1V326.5M371.5 313.6V323.3M372.5 319.7V324.9M373.5 316.5V331.6M374.5 320.4V332.6M375.5 320.7V324.4M376.5 320.6V339.6M377.5 321.6V325.9M378.5 322.2V325.4M379.5 318.1V323.8M380.5 320.8V324.7M381.5 319.9V326.7M382.5 313.8V323.4M383.5 318.8V323.9M384.5 313.4V329.6M385.5 319.3V323.6M386.5 311.8V329.6M387.5 317.9V327.9M388.5 316.8V327.6M389.5 319.1V323.0M390.5 319.1V331.9M391.5 313.3V328.7M392.5 319.1V323.2M393.5 311.6V323.7M394.5 320.1V327.6M395.5 317.5V327.0M396.5 318.3V323.1M397.5 319.4V328.9M398.5 317.9V323.1M399.5 312.3V324.5M400.5 319.2V329.1M401.5 318.8V323.9M402.5 317.6V323.0M403.5 311.3V326.0M404.5 314.8V321.3M405.5 311.4V323.0M406.5 311.5V321.7M407.5 313.5V329.5M408.5 312.9V320.1M409.5 316.4V320.3M410.5 310.9V326.0M411.5 314.2V320.5M412.5 314.5V327.1M413.5 313.0V320.2M414.5 317.6V321.0M415.5 314.5V319.0M416.5 316.8V319.9M417.5 313.6V320.9M418.5 315.1V321.4M419.5 314.3V318.8M420.5 312.2V319.8M421.5 313.8V319.5M422.5 316.0V339.2M423.5 310.5V325.8M424.5 311.0V319.4M425.5 315.6V319.8M426.5 312.2V319.7M427.5 316.0V332.3M428.5 313.2V319.8M429.5 310.2V319.7M430.5 307.6V324.6M431.5 311.9V322.1M432.5 316.0V319.6M433.5 316.2V328.1M434.5 306.8V327.2M435.5 308.1V332.0M436.5 312.7V320.5M437.5 309.5V322.4M438.5 311.1V319.4M439.5 314.5V320.5M440.5 313.6V317.6M441.5 313.7V318.2M442.5 313.1V317.6M443.5 314.5V318.3M444.5 313.4V323.1M445.5 332.6V338.5M446.5 356.0V365.4M447.5 353.8V358.5M448.5 356.5V358.9M449.5 358.0V359.7M450.5 354.3V360.2M451.5 355.4V364.4M452.5 359.9V366.7M453.5 359.6V362.4M454.5 358.6V365.3M455.5 356.9V365.2M456.5 359.7V363.4M457.5 361.7V365.4M458.5 362.9V365.2M459.5 361.5V370.3M460.5 364.1V368.1M461.5 364.8V367.1M462.5 366.0V368.8M463.5 365.8V367.8M464.5 365.0V372.8M465.5 362.5V373.5M466.5 362.0V372.9M467.5 366.5V368.2M468.5 340.2V345.1M469.5 319.2V323.7M470.5 320.0V337.0M471.5 315.8V322.8M472.5 318.5V322.5M473.5 312.1V321.7M474.5 316.6V321.0M475.5 316.6V319.4M476.5 314.9V319.9M477.5 316.5V326.3M478.5 314.0V318.2M479.5 308.7V323.8M480.5 306.2V326.5M481.5 314.9V326.5M482.5 312.8V325.5M483.5 314.8V326.6M484.5 312.2V319.1M485.5 310.1V317.8M486.5 316.8V319.7M487.5 311.2V322.3M488.5 311.9V316.4M489.5 311.9V315.8M490.5 312.9V316.2M491.5 306.1V317.9M492.5 314.3V324.4M493.5 304.4V323.4M494.5 312.8V321.7M495.5 312.9V316.1M496.5 312.0V317.3M497.5 312.2V315.4M498.5 313.4V320.7M499.5 311.9V320.7M500.5 308.3V316.5M501.5 312.3V316.5M502.5 309.9V322.1M503.5 304.7V317.0M504.5 311.1V314.5M505.5 312.5V315.3M506.5 309.9V313.9M507.5 306.0V315.3M508.5 304.4V315.9M509.5 309.7V324.2M510.5 312.1V315.6M511.5 303.8V319.5M512.5 308.5V325.6M513.5 308.4V319.1M514.5 309.7V333.0M515.5 310.2V314.8M516.5 301.6V319.0M517.5 311.2V314.7M518.5 311.9V319.7M519.5 310.6V315.3M520.5 311.3V315.1M521.5 310.0V316.0M522.5 309.6V314.2M523.5 310.7V314.9M524.5 311.5V320.2M525.5 312.0V318.4M526.5 309.7V313.5M527.5 310.0V324.6M528.5 311.5V315.6M529.5 311.6V315.2M530.5 310.5V314.4M531.5 309.9V314.1M532.5 310.5V313.9M533.5 308.7V313.0M534.5 307.6V316.3M535.5 311.4V321.9M536.5 308.2V313.2M537.5 305.2V314.0M538.5 310.0V319.3M539.5 304.3V313.9M540.5 309.0V313.6M541.5 304.4V313.7M542.5 309.7V313.3M543.5 308.1V313.1M544.5 310.4V313.8M545.5 309.5V319.7M546.5 302.4V319.6M547.5 306.9V313.9M548.5 309.9V313.4M549.5 309.1V312.5M550.5 308.9V313.4M551.5 300.9V311.4M552.5 309.2V312.3M553.5 301.6V314.9M554.5 309.0V313.1M555.5 308.1V312.0M556.5 304.3V316.9M557.5 307.3V311.0M558.5 301.6V311.4M559.5 309.2V312.9M560.5 307.5V311.8M561.5 307.7V313.8M562.5 307.6V311.4M563.5 306.7V311.1M564.5 307.1V310.7M565.5 307.4V311.8M566.5 301.1V310.8M567.5 306.8V323.6M568.5 308.2V314.6M569.5 308.1V311.4M570.5 309.0V312.8M571.5 307.5V318.6M572.5 307.8V318.4M573.5 306.2V311.0M574.5 306.3V310.2M575.5 304.8V310.1M576.5 300.7V310.3M577.5 306.4V319.8M578.5 309.1V312.6M579.5 298.4V310.6M580.5 297.6V309.1M581.5 306.9V312.5M582.5 305.5V310.7M583.5 299.5V314.2M584.5 305.9V310.5M585.5 300.8V310.9M586.5 301.1V313.0M587.5 305.3V313.1M588.5 306.2V314.6M589.5 306.3V310.2M590.5 307.7V317.3M591.5 300.4V310.4M592.5 298.1V309.9M593.5 306.5V316.2M594.5 300.6V309.6M595.5 306.1V309.2M596.5 305.1V310.1M597.5 302.3V311.5M598.5 307.3V311.4M599.5 304.6V316.5M600.5 306.0V315.1M601.5 301.4V311.8M602.5 304.1V311.0M603.5 304.5V310.0M604.5 306.3V309.5M605.5 300.5V308.8M606.5 299.4V316.6M607.5 301.8V308.3M608.5 305.2V319.8M609.5 303.7V309.2M610.5 297.7V310.7M611.5 305.4V309.2M612.5 304.7V313.6M613.5 305.3V315.4M614.5 302.1V307.2M615.5 304.2V327.7M616.5 299.2V317.2M617.5 302.3V322.2M618.5 303.0V307.4M619.5 303.8V306.8M620.5 304.1V308.5M621.5 301.1V306.6M622.5 296.1V307.2M623.5 302.3V306.9M624.5 303.7V307.4M625.5 303.2V314.9M626.5 300.1V314.0M627.5 298.7V307.2M628.5 299.9V315.2M629.5 296.9V311.8M630.5 303.9V306.9M631.5 303.7V306.9M632.5 302.2V305.9M633.5 294.0V314.4M634.5 304.1V307.9M635.5 301.8V310.2M636.5 297.1V305.8M637.5 303.1V314.4M638.5 302.9V314.7M639.5 301.0V318.4M640.5 301.9V305.2M641.5 300.9V304.8M642.5 302.5V307.5M643.5 295.7V308.2M644.5 300.0V304.2M645.5 300.4V305.5M646.5 295.3V306.3M647.5 299.3V319.6M648.5 301.3V305.7M649.5 299.3V311.8M650.5 302.3V305.2M651.5 301.5V311.1M652.5 297.1V306.1M653.5 300.6V313.1M654.5 301.7V305.7M655.5 301.3V307.7M656.5 301.0V304.4M657.5 300.4V304.4M658.5 301.3V305.3M659.5 302.0V313.5M660.5 301.1V305.0M661.5 295.3V310.2M662.5 301.4V304.8M663.5 302.0V306.7M664.5 300.7V304.5M665.5 302.8V311.4M666.5 300.1V304.7M667.5 302.6V305.6M668.5 302.2V307.0M669.5 299.9V304.1M670.5 302.1V318.5M671.5 300.6V311.7M672.5 294.2V304.6M673.5 297.2V311.1M674.5 293.0V306.5M675.5 300.8V304.3M676.5 296.5V304.2M677.5 299.4V309.8M678.5 301.1V308.2M679.5 294.1V308.0M680.5 298.3V309.0M681.5 293.3V307.1M682.5 297.8V304.7M683.5 299.9V307.2M684.5 295.8V305.3M685.5 299.6V303.5M686.5 301.1V304.9M687.5 293.3V310.5M688.5 300.9V304.4M689.5 294.0V305.6M690.5 295.5V309.4M691.5 300.7V305.7M692.5 300.3V309.1M693.5 300.7V308.2M694.5 299.9V303.5M695.5 297.6V309.7M696.5 294.0V304.8M697.5 300.6V304.7M698.5 295.5V305.2M699.5 294.3V305.1M700.5 300.8V304.9M701.5 299.9V305.5M702.5 298.9V308.6M703.5 301.7V306.3M704.5 299.5V305.1M705.5 300.0V303.4M706.5 299.0V304.6M707.5 300.9V305.4M708.5 300.3V304.3M709.5 299.4V303.5M710.5 298.6V302.0M711.5 299.3V302.6M712.5 293.5V305.1M713.5 294.8V303.4M714.5 298.8V307.1M715.5 293.3V304.7M716.5 299.1V303.2M717.5 298.5V310.9M718.5 292.4V310.0M719.5 299.2V302.4M720.5 296.8V304.1M721.5 297.5V304.3M722.5 298.5V320.8M723.5 298.8V302.8M724.5 299.3V303.6M725.5 299.1V307.6M726.5 300.0V303.2M727.5 297.4V302.4M728.5 299.8V303.4M729.5 299.8V304.5M730.5 292.3V309.9M731.5 299.3V309.5M732.5 300.1V302.9M733.5 297.5V303.4M734.5 297.6V301.4M735.5 293.3V302.7M736.5 299.3V303.2M737.5 298.4V307.7M738.5 295.0V302.1M739.5 295.8V310.9M740.5 292.6V316.8M741.5 300.1V307.1M742.5 291.8V304.0M743.5 296.6V305.3M744.5 292.9V310.2M745.5 298.1V302.9M746.5 295.7V307.4M747.5 297.5V303.4M748.5 289.0V302.8M749.5 297.7V303.3M750.5 294.2V305.3M751.5 299.1V302.3M752.5 298.1V301.4M753.5 297.6V301.7M754.5 294.9V303.8M755.5 292.6V303.2M756.5 295.0V300.5M757.5 294.0V310.6M758.5 292.9V299.8M759.5 298.0V301.2M760.5 299.5V304.1M761.5 298.7V304.1M762.5 297.0V302.5M763.5 297.0V301.0M764.5 295.9V307.5M765.5 291.3V305.3M766.5 298.5V301.9M767.5 297.9V302.1M768.5 298.1V308.7M769.5 298.9V301.9M770.5 290.7V300.4M771.5 295.2V299.1M772.5 297.4V301.3M773.5 297.4V308.6M774.5 296.8V303.9M775.5 291.5V302.1M776.5 296.2V301.2M777.5 292.4V305.8M778.5 296.6V305.0M779.5 297.7V300.2M780.5 296.7V300.5M781.5 291.5V301.8M782.5 296.1V299.4M783.5 296.4V303.0M784.5 296.7V299.3M785.5 295.9V299.8M786.5 295.4V302.3M787.5 296.3V298.8M788.5 297.5V301.4M789.5 297.2V300.0M790.5 297.2V306.1M791.5 297.0V300.9M792.5 290.9V302.6M793.5 296.0V298.6M794.5 292.2V301.8M795.5 293.0V299.9M796.5 290.3V297.9M797.5 296.6V303.5M798.5 294.5V297.7M799.5 295.6V307.2M800.5 296.3V307.6M801.5 289.1V299.1M802.5 294.7V306.4M803.5 293.7V297.9M804.5 295.6V300.1M805.5 295.7V300.4M806.5 295.8V299.2M807.5 293.1V298.3M808.5 295.8V298.4M809.5 289.1V298.2M810.5 288.9V297.8M811.5 290.4V297.5M812.5 292.1V297.1M813.5 287.7V297.8M814.5 294.6V304.0M815.5 289.3V296.7M816.5 293.4V297.6M817.5 295.1V299.2M818.5 288.7V307.3M819.5 290.5V310.6M820.5 287.1V301.3M821.5 294.9V305.5M822.5 294.1V301.8M823.5 289.6V301.0M824.5 292.6V305.4M825.5 287.2V304.5M826.5 295.2V302.7M827.5 293.5V296.4M828.5 293.6V296.8M829.5 293.7V296.9M830.5 293.8V296.5M831.5 292.6V298.6M832.5 295.4V300.1M833.5 293.2V299.1M834.5 290.0V296.2M835.5 292.1V295.8M836.5 291.4V295.7M837.5 291.7V299.9M838.5 289.6V296.9M839.5 293.2V304.2M840.5 291.8V296.1M841.5 294.0V303.4M842.5 291.2V295.0M843.5 286.4V296.0M844.5 292.2V295.5M845.5 293.1V301.7M846.5 291.4V295.9M847.5 292.7V297.9M848.5 289.4V297.2M849.5 291.3V295.0M850.5 290.1V301.8M851.5 291.9V295.9M852.5 290.9V300.4M853.5 292.1V295.1M854.5 290.6V299.0M855.5 289.0V293.8M856.5 291.3V294.1M857.5 290.2V296.3M858.5 291.6V296.0M859.5 293.1V295.6M860.5 291.6V301.1M861.5 287.7V294.5M862.5 288.8V294.9M863.5 285.3V293.4M864.5 288.6V303.8M865.5 289.5V291.7M866.5 286.1V294.2M867.5 290.4V299.9M868.5 288.8V292.3M869.5 286.8V293.9M870.5 284.8V300.0M871.5 288.9V298.0M872.5 286.5V293.6M873.5 282.1V291.7M874.5 288.7V297.1M875.5 289.1V293.3M876.5 288.2V290.8M877.5 288.3V292.2M878.5 290.0V293.2M879.5 289.1V292.3M880.5 290.2V293.4M881.5 290.4V293.3M882.5 289.5V292.8M883.5 287.4V293.3M884.5 286.1V298.3M885.5 284.9V292.9M886.5 289.6V292.6M887.5 285.1V291.0M888.5 282.5V292.1M889.5 286.5V295.8M890.5 287.6V291.0M891.5 287.5V292.9M892.5 289.8V293.2M893.5 288.9V292.1M894.5 286.8V292.3M895.5 288.0V297.2M896.5 287.4V295.0M897.5 284.1V291.5M898.5 286.6V290.5M899.5 286.2V292.9M900.5 287.8V296.0M901.5 288.0V298.1M902.5 281.0V290.5M903.5 282.4V290.4M904.5 284.2V290.0M905.5 280.8V289.9M906.5 284.9V288.1M907.5 285.7V289.2M908.5 286.5V294.7M909.5 286.4V294.5M910.5 285.8V289.1M911.5 285.7V288.4M912.5 284.4V289.7M913.5 280.7V289.4M914.5 285.8V290.2M915.5 285.3V290.0M916.5 283.5V288.9M917.5 285.1V289.8M918.5 281.7V292.8M919.5 283.2V294.8M920.5 285.5V293.5M921.5 284.3V288.8M922.5 284.4V288.3M923.5 282.5V286.4M924.5 280.5V286.4M925.5 283.4V289.3M926.5 281.7V292.1M927.5 283.0V285.8M928.5 283.2V291.2M929.5 279.5V285.4M930.5 283.6V291.2M931.5 277.4V298.7M932.5 280.8V290.1M933.5 278.5V289.0M934.5 280.1V285.3M935.5 282.5V287.0M936.5 278.4V284.9M937.5 281.9V288.2M938.5 281.1V288.0M939.5 278.2V289.0M940.5 274.1V289.2M941.5 279.4V287.7M942.5 280.1V284.0M943.5 280.3V291.2M944.5 279.6V288.1M945.5 280.0V285.0M946.5 276.0V287.7M947.5 278.7V282.0M948.5 280.1V285.6M949.5 277.8V282.9M950.5 279.8V283.5M951.5 276.3V282.3M952.5 278.2V282.6M953.5 275.5V282.9M954.5 279.0V282.2M955.5 278.8V288.4M956.5 274.7V281.4M957.5 273.2V284.8M958.5 276.8V280.0M959.5 278.1V280.5M960.5 272.8V280.0M961.5 269.1V279.4M962.5 273.5V283.2M963.5 268.9V278.2M964.5 275.3V285.6M965.5 276.6V279.4M966.5 276.0V286.5M967.5 268.7V292.2M968.5 274.3V280.4M969.5 275.1V279.4M970.5 274.8V282.8M971.5 273.3V284.4M972.5 273.7V276.1M973.5 272.7V276.8M974.5 272.1V275.5M975.5 265.1V276.3M976.5 272.1V275.2M977.5 271.1V277.9M978.5 270.8V273.4M979.5 271.2V279.9M980.5 270.4V274.3M981.5 267.4V279.1M982.5 269.6V272.4M983.5 269.4V279.9M984.5 268.4V270.7M985.5 266.3V282.0M986.5 267.4V270.5M987.5 262.3V272.8M988.5 265.2V274.4M989.5 266.6V270.4M990.5 267.4V270.2M991.5 264.7V270.3M992.5 260.7V269.7M993.5 263.5V268.2M994.5 261.6V277.6M995.5 263.8V267.5M996.5 260.0V268.0M997.5 265.5V271.9M998.5 264.1V273.2M999.5 263.4V266.7M1000.5 257.4V267.9M1001.5 263.4V269.4M1002.5 261.5V264.6M1003.5 260.7V266.0M1004.5 258.2V261.5M1005.5 255.7V264.5M1006.5 252.8V260.5M1007.5 253.4V260.8M1008.5 257.4V259.6M1009.5 248.9V257.9M1010.5 253.9V262.3M1011.5 249.5V266.5M1012.5 247.7V261.2M1013.5 251.7V259.0M1014.5 250.3V257.5M1015.5 248.3V257.4M1016.5 250.2V254.9M1017.5 242.8V252.8M1018.5 242.6V250.7M1019.5 247.6V250.7M1020.5 242.2V249.5M1021.5 246.7V249.2M1022.5 262.5V266.9M1023.5 283.2V291.7M1024.5 282.4V291.5M1025.5 288.3V295.0M1026.5 297.5V300.6M1027.5 299.4V306.0M1028.5 296.3V304.2M1029.5 298.1V312.9M1030.5 306.9V309.4M1031.5 305.6V320.6M1032.5 308.8V317.7M1033.5 307.8V314.3M1034.5 308.0V315.8M1035.5 312.4V316.4M1036.5 308.8V319.4M1037.5 318.2V322.0M1038.5 318.5V325.7M1039.5 320.5V322.8M1040.5 318.9V324.7M1041.5 323.2V327.0M1042.5 322.3V334.0M1043.5 321.0V331.8M1044.5 318.4V327.1M1045.5 317.5V324.6M1046.5 309.7V324.6M1047.5 302.1V308.6M1048.5 296.9V301.0M1049.5 290.0V299.2M1050.5 282.1V291.6M1051.5 275.1V278.5M1052.5 262.5V274.4M1053.5 258.4V262.2M1054.5 251.3V260.5M1055.5 239.5V248.2M1056.5 231.3V240.2M1057.5 228.6V233.3M1058.5 227.5V233.2M1059.5 230.6V233.0M1060.5 228.0V238.0M1061.5 224.8V230.0M1062.5 224.2V231.9M1063.5 228.4V232.9M1064.5 227.4V229.7M1065.5 219.9V233.6M1066.5 224.1V233.9M1067.5 224.9V232.5M1068.5 225.7V230.3M1069.5 220.6V235.1M1070.5 225.2V228.3M1071.5 224.0V231.9M1072.5 225.4V228.1M1073.5 222.6V225.8M1074.5 220.9V228.3M1075.5 223.9V226.6M1076.5 222.4V227.0M1077.5 221.7V225.2M1078.5 222.3V233.6M1079.5 222.3V225.4M1080.5 222.1V225.9M1081.5 220.6V224.7M1082.5 221.6V225.1M1083.5 219.5V225.4M1084.5 220.2V226.8M1085.5 217.6V224.0M1086.5 221.8V225.3M1087.5 219.5V234.0M1088.5 214.9V229.2M1089.5 213.6V221.8M1090.5 221.3V233.1M1091.5 219.0V222.4M1092.5 211.6V223.2M1093.5 218.8V225.0M1094.5 219.8V222.0M1095.5 217.8V228.5M1096.5 213.8V225.4M1097.5 216.0V224.7M1098.5 217.7V221.6M1099.5 216.5V220.4M1100.5 214.3V221.3M1101.5 214.0V221.0M1102.5 219.1V222.1M1103.5 217.6V225.5M1104.5 215.3V218.8M1105.5 215.4V220.3M1106.5 217.4V219.9M1107.5 214.1V219.7M1108.5 216.0V219.5M1109.5 210.8V219.9M1110.5 216.0V219.3M1111.5 214.4V218.2M1112.5 215.3V218.5M1113.5 216.2V218.7M1114.5 214.1V224.4M1115.5 214.6V217.2M1116.5 213.7V223.0M1117.5 210.9V218.7M1118.5 214.0V225.5M1119.5 208.3V218.0M1120.5 212.8V217.6M1121.5 215.6V221.3M1122.5 214.4V220.2M1123.5 210.5V222.9M1124.5 209.6V216.8M1125.5 209.4V218.6M1126.5 213.8V216.9M1127.5 212.3V214.7M1128.5 212.1V218.1M1129.5 213.7V216.3M1130.5 206.7V218.9M1131.5 212.4V216.2M1132.5 212.0V216.4M1133.5 211.9V215.2M1134.5 206.5V219.2M1135.5 209.3V216.0M1136.5 211.8V215.3M1137.5 211.3V217.7M1138.5 213.5V221.4M1139.5 215.3V225.3M1140.5 218.1V221.0M1141.5 220.7V223.7M1142.5 220.4V232.7M1143.5 222.6V235.2M1144.5 222.7V227.4M1145.5 220.9V229.6M1146.5 225.2V235.3M1147.5 227.7V230.5M1148.5 230.1V233.3M1149.5 229.2V232.5M1150.5 231.3V232.5M1151.5 232.3V233.8M1152.5 232.9V236.5M1153.5 233.0V234.0M1154.5 233.0V235.3M1155.5 232.3V235.0M1156.5 235.2V236.2M1157.5 233.9V236.7M1158.5 234.3V237.1M1159.5 236.1V237.3M1160.5 236.4V237.4M1161.5 237.5V240.9M1162.5 237.8V241.0M1163.5 237.1V238.4M1164.5 238.2V239.8M1165.5 237.7V240.6M1166.5 238.3V240.6M1167.5 238.9V242.8M1168.5 238.1V242.1M1169.5 239.9V241.2M1170.5 240.5V242.4M1171.5 238.9V241.4M1172.5 240.8V242.6M1173.5 241.5V242.5M1174.5 240.0V243.1M1175.5 241.4V242.3M1176.5 242.5V243.9M1177.5 242.7V243.6M1178.5 242.0V243.9M1179.5 243.5V245.9M1180.5 243.4V245.6M1181.5 243.5V244.5M1182.5 243.4V246.0M1183.5 244.5V245.7M1184.5 244.6V250.8M1185.5 243.2V248.2M1186.5 244.3V249.1M1187.5 245.0V247.1M1188.5 244.4V245.7M1189.5 245.1V247.2M1190.5 245.4V248.2M1191.5 245.1V249.8M1192.5 245.1V246.3M1193.5 244.2V250.1M1194.5 245.7V247.1M1195.5 246.3V247.2M1196.5 245.7V247.1M1197.5 243.8V246.9M1198.5 246.9V248.0M1199.5 247.0V249.5M1200.5 247.0V249.2M1201.5 247.4V248.3M1202.5 247.2V249.6M1203.5 248.0V251.2M1204.5 247.6V248.5M1205.5 246.5V248.8M1206.5 247.9V251.2M1207.5 248.3V249.4M1208.5 245.9V249.6M1209.5 248.4V249.5M1210.5 248.7V251.9M1211.5 248.4V250.4M1212.5 247.8V250.9M1213.5 249.7V252.0M1214.5 247.5V250.2M1215.5 247.2V250.2M1216.5 247.6V250.7M1217.5 247.2V252.4M1218.5 249.3V251.1M1219.5 249.4V252.6M1220.5 250.4V253.3M1221.5 249.9V251.7M1222.5 248.5V251.1M1223.5 250.8V252.2M1224.5 250.5V251.4M1225.5 250.8V251.9M1226.5 250.8V253.5M1227.5 250.4V252.7M1228.5 251.5V254.9M1229.5 251.0V252.0M1230.5 251.5V252.6M1231.5 251.1V252.4M1232.5 251.6V252.6M1233.5 251.2V252.5M1234.5 250.9V253.9M1235.5 251.5V252.7M1236.5 251.4V254.2M1237.5 252.3V255.8M1238.5 250.0V255.7M1239.5 252.6V254.0M1240.5 252.7V253.9M1241.5 252.8V256.0M1242.5 251.0V253.5M1243.5 252.7V255.5M1244.5 252.8V254.2M1245.5 252.2V255.6M1246.5 253.8V257.1M1247.5 253.9V255.1M1248.5 253.7V255.0M1249.5 253.7V255.2M1250.5 253.7V256.3M1251.5 253.7V256.9M1252.5 253.6V256.6M1253.5 254.0V255.6M1254.5 254.8V255.6M1255.5 253.1V255.5M1256.5 254.8V255.8M1257.5 255.1V258.3M1258.5 254.2V257.3M1259.5 254.6V257.4M1260.5 254.8V255.9M1261.5 255.2V256.4M1262.5 255.3V256.5M1263.5 255.4V259.3M1264.5 255.2V256.6M1265.5 255.5V256.9M1266.5 255.4V256.4M1267.5 256.1V257.0M1268.5 255.6V258.2M1269.5 254.2V258.5M1270.5 255.2V256.9M1271.5 254.7V257.2M1272.5 255.7V256.8M1273.5 256.5V259.9M1274.5 256.3V257.5M1275.5 255.9V257.2M1276.5 255.8V257.6M1277.5 254.9V257.6M1278.5 257.1V260.0M1279.5 256.5V258.8M1280.5 256.9V260.2M1281.5 256.8V258.2M1282.5 256.7V260.1M1283.5 257.2V258.1M1284.5 257.4V259.6M1285.5 255.6V259.5" stroke="#837e10"/></g><polyline points="156.0,417.0 157.0,416.5 158.0,416.0 159.0,415.4 160.0,414.9 161.0,414.4 162.0,413.9 163.0,413.4 164.0,412.8 165.0,412.3 166.0,411.8 167.0,411.3 168.0,410.8 169.0,410.2 170.0,409.7 171.0,409.2 172.0,408.7 173.0,408.2 174.0,407.6 175.0,407.1 176.0,406.6 177.0,406.1 178.0,405.6 179.0,405.0 180.0,404.5 181.0,404.0 182.0,404.0 183.0,397.7 184.0,385.0 185.0,384.2 186.0,383.3 187.0,382.5 188.0,381.7 189.0,380.8 190.0,380.0 191.0,379.8 192.0,379.6 193.0,379.4 194.0,379.2 195.0,379.0 196.0,378.8 197.0,378.6 198.0,378.4 199.0,378.2 200.0,378.0 201.0,377.8 202.0,377.6 203.0,377.4 204.0,377.2 205.0,377.0 206.0,376.8 207.0,376.6 208.0,376.4 209.0,376.2 210.0,376.0 211.0,375.8 212.0,375.6 213.0,375.5 214.0,375.3 215.0,375.1 216.0,374.9 217.0,374.8 218.0,374.6 219.0,374.4 220.0,374.2 221.0,374.1 222.0,373.9 223.0,373.7 224.0,373.6 225.0,373.4 226.0,373.2 227.0,373.0 228.0,372.9 229.0,372.7 230.0,372.5 231.0,372.3 232.0,372.1 233.0,372.0 234.0,371.8 235.0,371.6 236.0,371.4 237.0,371.3 238.0,371.1 239.0,370.9 240.0,370.8 241.0,370.6 242.0,370.4 243.0,370.2 244.0,370.1 245.0,369.9 246.0,369.7 247.0,369.5 248.0,369.4 249.0,369.2 250.0,369.0 251.0,368.9 252.0,368.8 253.0,368.8 254.0,368.7 255.0,368.6 256.0,368.5 257.0,368.4 258.0,368.4 259.0,368.3 260.0,368.2 261.0,368.1 262.0,368.0 263.0,368.0 264.0,367.9 265.0,367.8 266.0,367.7 267.0,367.6 268.0,367.6 269.0,367.5 270.0,367.4 271.0,367.3 272.0,367.2 273.0,367.2 274.0,367.1 275.0,367.0 276.0,366.9 277.0,366.8 278.0,366.8 279.0,366.7 280.0,366.6 281.0,366.5 282.0,366.4 283.0,366.4 284.0,366.3 285.0,366.2 286.0,366.1 287.0,366.0 288.0,366.0 289.0,365.9 290.0,365.8 291.0,365.7 292.0,365.6 293.0,365.6 294.0,365.5 295.0,365.4 296.0,365.3 297.0,365.2 298.0,365.2 299.0,365.1 300.0,365.0 301.0,364.9 302.0,364.9 303.0,364.8 304.0,364.7 305.0,364.6 306.0,364.6 307.0,364.5 308.0,364.4 309.0,364.3 310.0,364.2 311.0,364.2 312.0,364.1 313.0,364.0 314.0,363.9 315.0,363.9 316.0,363.8 317.0,363.7 318.0,363.6 319.0,363.6 320.0,363.5 321.0,363.4 322.0,363.4 323.0,363.3 324.0,363.2 325.0,363.1 326.0,363.1 327.0,363.0 328.0,362.9 329.0,362.8 330.0,362.8 331.0,362.7 332.0,362.6 333.0,362.5 334.0,362.4 335.0,362.4 336.0,362.3 337.0,362.2 338.0,362.1 339.0,362.1 340.0,362.0 341.0,361.9 342.0,361.9 343.0,361.8 344.0,361.7 345.0,361.6 346.0,361.6 347.0,361.5 348.0,361.4 349.0,361.3 350.0,361.2 351.0,361.2 352.0,361.1 353.0,361.0 354.0,360.9 355.0,360.9 356.0,360.8 357.0,360.7 358.0,360.6 359.0,360.6 360.0,360.5 361.0,360.4 362.0,360.4 363.0,360.3 364.0,360.2 365.0,360.1 366.0,360.1 367.0,360.0 368.0,359.9 369.0,359.8 370.0,359.8 371.0,359.7 372.0,359.6 373.0,359.5 374.0,359.4 375.0,359.4 376.0,359.3 377.0,359.2 378.0,359.1 379.0,359.1 380.0,359.0 381.0,358.9 382.0,358.7 383.0,358.6 384.0,358.5 385.0,358.3 386.0,358.2 387.0,358.1 388.0,357.9 389.0,357.8 390.0,357.7 391.0,357.5 392.0,357.4 393.0,357.3 394.0,357.1 395.0,357.0 396.0,356.9 397.0,356.7 398.0,356.6 399.0,356.5 400.0,356.3 401.0,356.2 402.0,356.1 403.0,355.9 404.0,355.8 405.0,355.7 406.0,355.5 407.0,355.4 408.0,355.3 409.0,355.1 410.0,355.0 411.0,354.9 412.0,354.7 413.0,354.6 414.0,354.5 415.0,354.3 416.0,354.2 417.0,354.1 418.0,353.9 419.0,353.8 420.0,353.7 421.0,353.5 422.0,353.4 423.0,353.3 424.0,353.1 425.0,353.0 426.0,352.9 427.0,352.7 428.0,352.6 429.0,352.5 430.0,352.3 431.0,352.2 432.0,352.1 433.0,351.9 434.0,351.8 435.0,351.7 436.0,351.5 437.0,351.4 438.0,351.3 439.0,351.1 440.0,351.0 441.0,350.8 442.0,350.5 443.0,350.2 444.0,350.0 445.0,359.0 446.0,368.0 447.0,368.3 448.0,368.6 449.0,368.9 450.0,369.3 451.0,369.6 452.0,369.9 453.0,370.2 454.0,370.5 455.0,370.8 456.0,371.2 457.0,371.5 458.0,371.8 459.0,372.1 460.0,372.4 461.0,372.7 462.0,373.1 463.0,373.4 464.0,373.7 465.0,374.0 466.0,374.0 467.0,374.0 468.0,366.0 469.0,358.0 470.0,350.0 471.0,349.8 472.0,349.6 473.0,349.4 474.0,349.2 475.0,349.0 476.0,348.8 477.0,348.6 478.0,348.4 479.0,348.2 480.0,348.0 481.0,347.8 482.0,347.6 483.0,347.4 484.0,347.2 485.0,347.0 486.0,346.8 487.0,346.6 488.0,346.4 489.0,346.2 490.0,346.0 491.0,345.9 492.0,345.9 493.0,345.8 494.0,345.7 495.0,345.7 496.0,345.6 497.0,345.5 498.0,345.5 499.0,345.4 500.0,345.3 501.0,345.3 502.0,345.2 503.0,345.1 504.0,345.1 505.0,345.0 506.0,344.9 507.0,344.9 508.0,344.8 509.0,344.7 510.0,344.7 511.0,344.6 512.0,344.5 513.0,344.5 514.0,344.4 515.0,344.3 516.0,344.3 517.0,344.2 518.0,344.1 519.0,344.1 520.0,344.0 521.0,343.9 522.0,343.9 523.0,343.9 524.0,343.8 525.0,343.8 526.0,343.7 527.0,343.6 528.0,343.6 529.0,343.6 530.0,343.5 531.0,343.4 532.0,343.4 533.0,343.4 534.0,343.3 535.0,343.2 536.0,343.2 537.0,343.1 538.0,343.1 539.0,343.1 540.0,343.0 541.0,342.9 542.0,342.9 543.0,342.9 544.0,342.8 545.0,342.8 546.0,342.7 547.0,342.6 548.0,342.6 549.0,342.6 550.0,342.5 551.0,342.4 552.0,342.4 553.0,342.4 554.0,342.3 555.0,342.2 556.0,342.2 557.0,342.1 558.0,342.1 559.0,342.1 560.0,342.0 561.0,341.9 562.0,341.9 563.0,341.8 564.0,341.7 565.0,341.6 566.0,341.6 567.0,341.5 568.0,341.4 569.0,341.3 570.0,341.2 571.0,341.2 572.0,341.1 573.0,341.0 574.0,340.9 575.0,340.9 576.0,340.8 577.0,340.7 578.0,340.6 579.0,340.6 580.0,340.5 581.0,340.4 582.0,340.4 583.0,340.3 584.0,340.2 585.0,340.1 586.0,340.1 587.0,340.0 588.0,339.9 589.0,339.8 590.0,339.8 591.0,339.7 592.0,339.6 593.0,339.5 594.0,339.4 595.0,339.4 596.0,339.3 597.0,339.2 598.0,339.1 599.0,339.1 600.0,339.0 601.0,338.9 602.0,338.9 603.0,338.8 604.0,338.7 605.0,338.6 606.0,338.6 607.0,338.5 608.0,338.4 609.0,338.3 610.0,338.2 611.0,338.2 612.0,338.1 613.0,338.0 614.0,337.9 615.0,337.9 616.0,337.8 617.0,337.7 618.0,337.6 619.0,337.6 620.0,337.5 621.0,337.4 622.0,337.4 623.0,337.3 624.0,337.2 625.0,337.1 626.0,337.1 627.0,337.0 628.0,336.9 629.0,336.8 630.0,336.8 631.0,336.7 632.0,336.6 633.0,336.5 634.0,336.4 635.0,336.4 636.0,336.3 637.0,336.2 638.0,336.1 639.0,336.1 640.0,336.0 641.0,336.0 642.0,335.9 643.0,335.9 644.0,335.9 645.0,335.8 646.0,335.8 647.0,335.8 648.0,335.7 649.0,335.7 650.0,335.7 651.0,335.6 652.0,335.6 653.0,335.6 654.0,335.5 655.0,335.5 656.0,335.5 657.0,335.4 658.0,335.4 659.0,335.4 660.0,335.3 661.0,335.3 662.0,335.3 663.0,335.2 664.0,335.2 665.0,335.2 666.0,335.1 667.0,335.1 668.0,335.1 669.0,335.0 670.0,335.0 671.0,335.0 672.0,334.9 673.0,334.9 674.0,334.9 675.0,334.8 676.0,334.8 677.0,334.8 678.0,334.7 679.0,334.7 680.0,334.7 681.0,334.6 682.0,334.6 683.0,334.6 684.0,334.5 685.0,334.5 686.0,334.5 687.0,334.4 688.0,334.4 689.0,334.4 690.0,334.3 691.0,334.3 692.0,334.3 693.0,334.2 694.0,334.2 695.0,334.2 696.0,334.1 697.0,334.1 698.0,334.1 699.0,334.0 700.0,334.0 701.0,333.9 702.0,333.9 703.0,333.8 704.0,333.7 705.0,333.7 706.0,333.6 707.0,333.5 708.0,333.5 709.0,333.4 710.0,333.3 711.0,333.3 712.0,333.2 713.0,333.1 714.0,333.1 715.0,333.0 716.0,332.9 717.0,332.9 718.0,332.8 719.0,332.7 720.0,332.7 721.0,332.6 722.0,332.5 723.0,332.5 724.0,332.4 725.0,332.3 726.0,332.3 727.0,332.2 728.0,332.1 729.0,332.1 730.0,332.0 731.0,331.9 732.0,331.9 733.0,331.8 734.0,331.7 735.0,331.7 736.0,331.6 737.0,331.5 738.0,331.5 739.0,331.4 740.0,331.3 741.0,331.3 742.0,331.2 743.0,331.1 744.0,331.1 745.0,331.0 746.0,330.9 747.0,330.9 748.0,330.8 749.0,330.7 750.0,330.7 751.0,330.6 752.0,330.5 753.0,330.5 754.0,330.4 755.0,330.3 756.0,330.3 757.0,330.2 758.0,330.1 759.0,330.1 760.0,330.0 761.0,329.9 762.0,329.9 763.0,329.8 764.0,329.7 765.0,329.6 766.0,329.6 767.0,329.5 768.0,329.4 769.0,329.3 770.0,329.2 771.0,329.2 772.0,329.1 773.0,329.0 774.0,328.9 775.0,328.9 776.0,328.8 777.0,328.7 778.0,328.6 779.0,328.6 780.0,328.5 781.0,328.4 782.0,328.4 783.0,328.3 784.0,328.2 785.0,328.1 786.0,328.1 787.0,328.0 788.0,327.9 789.0,327.8 790.0,327.8 791.0,327.7 792.0,327.6 793.0,327.5 794.0,327.4 795.0,327.4 796.0,327.3 797.0,327.2 798.0,327.1 799.0,327.1 800.0,327.0 801.0,326.9 802.0,326.8 803.0,326.8 804.0,326.7 805.0,326.6 806.0,326.5 807.0,326.4 808.0,326.4 809.0,326.3 810.0,326.2 811.0,326.1 812.0,326.0 813.0,326.0 814.0,325.9 815.0,325.8 816.0,325.7 817.0,325.6 818.0,325.6 819.0,325.5 820.0,325.4 821.0,325.3 822.0,325.2 823.0,325.2 824.0,325.1 825.0,325.0 826.0,324.9 827.0,324.8 828.0,324.8 829.0,324.7 830.0,324.6 831.0,324.5 832.0,324.4 833.0,324.4 834.0,324.3 835.0,324.2 836.0,324.1 837.0,324.0 838.0,324.0 839.0,323.9 840.0,323.8 841.0,323.7 842.0,323.6 843.0,323.6 844.0,323.5 845.0,323.4 846.0,323.3 847.0,323.2 848.0,323.2 849.0,323.1 850.0,323.0 851.0,322.9 852.0,322.8 853.0,322.6 854.0,322.5 855.0,322.4 856.0,322.3 857.0,322.2 858.0,322.0 859.0,321.9 860.0,321.8 861.0,321.7 862.0,321.6 863.0,321.4 864.0,321.3 865.0,321.2 866.0,321.1 867.0,321.0 868.0,320.8 869.0,320.7 870.0,320.6 871.0,320.5 872.0,320.4 873.0,320.2 874.0,320.1 875.0,320.0 876.0,319.9 877.0,319.8 878.0,319.6 879.0,319.5 880.0,319.4 881.0,319.3 882.0,319.2 883.0,319.0 884.0,318.9 885.0,318.8 886.0,318.7 887.0,318.6 888.0,318.4 889.0,318.3 890.0,318.2 891.0,318.1 892.0,318.0 893.0,317.8 894.0,317.7 895.0,317.6 896.0,317.5 897.0,317.4 898.0,317.2 899.0,317.1 900.0,317.0 901.0,316.9 902.0,316.7 903.0,316.6 904.0,316.4 905.0,316.2 906.0,316.1 907.0,315.9 908.0,315.8 909.0,315.6 910.0,315.5 911.0,315.4 912.0,315.2 913.0,315.1 914.0,314.9 915.0,314.8 916.0,314.6 917.0,314.4 918.0,314.3 919.0,314.1 920.0,314.0 921.0,313.9 922.0,313.7 923.0,313.6 924.0,313.4 925.0,313.2 926.0,313.1 927.0,312.9 928.0,312.8 929.0,312.6 930.0,312.5 931.0,312.4 932.0,312.2 933.0,312.1 934.0,311.9 935.0,311.8 936.0,311.6 937.0,311.4 938.0,311.3 939.0,311.1 940.0,311.0 941.0,310.8 942.0,310.5 943.0,310.3 944.0,310.1 945.0,309.8 946.0,309.6 947.0,309.4 948.0,309.1 949.0,308.9 950.0,308.7 951.0,308.4 952.0,308.2 953.0,308.0 954.0,307.7 955.0,307.5 956.0,307.3 957.0,307.0 958.0,306.8 959.0,306.6 960.0,306.3 961.0,306.1 962.0,305.9 963.0,305.6 964.0,305.4 965.0,305.2 966.0,304.9 967.0,304.7 968.0,304.5 969.0,304.2 970.0,304.0 971.0,303.6 972.0,303.3 973.0,302.9 974.0,302.5 975.0,302.2 976.0,301.8 977.0,301.4 978.0,301.1 979.0,300.7 980.0,300.3 981.0,300.0 982.0,299.6 983.0,299.2 984.0,298.9 985.0,298.5 986.0,298.1 987.0,297.8 988.0,297.4 989.0,297.0 990.0,296.7 991.0,296.3 992.0,295.9 993.0,295.6 994.0,295.2 995.0,294.8 996.0,294.5 997.0,294.1 998.0,293.7 999.0,293.4 1000.0,293.0 1001.0,292.4 1002.0,291.8 1003.0,291.2 1004.0,290.6 1005.0,290.0 1006.0,289.4 1007.0,288.8 1008.0,288.2 1009.0,287.6 1010.0,287.0 1011.0,286.2 1012.0,285.4 1013.0,284.6 1014.0,283.8 1015.0,283.0 1016.0,282.2 1017.0,281.4 1018.0,280.6 1019.0,279.8 1020.0,279.0 1021.0,279.7 1022.0,283.3 1023.0,290.0 1024.0,293.3 1025.0,296.7 1026.0,300.0 1027.0,302.0 1028.0,304.0 1029.0,306.0 1030.0,308.0 1031.0,309.4 1032.0,310.8 1033.0,312.2 1034.0,313.6 1035.0,315.0 1036.0,316.1 1037.0,317.3 1038.0,318.4 1039.0,319.6 1040.0,320.7 1041.0,321.9 1042.0,323.0 1043.0,322.7 1044.0,322.3 1045.0,322.0 1046.0,314.4 1047.0,306.8 1048.0,299.2 1049.0,291.7 1050.0,284.1 1051.0,276.5 1052.0,268.9 1053.0,261.3 1054.0,253.8 1055.0,246.2 1056.0,238.6 1057.0,231.0 1058.0,230.7 1059.0,230.4 1060.0,230.2 1061.0,229.9 1062.0,229.6 1063.0,229.3 1064.0,229.0 1065.0,228.8 1066.0,228.5 1067.0,228.2 1068.0,227.9 1069.0,227.7 1070.0,227.4 1071.0,227.1 1072.0,226.8 1073.0,226.5 1074.0,226.3 1075.0,226.0 1076.0,225.7 1077.0,225.4 1078.0,225.1 1079.0,224.9 1080.0,224.6 1081.0,224.3 1082.0,224.0 1083.0,223.7 1084.0,223.5 1085.0,223.2 1086.0,222.9 1087.0,222.6 1088.0,222.3 1089.0,222.1 1090.0,221.8 1091.0,221.5 1092.0,221.2 1093.0,221.0 1094.0,220.7 1095.0,220.4 1096.0,220.1 1097.0,219.8 1098.0,219.6 1099.0,219.3 1100.0,219.0 1101.0,218.8 1102.0,218.7 1103.0,218.5 1104.0,218.4 1105.0,218.2 1106.0,218.0 1107.0,217.9 1108.0,217.7 1109.0,217.5 1110.0,217.4 1111.0,217.2 1112.0,217.1 1113.0,216.9 1114.0,216.7 1115.0,216.6 1116.0,216.4 1117.0,216.2 1118.0,216.1 1119.0,215.9 1120.0,215.8 1121.0,215.6 1122.0,215.4 1123.0,215.3 1124.0,215.1 1125.0,214.9 1126.0,214.8 1127.0,214.6 1128.0,214.5 1129.0,214.3 1130.0,214.1 1131.0,214.0 1132.0,213.8 1133.0,213.6 1134.0,213.5 1135.0,213.3 1136.0,213.2 1137.0,213.0 1138.0,215.3 1139.0,217.6 1140.0,219.8 1141.0,222.1 1142.0,224.4 1143.0,226.7 1144.0,227.5 1145.0,228.2 1146.0,229.0 1147.0,229.7 1148.0,230.5 1149.0,231.2 1150.0,232.0 1151.0,232.6 1152.0,233.1 1153.0,233.7 1154.0,234.3 1155.0,234.9 1156.0,235.4 1157.0,236.0 1158.0,236.4 1159.0,236.8 1160.0,237.2 1161.0,237.6 1162.0,238.0 1163.0,238.4 1164.0,238.9 1165.0,239.3 1166.0,239.7 1167.0,240.1 1168.0,240.5 1169.0,240.9 1170.0,241.3 1171.0,241.6 1172.0,241.8 1173.0,242.1 1174.0,242.3 1175.0,242.6 1176.0,242.9 1177.0,243.1 1178.0,243.4 1179.0,243.7 1180.0,243.9 1181.0,244.2 1182.0,244.4 1183.0,244.7 1184.0,244.8 1185.0,245.0 1186.0,245.1 1187.0,245.3 1188.0,245.4 1189.0,245.6 1190.0,245.7 1191.0,245.8 1192.0,246.0 1193.0,246.1 1194.0,246.3 1195.0,246.4 1196.0,246.6 1197.0,246.7 1198.0,246.9 1199.0,247.1 1200.0,247.3 1201.0,247.5 1202.0,247.7 1203.0,247.9 1204.0,248.1 1205.0,248.3 1206.0,248.5 1207.0,248.7 1208.0,248.9 1209.0,249.1 1210.0,249.3 1211.0,249.4 1212.0,249.6 1213.0,249.7 1214.0,249.8 1215.0,249.9 1216.0,250.1 1217.0,250.2 1218.0,250.3 1219.0,250.4 1220.0,250.6 1221.0,250.7 1222.0,250.8 1223.0,250.9 1224.0,251.1 1225.0,251.2 1226.0,251.3 1227.0,251.4 1228.0,251.6 1229.0,251.7 1230.0,251.8 1231.0,251.9 1232.0,252.1 1233.0,252.2 1234.0,252.3 1235.0,252.4 1236.0,252.6 1237.0,252.7 1238.0,252.8 1239.0,253.0 1240.0,253.1 1241.0,253.2 1242.0,253.3 1243.0,253.5 1244.0,253.6 1245.0,253.7 1246.0,253.8 1247.0,254.0 1248.0,254.1 1249.0,254.2 1250.0,254.3 1251.0,254.5 1252.0,254.6 1253.0,254.7 1254.0,254.9 1255.0,255.0 1256.0,255.1 1257.0,255.2 1258.0,255.4 1259.0,255.5 1260.0,255.6 1261.0,255.7 1262.0,255.9 1263.0,256.0 1264.0,256.1 1265.0,256.2 1266.0,256.3 1267.0,256.3 1268.0,256.4 1269.0,256.5 1270.0,256.6 1271.0,256.7 1272.0,256.8 1273.0,256.9 1274.0,257.0 1275.0,257.0 1276.0,257.1 1277.0,257.2 1278.0,257.3 1279.0,257.4 1280.0,257.5 1281.0,257.6 1282.0,257.7 1283.0,257.7 1284.0,257.8 1285.0,257.9" stroke="#1f8a8a" fill="none" stroke-width="1"/><polyline points="156.0,414.2 157.0,413.6 158.0,413.1 159.0,412.7 160.0,412.0 161.0,411.4 162.0,411.1 163.0,410.6 164.0,410.3 165.0,409.7 166.0,408.8 167.0,409.0 168.0,408.2 169.0,408.0 170.0,407.5 171.0,406.9 172.0,406.5 173.0,405.4 174.0,405.8 175.0,405.4 176.0,404.6 177.0,403.8 178.0,403.6 179.0,402.9 180.0,402.9 181.0,401.9 182.0,401.7 183.0,391.6 184.0,370.8 185.0,351.6 186.0,349.8 187.0,348.8 188.0,347.2 189.0,347.3 190.0,345.0 191.0,345.1 192.0,346.1 193.0,345.0 194.0,344.3 195.0,344.4 196.0,345.4 197.0,344.8 198.0,343.7 199.0,345.2 200.0,343.0 201.0,342.4 202.0,343.2 203.0,342.4 204.0,343.7 205.0,343.8 206.0,343.5 207.0,343.2 208.0,342.7 209.0,344.2 210.0,341.8 211.0,343.9 212.0,343.4 213.0,343.1 214.0,343.4 215.0,341.7 216.0,343.6 217.0,343.2 218.0,343.6 219.0,341.0 220.0,342.7 221.0,342.3 222.0,340.5 223.0,342.0 224.0,342.2 225.0,341.5 226.0,342.3 227.0,342.4 228.0,341.5 229.0,341.5 230.0,342.3 231.0,340.8 232.0,341.9 233.0,342.5 234.0,341.3 235.0,341.6 236.0,341.2 237.0,341.8 238.0,339.8 239.0,339.6 240.0,340.2 241.0,340.3 242.0,341.5 243.0,341.7 244.0,341.0 245.0,341.4 246.0,340.0 247.0,339.8 248.0,339.0 249.0,341.0 250.0,340.4 251.0,339.8 252.0,338.6 253.0,338.7 254.0,339.7 255.0,339.2 256.0,339.9 257.0,339.0 258.0,338.1 259.0,337.6 260.0,338.3 261.0,339.5 262.0,339.6 263.0,337.3 264.0,338.1 265.0,336.9 266.0,337.6 267.0,334.9 268.0,336.5 269.0,335.4 270.0,337.8 271.0,336.2 272.0,336.7 273.0,336.2 274.0,334.9 275.0,336.3 276.0,336.5 277.0,335.7 278.0,335.8 279.0,336.1 280.0,335.5 281.0,334.7 282.0,333.4 283.0,333.8 284.0,333.7 285.0,334.8 286.0,335.1 287.0,333.9 288.0,334.5 289.0,331.6 290.0,333.6 291.0,332.2 292.0,333.8 293.0,333.9 294.0,333.6 295.0,333.2 296.0,333.3 297.0,333.6 298.0,331.6 299.0,333.1 300.0,331.5 301.0,330.4 302.0,331.9 303.0,331.8 304.0,331.3 305.0,330.4 306.0,331.2 307.0,330.4 308.0,332.4 309.0,330.5 310.0,330.4 311.0,329.5 312.0,330.3 313.0,331.1 314.0,329.0 315.0,329.2 316.0,327.9 317.0,329.2 318.0,330.4 319.0,328.1 320.0,328.6 321.0,328.2 322.0,328.5 323.0,327.9 324.0,328.2 325.0,327.4 326.0,328.4 327.0,328.9 328.0,328.6 329.0,326.4 330.0,328.8 331.0,328.2 332.0,328.4 333.0,326.7 334.0,326.8 335.0,327.7 336.0,328.5 337.0,326.2 338.0,327.1 339.0,327.1 340.0,326.3 341.0,326.8 342.0,326.0 343.0,327.3 344.0,324.9 345.0,326.3 346.0,325.5 347.0,325.8 348.0,325.0 349.0,323.2 350.0,326.7 351.0,325.9 352.0,325.6 353.0,325.1 354.0,325.3 355.0,324.7 356.0,324.9 357.0,325.8 358.0,324.1 359.0,323.8 360.0,325.8 361.0,323.8 362.0,324.3 363.0,323.9 364.0,324.4 365.0,324.3 366.0,323.7 367.0,322.8 368.0,322.7 369.0,323.4 370.0,324.6 371.0,321.7 372.0,322.9 373.0,323.2 374.0,322.3 375.0,322.8 376.0,322.4 377.0,323.0 378.0,323.6 379.0,321.9 380.0,322.3 381.0,322.3 382.0,322.0 383.0,321.7 384.0,319.9 385.0,321.6 386.0,320.6 387.0,321.0 388.0,321.6 389.0,321.6 390.0,320.7 391.0,320.6 392.0,320.6 393.0,319.9 394.0,321.9 395.0,321.9 396.0,320.3 397.0,321.6 398.0,320.8 399.0,319.3 400.0,320.8 401.0,320.5 402.0,319.9 403.0,318.6 404.0,319.1 405.0,317.7 406.0,319.4 407.0,319.1 408.0,318.3 409.0,318.1 410.0,320.1 411.0,317.7 412.0,319.4 413.0,318.8 414.0,319.6 415.0,317.2 416.0,318.5 417.0,319.3 418.0,318.1 419.0,317.0 420.0,316.5 421.0,317.4 422.0,318.6 423.0,318.9 424.0,317.7 425.0,318.2 426.0,318.2 427.0,317.8 428.0,316.5 429.0,317.7 430.0,316.2 431.0,317.0 432.0,317.5 433.0,317.6 434.0,316.5 435.0,317.4 436.0,317.6 437.0,317.1 438.0,316.2 439.0,316.4 440.0,316.0 441.0,315.8 442.0,316.1 443.0,316.2 444.0,315.0 445.0,336.4 446.0,357.1 447.0,357.7 448.0,357.7 449.0,358.9 450.0,359.3 451.0,360.1 452.0,361.0 453.0,361.4 454.0,362.0 455.0,362.0 456.0,362.0 457.0,363.2 458.0,364.0 459.0,364.6 460.0,365.8 461.0,365.8 462.0,367.0 463.0,366.7 464.0,366.9 465.0,368.4 466.0,367.5 467.0,367.3 468.0,344.3 469.0,321.3 470.0,321.5 471.0,320.3 472.0,320.7 473.0,319.6 474.0,317.9 475.0,318.0 476.0,317.2 477.0,318.0 478.0,316.1 479.0,316.3 480.0,316.4 481.0,317.6 482.0,317.1 483.0,316.3 484.0,316.6 485.0,316.1 486.0,318.3 487.0,314.7 488.0,314.2 489.0,314.1 490.0,314.4 491.0,315.1 492.0,315.9 493.0,314.9 494.0,314.7 495.0,314.6 496.0,314.7 497.0,313.7 498.0,314.8 499.0,314.1 500.0,314.2 501.0,314.3 502.0,314.3 503.0,314.4 504.0,313.0 505.0,314.0 506.0,312.4 507.0,311.9 508.0,313.1 509.0,313.7 510.0,313.7 511.0,313.5 512.0,313.8 513.0,311.7 514.0,312.6 515.0,312.8 516.0,312.3 517.0,313.1 518.0,313.2 519.0,312.9 520.0,312.7 521.0,314.4 522.0,312.6 523.0,312.4 524.0,313.3 525.0,313.7 526.0,311.5 527.0,311.4 528.0,313.2 529.0,312.9 530.0,312.6 531.0,311.7 532.0,312.4 533.0,310.7 534.0,310.8 535.0,312.9 536.0,310.6 537.0,311.4 538.0,311.9 539.0,311.6 540.0,310.5 541.0,310.8 542.0,311.6 543.0,310.8 544.0,312.3 545.0,310.9 546.0,312.3 547.0,310.8 548.0,311.7 549.0,311.0 550.0,310.7 551.0,309.5 552.0,310.9 553.0,310.5 554.0,310.6 555.0,309.9 556.0,309.5 557.0,309.4 558.0,310.0 559.0,310.7 560.0,309.7 561.0,309.0 562.0,309.2 563.0,308.9 564.0,308.4 565.0,309.3 566.0,309.0 567.0,309.2 568.0,310.9 569.0,310.1 570.0,310.4 571.0,309.3 572.0,309.4 573.0,308.5 574.0,307.7 575.0,307.8 576.0,308.7 577.0,309.3 578.0,310.6 579.0,308.7 580.0,307.5 581.0,308.3 582.0,309.0 583.0,307.6 584.0,308.1 585.0,308.8 586.0,308.4 587.0,308.6 588.0,308.3 589.0,308.1 590.0,309.2 591.0,308.7 592.0,308.2 593.0,308.3 594.0,307.8 595.0,307.7 596.0,308.0 597.0,307.8 598.0,309.6 599.0,307.7 600.0,307.8 601.0,309.1 602.0,306.6 603.0,307.3 604.0,308.1 605.0,307.2 606.0,306.9 607.0,306.2 608.0,306.8 609.0,306.2 610.0,307.4 611.0,307.0 612.0,306.2 613.0,307.3 614.0,305.5 615.0,305.5 616.0,306.7 617.0,306.2 618.0,305.0 619.0,305.3 620.0,305.6 621.0,305.2 622.0,305.7 623.0,305.4 624.0,305.8 625.0,305.3 626.0,305.5 627.0,304.8 628.0,305.4 629.0,305.2 630.0,305.4 631.0,305.1 632.0,304.4 633.0,304.6 634.0,305.5 635.0,304.2 636.0,304.4 637.0,305.5 638.0,304.7 639.0,304.6 640.0,303.3 641.0,303.3 642.0,304.2 643.0,305.5 644.0,302.5 645.0,302.5 646.0,304.2 647.0,304.0 648.0,303.0 649.0,304.4 650.0,303.8 651.0,303.3 652.0,303.5 653.0,303.1 654.0,303.8 655.0,302.9 656.0,302.6 657.0,302.9 658.0,303.7 659.0,304.2 660.0,302.8 661.0,302.5 662.0,303.5 663.0,304.1 664.0,302.9 665.0,304.3 666.0,302.5 667.0,304.2 668.0,303.6 669.0,301.7 670.0,303.4 671.0,302.8 672.0,302.8 673.0,302.3 674.0,302.9 675.0,302.3 676.0,302.9 677.0,303.6 678.0,303.8 679.0,303.5 680.0,303.3 681.0,303.0 682.0,302.4 683.0,301.7 684.0,303.3 685.0,302.2 686.0,302.6 687.0,301.4 688.0,302.7 689.0,303.4 690.0,302.3 691.0,303.0 692.0,302.1 693.0,302.4 694.0,301.8 695.0,300.1 696.0,302.4 697.0,302.5 698.0,302.5 699.0,303.3 700.0,302.7 701.0,302.3 702.0,301.4 703.0,304.1 704.0,300.8 705.0,301.5 706.0,301.4 707.0,302.6 708.0,302.0 709.0,302.1 710.0,300.3 711.0,301.2 712.0,302.4 713.0,301.2 714.0,300.6 715.0,301.7 716.0,301.0 717.0,301.4 718.0,301.7 719.0,300.6 720.0,301.3 721.0,302.4 722.0,301.1 723.0,301.1 724.0,300.8 725.0,301.4 726.0,301.5 727.0,300.4 728.0,301.2 729.0,302.3 730.0,299.7 731.0,301.8 732.0,301.6 733.0,299.7 734.0,299.6 735.0,300.4 736.0,301.9 737.0,300.3 738.0,300.8 739.0,300.8 740.0,300.6 741.0,302.2 742.0,300.8 743.0,299.7 744.0,300.8 745.0,301.0 746.0,299.6 747.0,300.6 748.0,299.9 749.0,299.4 750.0,299.6 751.0,300.9 752.0,300.1 753.0,299.0 754.0,300.8 755.0,299.9 756.0,297.8 757.0,299.3 758.0,298.2 759.0,299.5 760.0,302.1 761.0,301.5 762.0,300.1 763.0,299.1 764.0,298.8 765.0,299.1 766.0,299.8 767.0,300.5 768.0,299.5 769.0,300.4 770.0,299.2 771.0,297.6 772.0,299.5 773.0,299.9 774.0,299.5 775.0,299.9 776.0,298.2 777.0,298.7 778.0,298.8 779.0,299.0 780.0,299.1 781.0,299.4 782.0,298.2 783.0,297.6 784.0,298.1 785.0,298.2 786.0,297.9 787.0,297.5 788.0,298.8 789.0,298.8 790.0,298.8 791.0,298.6 792.0,298.3 793.0,297.5 794.0,297.4 795.0,297.9 796.0,296.2 797.0,297.7 798.0,295.9 799.0,298.8 800.0,297.8 801.0,296.8 802.0,297.2 803.0,296.7 804.0,298.3 805.0,297.9 806.0,297.0 807.0,296.5 808.0,297.3 809.0,297.0 810.0,296.7 811.0,296.2 812.0,295.3 813.0,295.4 814.0,295.8 815.0,295.1 816.0,295.5 817.0,297.6 818.0,296.2 819.0,296.6 820.0,295.6 821.0,297.0 822.0,296.0 823.0,296.4 824.0,296.6 825.0,296.0 826.0,297.0 827.0,294.7 828.0,295.1 829.0,295.7 830.0,295.1 831.0,295.5 832.0,296.7 833.0,294.7 834.0,295.1 835.0,294.4 836.0,294.0 837.0,293.1 838.0,294.9 839.0,295.5 840.0,294.4 841.0,295.2 842.0,293.1 843.0,294.0 844.0,293.9 845.0,294.5 846.0,293.9 847.0,294.2 848.0,294.8 849.0,292.7 850.0,293.4 851.0,293.7 852.0,292.8 853.0,293.6 854.0,291.8 855.0,292.3 856.0,292.8 857.0,291.5 858.0,294.5 859.0,294.2 860.0,293.7 861.0,293.2 862.0,293.2 863.0,292.2 864.0,292.2 865.0,290.7 866.0,292.9 867.0,291.9 868.0,290.5 869.0,291.3 870.0,292.2 871.0,290.5 872.0,291.3 873.0,289.9 874.0,291.1 875.0,291.4 876.0,289.4 877.0,290.6 878.0,291.5 879.0,290.8 880.0,292.1 881.0,291.6 882.0,291.7 883.0,289.7 884.0,289.8 885.0,290.7 886.0,290.8 887.0,289.9 888.0,290.0 889.0,289.3 890.0,289.6 891.0,290.2 892.0,290.9 893.0,290.1 894.0,290.3 895.0,289.5 896.0,289.8 897.0,290.1 898.0,288.5 899.0,289.9 900.0,289.5 901.0,289.7 902.0,289.1 903.0,288.2 904.0,288.3 905.0,288.5 906.0,286.4 907.0,287.6 908.0,287.7 909.0,287.7 910.0,287.2 911.0,287.0 912.0,287.4 913.0,286.9 914.0,288.3 915.0,287.1 916.0,286.8 917.0,287.4 918.0,286.5 919.0,286.3 920.0,287.1 921.0,286.8 922.0,285.7 923.0,284.6 924.0,285.0 925.0,285.7 926.0,283.8 927.0,284.7 928.0,284.7 929.0,283.4 930.0,285.3 931.0,284.0 932.0,282.8 933.0,283.1 934.0,284.0 935.0,284.6 936.0,283.5 937.0,283.3 938.0,282.8 939.0,284.0 940.0,283.6 941.0,281.2 942.0,282.3 943.0,282.5 944.0,281.7 945.0,282.0 946.0,282.0 947.0,280.6 948.0,282.2 949.0,281.1 950.0,281.6 951.0,280.8 952.0,280.4 953.0,281.3 954.0,280.4 955.0,281.1 956.0,280.2 957.0,281.2 958.0,278.8 959.0,279.2 960.0,278.4 961.0,277.8 962.0,278.4 963.0,276.8 964.0,277.5 965.0,278.3 966.0,277.3 967.0,276.1 968.0,276.0 969.0,276.4 970.0,276.7 971.0,274.9 972.0,274.9 973.0,274.8 974.0,274.0 975.0,274.0 976.0,273.6 977.0,274.1 978.0,272.2 979.0,272.4 980.0,272.3 981.0,271.1 982.0,271.0 983.0,270.9 984.0,269.5 985.0,269.9 986.0,269.0 987.0,269.1 988.0,268.7 989.0,268.5 990.0,269.0 991.0,269.1 992.0,268.4 993.0,266.8 994.0,267.3 995.0,265.8 996.0,266.8 997.0,266.6 998.0,265.4 999.0,265.4 1000.0,265.6 1001.0,264.7 1002.0,262.8 1003.0,261.9 1004.0,260.3 1005.0,260.4 1006.0,259.4 1007.0,259.0 1008.0,258.6 1009.0,256.2 1010.0,255.8 1011.0,255.3 1012.0,253.5 1013.0,253.7 1014.0,252.6 1015.0,252.4 1016.0,251.8 1017.0,250.9 1018.0,249.3 1019.0,248.9 1020.0,248.0 1021.0,247.8 1022.0,264.6 1023.0,284.8 1024.0,288.7 1025.0,293.7 1026.0,298.8 1027.0,300.6 1028.0,303.1 1029.0,304.9 1030.0,308.2 1031.0,309.8 1032.0,310.4 1033.0,313.3 1034.0,314.0 1035.0,314.3 1036.0,317.3 1037.0,319.2 1038.0,320.6 1039.0,321.8 1040.0,323.1 1041.0,325.0 1042.0,326.4 1043.0,323.2 1044.0,322.7 1045.0,322.0 1046.0,314.2 1047.0,307.3 1048.0,299.7 1049.0,291.4 1050.0,283.3 1051.0,277.3 1052.0,267.6 1053.0,260.6 1054.0,254.5 1055.0,245.8 1056.0,238.1 1057.0,230.0 1058.0,230.6 1059.0,231.7 1060.0,229.5 1061.0,228.8 1062.0,229.6 1063.0,229.9 1064.0,228.5 1065.0,227.3 1066.0,227.9 1067.0,226.8 1068.0,227.9 1069.0,226.8 1070.0,227.1 1071.0,226.5 1072.0,226.8 1073.0,224.3 1074.0,225.9 1075.0,225.5 1076.0,225.4 1077.0,223.8 1078.0,225.7 1079.0,223.9 1080.0,224.5 1081.0,223.5 1082.0,223.4 1083.0,223.0 1084.0,221.8 1085.0,222.3 1086.0,223.6 1087.0,221.4 1088.0,222.2 1089.0,220.4 1090.0,222.4 1091.0,220.2 1092.0,220.1 1093.0,220.7 1094.0,220.9 1095.0,219.3 1096.0,219.9 1097.0,220.2 1098.0,219.5 1099.0,218.7 1100.0,219.3 1101.0,219.7 1102.0,220.5 1103.0,219.5 1104.0,217.0 1105.0,219.2 1106.0,218.8 1107.0,218.1 1108.0,218.2 1109.0,218.4 1110.0,217.2 1111.0,216.3 1112.0,216.9 1113.0,217.4 1114.0,216.3 1115.0,216.1 1116.0,215.4 1117.0,216.7 1118.0,215.3 1119.0,215.8 1120.0,215.2 1121.0,216.6 1122.0,216.2 1123.0,217.1 1124.0,214.6 1125.0,214.2 1126.0,215.0 1127.0,213.6 1128.0,214.1 1129.0,214.8 1130.0,214.2 1131.0,214.6 1132.0,213.2 1133.0,213.3 1134.0,213.4 1135.0,214.0 1136.0,214.0 1137.0,214.0 1138.0,215.4 1139.0,217.0 1140.0,219.5 1141.0,222.2 1142.0,223.2 1143.0,226.0 1144.0,226.1 1145.0,228.5 1146.0,229.2 1147.0,229.0 1148.0,231.2 1149.0,231.3 1150.0,232.0 1151.0,232.8 1152.0,233.2 1153.0,233.4 1154.0,234.1 1155.0,234.5 1156.0,235.6 1157.0,236.0 1158.0,236.7 1159.0,236.6 1160.0,236.9 1161.0,237.9 1162.0,238.3 1163.0,238.1 1164.0,239.1 1165.0,239.1 1166.0,240.1 1167.0,240.2 1168.0,240.3 1169.0,240.8 1170.0,241.3 1171.0,240.8 1172.0,242.0 1173.0,242.0 1174.0,242.6 1175.0,241.8 1176.0,243.1 1177.0,243.1 1178.0,243.1 1179.0,244.2 1180.0,244.1 1181.0,243.9 1182.0,244.2 1183.0,244.9 1184.0,245.3 1185.0,245.1 1186.0,245.0 1187.0,245.8 1188.0,245.3 1189.0,245.9 1190.0,245.9 1191.0,245.8 1192.0,245.8 1193.0,246.0 1194.0,246.3 1195.0,246.8 1196.0,246.5 1197.0,246.5 1198.0,247.3 1199.0,247.4 1200.0,247.3 1201.0,247.8 1202.0,247.8 1203.0,248.4 1204.0,248.1 1205.0,248.1 1206.0,248.4 1207.0,248.7 1208.0,248.9 1209.0,249.0 1210.0,249.2 1211.0,249.1 1212.0,249.4 1213.0,250.1 1214.0,249.8 1215.0,249.7 1216.0,249.9 1217.0,250.0 1218.0,250.3 1219.0,250.2 1220.0,250.9 1221.0,250.5 1222.0,250.7 1223.0,251.3 1224.0,251.1 1225.0,251.5 1226.0,251.3 1227.0,251.7 1228.0,252.2 1229.0,251.4 1230.0,252.0 1231.0,251.6 1232.0,252.1 1233.0,252.0 1234.0,252.4 1235.0,252.1 1236.0,252.0 1237.0,252.9 1238.0,252.9 1239.0,253.3 1240.0,253.1 1241.0,253.2 1242.0,253.1 1243.0,253.1 1244.0,253.6 1245.0,253.4 1246.0,254.2 1247.0,254.4 1248.0,254.2 1249.0,254.6 1250.0,254.3 1251.0,254.3 1252.0,255.3 1253.0,254.7 1254.0,255.2 1255.0,254.8 1256.0,255.2 1257.0,255.5 1258.0,254.9 1259.0,255.1 1260.0,255.4 1261.0,255.6 1262.0,255.9 1263.0,255.8 1264.0,255.9 1265.0,255.9 1266.0,256.0 1267.0,256.4 1268.0,256.3 1269.0,256.2 1270.0,256.3 1271.0,256.5 1272.0,256.3 1273.0,256.9 1274.0,257.1 1275.0,256.7 1276.0,257.0 1277.0,257.1 1278.0,257.5 1279.0,257.2 1280.0,257.4 1281.0,257.3 1282.0,257.4 1283.0,257.6 1284.0,258.7 1285.0,258.2" stroke="#837e10" fill="none" stroke-width="1"/></svg>
<svg width="1354" height="600" viewBox="0 0 1354 600" style="position:absolute;left:0;top:0"><path d="M 352.5,62.8 L 874,62.8 A 38,19 0 0 1 912,82 L 912,242 A 46,19.5 0 0 1 866,261.5 L 482.3,261.5 L 311.7,328.3 L 378.4,261.5 L 355,261.5 A 41,18 0 0 1 314,243.5 L 314,82 A 38.5,19.2 0 0 1 352.5,62.8 Z" fill="none" stroke="#000" stroke-width="2.2" stroke-linejoin="miter"/><rect x="322" y="71" width="576" height="174" fill="#fefde8"/><rect x="322" y="245" width="576" height="8" fill="#ffffff"/><line x1="345.5" y1="71" x2="345.5" y2="245" stroke="#a0a096" stroke-width="1" stroke-dasharray="1 2" stroke-dashoffset="1" shape-rendering="crispEdges"/><line x1="375.5" y1="71" x2="375.5" y2="245" stroke="#a0a096" stroke-width="1" stroke-dasharray="1 2" stroke-dashoffset="1" shape-rendering="crispEdges"/><line x1="406.5" y1="71" x2="406.5" y2="245" stroke="#a0a096" stroke-width="1" stroke-dasharray="1 2" stroke-dashoffset="1" shape-rendering="crispEdges"/><line x1="437.5" y1="71" x2="437.5" y2="245" stroke="#a0a096" stroke-width="1" stroke-dasharray="1 2" stroke-dashoffset="1" shape-rendering="crispEdges"/><line x1="468.5" y1="71" x2="468.5" y2="245" stroke="#a0a096" stroke-width="1" stroke-dasharray="1 2" stroke-dashoffset="1" shape-rendering="crispEdges"/><line x1="499.5" y1="71" x2="499.5" y2="245" stroke="#a0a096" stroke-width="1" stroke-dasharray="1 2" stroke-dashoffset="1" shape-rendering="crispEdges"/><line x1="530.5" y1="71" x2="530.5" y2="245" stroke="#a0a096" stroke-width="1" stroke-dasharray="1 2" stroke-dashoffset="1" shape-rendering="crispEdges"/><line x1="561.5" y1="71" x2="561.5" y2="245" stroke="#a0a096" stroke-width="1" stroke-dasharray="1 2" stroke-dashoffset="1" shape-rendering="crispEdges"/><line x1="592.5" y1="71" x2="592.5" y2="245" stroke="#a0a096" stroke-width="1" stroke-dasharray="1 2" stroke-dashoffset="1" shape-rendering="crispEdges"/><line x1="623.5" y1="71" x2="623.5" y2="245" stroke="#a0a096" stroke-width="1" stroke-dasharray="1 2" stroke-dashoffset="1" shape-rendering="crispEdges"/><line x1="654.5" y1="71" x2="654.5" y2="245" stroke="#a0a096" stroke-width="1" stroke-dasharray="1 2" stroke-dashoffset="1" shape-rendering="crispEdges"/><line x1="685.5" y1="71" x2="685.5" y2="245" stroke="#a0a096" stroke-width="1" stroke-dasharray="1 2" stroke-dashoffset="1" shape-rendering="crispEdges"/><line x1="716.5" y1="71" x2="716.5" y2="245" stroke="#a0a096" stroke-width="1" stroke-dasharray="1 2" stroke-dashoffset="1" shape-rendering="crispEdges"/><line x1="747.5" y1="71" x2="747.5" y2="245" stroke="#a0a096" stroke-width="1" stroke-dasharray="1 2" stroke-dashoffset="1" shape-rendering="crispEdges"/><line x1="778.5" y1="71" x2="778.5" y2="245" stroke="#a0a096" stroke-width="1" stroke-dasharray="1 2" stroke-dashoffset="1" shape-rendering="crispEdges"/><line x1="809.5" y1="71" x2="809.5" y2="245" stroke="#a0a096" stroke-width="1" stroke-dasharray="1 2" stroke-dashoffset="1" shape-rendering="crispEdges"/><line x1="840.5" y1="71" x2="840.5" y2="245" stroke="#a0a096" stroke-width="1" stroke-dasharray="1 2" stroke-dashoffset="1" shape-rendering="crispEdges"/><line x1="870.5" y1="71" x2="870.5" y2="245" stroke="#a0a096" stroke-width="1" stroke-dasharray="1 2" stroke-dashoffset="1" shape-rendering="crispEdges"/><clipPath id="ic"><rect x="322" y="71" width="576" height="174"/></clipPath><g clip-path="url(#ic)" fill="none" stroke-width="1" stroke-linejoin="round"><polyline points="333.0,250.0 336.0,199.0 346.0,188.0 351.0,142.0 357.6,193.0 363.0,139.5 375.4,207.5 383.0,176.0 388.7,204.6 395.8,152.0 401.5,176.0 407.0,160.0 413.0,168.0 419.0,150.0 425.6,145.0 431.0,159.0 438.3,138.0 445.0,145.0 457.0,142.0 467.0,141.0 475.4,151.0 482.5,142.0 490.0,150.0 499.5,114.0 505.0,148.0 512.2,92.7 519.3,145.0 530.7,116.8 536.3,142.0 543.4,142.0 546.0,250.0" stroke="#f2e24a" stroke-width="0.9"/><polyline points="334.0,250.0 337.0,215.0 341.0,200.0 348.0,196.0 358.0,192.0 367.5,187.6 377.4,179.0 390.2,173.5 400.9,148.0 407.2,193.3 413.4,145.2 421.3,173.5 427.0,179.0 432.6,165.0 438.3,173.5 444.0,159.0 451.3,148.0 457.0,156.5 462.7,150.8 476.8,159.3 485.3,153.7 493.8,162.0 499.5,152.0 506.6,156.5 512.2,148.0 519.3,148.0 524.4,115.4 529.2,136.7 536.3,119.7 542.0,112.6 547.0,250.0" stroke="#3cc060" stroke-width="0.9"/><polyline points="340.0,200.0 350.0,194.0 362.0,190.0 376.0,183.0 395.0,176.0 410.0,170.0 430.0,164.0 450.0,160.0 470.0,157.0 500.0,155.0 516.0,152.0 542.0,152.0 548.0,250.0" stroke="#7ed870" stroke-width="0.9"/><polyline points="334.0,250.0 335.0,212.0 339.5,192.0 348.0,186.0 360.0,180.0 376.0,174.0 395.0,164.0 410.0,160.0 424.0,156.0 445.0,150.0 468.0,143.7 496.7,138.0 525.0,136.7 542.0,136.7 548.0,250.0" stroke="#d8a07c" stroke-width="0.9"/><polyline points="331.0,250.0 332.0,219.0 339.2,186.2 347.7,182.0 359.0,173.5 376.0,164.4 384.5,163.6 393.0,165.0 410.0,156.5 424.0,152.2 445.0,146.6 468.3,139.5 496.7,133.8 508.0,132.4 525.0,129.6 536.3,128.2 543.0,127.6 549.0,250.0" stroke="#a8441c" stroke-width="0.9"/><polyline points="333.0,250.0 333.5,216.0 342.0,201.8 350.5,196.1 361.8,200.4 370.3,187.6 381.7,182.0 393.0,179.0 407.2,173.5 418.5,170.7 444.0,162.0 462.7,162.0 479.7,156.5 496.7,153.7 513.7,152.2 525.0,146.6 533.5,143.7 543.0,144.6 547.0,250.0" stroke="#4aa6dc" stroke-width="0.9"/><polyline points="332.0,250.0 333.5,213.0 339.2,204.6 347.7,199.0 353.3,196.1 361.8,190.5 376.0,184.8 387.3,180.6 404.3,176.3 415.7,170.7 432.6,167.8 444.0,166.4 457.0,165.0 468.3,160.7 485.3,156.5 496.7,154.2 508.0,154.2 519.3,150.8 530.7,148.0 543.0,145.2 548.0,250.0" stroke="#1c3a94" stroke-width="0.9"/><polyline points="627.0,250.0 630.0,190.0 633.0,250.0" stroke="#a8441c" stroke-width="0.9"/><polyline points="628.0,250.0 630.5,205.0 633.5,250.0" stroke="#1c3a94" stroke-width="0.9"/><polyline points="627.5,250.0 630.0,215.0 632.5,250.0" stroke="#3cc060" stroke-width="0.9"/><polyline points="628.5,250.0 631.0,200.0 634.0,250.0" stroke="#d8a07c" stroke-width="0.9"/><polyline points="674.0,250.0 675.0,180.0 679.5,137.5 682.5,167.5 688.0,155.0 692.5,160.0 697.5,146.0 703.8,154.0 711.2,128.8 716.2,162.5 722.5,185.0 728.8,137.5 735.0,172.5 741.2,157.5 750.0,150.0 760.0,145.0 770.0,145.0 776.0,142.0 782.0,154.0 794.0,139.0 809.0,128.5 821.0,133.0 830.0,125.5 842.0,134.5 847.5,88.0 854.0,128.5 859.5,106.0 866.0,127.0 872.0,115.0 878.0,79.0 880.0,250.0" stroke="#f2e24a" stroke-width="0.9"/><polyline points="675.0,250.0 678.0,185.0 679.5,175.0 686.0,160.0 692.5,145.0 696.2,162.5 700.0,155.0 710.0,170.0 722.5,183.8 735.0,157.5 747.5,203.8 760.0,125.0 772.5,173.8 779.0,148.0 785.0,170.6 791.0,142.0 803.0,154.0 815.0,139.0 822.5,154.0 830.0,139.0 842.0,140.5 847.5,158.6 854.0,137.5 859.5,170.6 866.0,133.0 872.0,110.5 876.6,124.0 878.0,130.0 880.0,250.0" stroke="#3cc060" stroke-width="0.9"/><polyline points="692.0,164.0 730.0,164.0 760.0,160.0 800.0,150.0 842.0,140.5 869.0,137.5 879.0,137.5 881.0,250.0" stroke="#7ed870" stroke-width="0.9"/><polyline points="675.0,250.0 678.8,170.0 692.5,163.8 722.5,151.2 747.5,142.5 770.0,140.5 788.0,134.5 806.0,131.5 830.0,127.0 842.0,124.0 869.0,122.5 878.0,124.0 881.0,250.0" stroke="#d8a07c" stroke-width="0.9"/><polyline points="674.0,250.0 678.8,168.8 692.5,158.8 705.0,152.5 722.5,146.2 747.5,137.0 765.0,137.0 782.0,136.7 809.0,127.0 839.0,125.5 869.0,118.0 873.6,116.5 878.0,119.5 881.0,250.0" stroke="#a8441c" stroke-width="0.9"/><polyline points="675.0,250.0 678.8,186.0 692.5,176.0 710.0,170.0 735.0,160.0 765.0,152.5 788.0,145.0 809.0,140.5 827.0,139.0 842.0,143.5 854.0,134.5 860.0,137.5 866.0,133.0 879.0,134.5 881.0,250.0" stroke="#4aa6dc" stroke-width="0.9"/><polyline points="674.0,250.0 678.8,185.0 692.5,175.0 710.0,167.5 722.5,163.8 735.0,157.5 747.5,157.5 767.5,147.5 779.0,151.0 794.0,146.5 809.0,143.5 827.0,137.5 842.0,137.5 854.0,133.0 860.0,137.5 866.0,131.5 879.0,131.5 880.0,250.0" stroke="#1c3a94" stroke-width="0.9"/></g><g fill="none" stroke="#000" stroke-width="1.3" stroke-linecap="round" stroke-linejoin="round"><path d="M582.5,105.7 L519.4,95.7 M526.8,94.2 L519.4,95.7 L523.8,100.5"/><path d="M583.7,109 L545.6,117.5 M550.8,114.5 L545.6,117.5 L550.8,120.8"/><path d="M705,106 C 648,122 644,190 682,192.5 L 740,194.5 M 735,191 L 740,194.5 L 735,198"/><path d="M705,106 L 708.5,127.5 M 703.5,125.5 L 708.5,127.5 L 711.5,123"/></g><text x="587" y="108.6" font-family="DejaVu Sans, sans-serif" font-size="7.3" fill="#000">zick-Zack bei Zellen 12 und 13</text><g fill="none" stroke="#000" stroke-width="2" stroke-linecap="round" stroke-linejoin="round"><path d="M961.3,41.3 C 990,30 1000,27 1012,28.5 C 1035,30 1050,41 1075,41 L 1108.3,38.8"/><path d="M 1105,36.4 L 1108.5,39 L 1106.6,43.4" stroke-width="1.5"/><path d="M1002,60.9 C 1010,68 1015,76 1023,74.5 C 1035,71 1042,58 1065,59.5"/><path d="M 1060.7,53.7 L 1065.5,59.5 L 1058,64.3" stroke-width="1.5"/></g><text x="901" y="56.6" font-family="Liberation Sans, Arial, sans-serif" font-size="14.3" fill="#000" stroke="#000" stroke-width="0.25">Zellen 15 und 16</text></svg>
</body></html>
